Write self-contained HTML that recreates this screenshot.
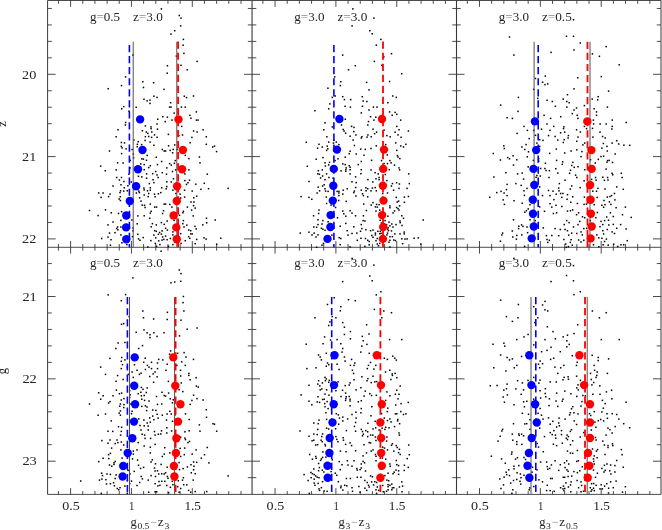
<!DOCTYPE html>
<html><head><meta charset="utf-8"><title>CMD panels</title>
<style>
html,body{margin:0;padding:0;background:#fff;}
svg{display:block;font-family:"Liberation Serif",serif;}
</style></head><body>
<svg width="662" height="530" viewBox="0 0 662 530">
<rect width="662" height="530" fill="#fff"/>
<line x1="47.60" y1="0.50" x2="47.60" y2="494.40" stroke="#383838" stroke-width="1" />
<line x1="252.05" y1="0.50" x2="252.05" y2="494.40" stroke="#383838" stroke-width="1.1" />
<line x1="456.50" y1="0.50" x2="456.50" y2="494.40" stroke="#383838" stroke-width="1.1" />
<line x1="661.00" y1="0.50" x2="661.00" y2="494.40" stroke="#383838" stroke-width="1" />
<line x1="47.60" y1="0.50" x2="661.00" y2="0.50" stroke="#383838" stroke-width="0.9" />
<line x1="47.60" y1="247.30" x2="661.00" y2="247.30" stroke="#383838" stroke-width="0.9" />
<line x1="47.60" y1="494.40" x2="661.00" y2="494.40" stroke="#383838" stroke-width="0.9" />
<line x1="58.43" y1="0.50" x2="58.43" y2="3.80" stroke="#383838" stroke-width="0.9" />
<line x1="58.43" y1="244.00" x2="58.43" y2="250.60" stroke="#383838" stroke-width="0.9" />
<line x1="58.43" y1="491.10" x2="58.43" y2="494.40" stroke="#383838" stroke-width="0.9" />
<line x1="70.60" y1="0.50" x2="70.60" y2="6.80" stroke="#383838" stroke-width="0.9" />
<line x1="70.60" y1="241.00" x2="70.60" y2="253.60" stroke="#383838" stroke-width="0.9" />
<line x1="70.60" y1="488.10" x2="70.60" y2="494.40" stroke="#383838" stroke-width="0.9" />
<line x1="82.77" y1="0.50" x2="82.77" y2="3.80" stroke="#383838" stroke-width="0.9" />
<line x1="82.77" y1="244.00" x2="82.77" y2="250.60" stroke="#383838" stroke-width="0.9" />
<line x1="82.77" y1="491.10" x2="82.77" y2="494.40" stroke="#383838" stroke-width="0.9" />
<line x1="94.94" y1="0.50" x2="94.94" y2="3.80" stroke="#383838" stroke-width="0.9" />
<line x1="94.94" y1="244.00" x2="94.94" y2="250.60" stroke="#383838" stroke-width="0.9" />
<line x1="94.94" y1="491.10" x2="94.94" y2="494.40" stroke="#383838" stroke-width="0.9" />
<line x1="107.11" y1="0.50" x2="107.11" y2="3.80" stroke="#383838" stroke-width="0.9" />
<line x1="107.11" y1="244.00" x2="107.11" y2="250.60" stroke="#383838" stroke-width="0.9" />
<line x1="107.11" y1="491.10" x2="107.11" y2="494.40" stroke="#383838" stroke-width="0.9" />
<line x1="119.28" y1="0.50" x2="119.28" y2="3.80" stroke="#383838" stroke-width="0.9" />
<line x1="119.28" y1="244.00" x2="119.28" y2="250.60" stroke="#383838" stroke-width="0.9" />
<line x1="119.28" y1="491.10" x2="119.28" y2="494.40" stroke="#383838" stroke-width="0.9" />
<line x1="131.45" y1="0.50" x2="131.45" y2="6.80" stroke="#383838" stroke-width="0.9" />
<line x1="131.45" y1="241.00" x2="131.45" y2="253.60" stroke="#383838" stroke-width="0.9" />
<line x1="131.45" y1="488.10" x2="131.45" y2="494.40" stroke="#383838" stroke-width="0.9" />
<line x1="143.62" y1="0.50" x2="143.62" y2="3.80" stroke="#383838" stroke-width="0.9" />
<line x1="143.62" y1="244.00" x2="143.62" y2="250.60" stroke="#383838" stroke-width="0.9" />
<line x1="143.62" y1="491.10" x2="143.62" y2="494.40" stroke="#383838" stroke-width="0.9" />
<line x1="155.79" y1="0.50" x2="155.79" y2="3.80" stroke="#383838" stroke-width="0.9" />
<line x1="155.79" y1="244.00" x2="155.79" y2="250.60" stroke="#383838" stroke-width="0.9" />
<line x1="155.79" y1="491.10" x2="155.79" y2="494.40" stroke="#383838" stroke-width="0.9" />
<line x1="167.96" y1="0.50" x2="167.96" y2="3.80" stroke="#383838" stroke-width="0.9" />
<line x1="167.96" y1="244.00" x2="167.96" y2="250.60" stroke="#383838" stroke-width="0.9" />
<line x1="167.96" y1="491.10" x2="167.96" y2="494.40" stroke="#383838" stroke-width="0.9" />
<line x1="180.13" y1="0.50" x2="180.13" y2="3.80" stroke="#383838" stroke-width="0.9" />
<line x1="180.13" y1="244.00" x2="180.13" y2="250.60" stroke="#383838" stroke-width="0.9" />
<line x1="180.13" y1="491.10" x2="180.13" y2="494.40" stroke="#383838" stroke-width="0.9" />
<line x1="192.30" y1="0.50" x2="192.30" y2="6.80" stroke="#383838" stroke-width="0.9" />
<line x1="192.30" y1="241.00" x2="192.30" y2="253.60" stroke="#383838" stroke-width="0.9" />
<line x1="192.30" y1="488.10" x2="192.30" y2="494.40" stroke="#383838" stroke-width="0.9" />
<line x1="204.47" y1="0.50" x2="204.47" y2="3.80" stroke="#383838" stroke-width="0.9" />
<line x1="204.47" y1="244.00" x2="204.47" y2="250.60" stroke="#383838" stroke-width="0.9" />
<line x1="204.47" y1="491.10" x2="204.47" y2="494.40" stroke="#383838" stroke-width="0.9" />
<line x1="216.64" y1="0.50" x2="216.64" y2="3.80" stroke="#383838" stroke-width="0.9" />
<line x1="216.64" y1="244.00" x2="216.64" y2="250.60" stroke="#383838" stroke-width="0.9" />
<line x1="216.64" y1="491.10" x2="216.64" y2="494.40" stroke="#383838" stroke-width="0.9" />
<line x1="228.81" y1="0.50" x2="228.81" y2="3.80" stroke="#383838" stroke-width="0.9" />
<line x1="228.81" y1="244.00" x2="228.81" y2="250.60" stroke="#383838" stroke-width="0.9" />
<line x1="228.81" y1="491.10" x2="228.81" y2="494.40" stroke="#383838" stroke-width="0.9" />
<line x1="240.98" y1="0.50" x2="240.98" y2="3.80" stroke="#383838" stroke-width="0.9" />
<line x1="240.98" y1="244.00" x2="240.98" y2="250.60" stroke="#383838" stroke-width="0.9" />
<line x1="240.98" y1="491.10" x2="240.98" y2="494.40" stroke="#383838" stroke-width="0.9" />
<line x1="262.88" y1="0.50" x2="262.88" y2="3.80" stroke="#383838" stroke-width="0.9" />
<line x1="262.88" y1="244.00" x2="262.88" y2="250.60" stroke="#383838" stroke-width="0.9" />
<line x1="262.88" y1="491.10" x2="262.88" y2="494.40" stroke="#383838" stroke-width="0.9" />
<line x1="275.05" y1="0.50" x2="275.05" y2="6.80" stroke="#383838" stroke-width="0.9" />
<line x1="275.05" y1="241.00" x2="275.05" y2="253.60" stroke="#383838" stroke-width="0.9" />
<line x1="275.05" y1="488.10" x2="275.05" y2="494.40" stroke="#383838" stroke-width="0.9" />
<line x1="287.22" y1="0.50" x2="287.22" y2="3.80" stroke="#383838" stroke-width="0.9" />
<line x1="287.22" y1="244.00" x2="287.22" y2="250.60" stroke="#383838" stroke-width="0.9" />
<line x1="287.22" y1="491.10" x2="287.22" y2="494.40" stroke="#383838" stroke-width="0.9" />
<line x1="299.39" y1="0.50" x2="299.39" y2="3.80" stroke="#383838" stroke-width="0.9" />
<line x1="299.39" y1="244.00" x2="299.39" y2="250.60" stroke="#383838" stroke-width="0.9" />
<line x1="299.39" y1="491.10" x2="299.39" y2="494.40" stroke="#383838" stroke-width="0.9" />
<line x1="311.56" y1="0.50" x2="311.56" y2="3.80" stroke="#383838" stroke-width="0.9" />
<line x1="311.56" y1="244.00" x2="311.56" y2="250.60" stroke="#383838" stroke-width="0.9" />
<line x1="311.56" y1="491.10" x2="311.56" y2="494.40" stroke="#383838" stroke-width="0.9" />
<line x1="323.73" y1="0.50" x2="323.73" y2="3.80" stroke="#383838" stroke-width="0.9" />
<line x1="323.73" y1="244.00" x2="323.73" y2="250.60" stroke="#383838" stroke-width="0.9" />
<line x1="323.73" y1="491.10" x2="323.73" y2="494.40" stroke="#383838" stroke-width="0.9" />
<line x1="335.90" y1="0.50" x2="335.90" y2="6.80" stroke="#383838" stroke-width="0.9" />
<line x1="335.90" y1="241.00" x2="335.90" y2="253.60" stroke="#383838" stroke-width="0.9" />
<line x1="335.90" y1="488.10" x2="335.90" y2="494.40" stroke="#383838" stroke-width="0.9" />
<line x1="348.07" y1="0.50" x2="348.07" y2="3.80" stroke="#383838" stroke-width="0.9" />
<line x1="348.07" y1="244.00" x2="348.07" y2="250.60" stroke="#383838" stroke-width="0.9" />
<line x1="348.07" y1="491.10" x2="348.07" y2="494.40" stroke="#383838" stroke-width="0.9" />
<line x1="360.24" y1="0.50" x2="360.24" y2="3.80" stroke="#383838" stroke-width="0.9" />
<line x1="360.24" y1="244.00" x2="360.24" y2="250.60" stroke="#383838" stroke-width="0.9" />
<line x1="360.24" y1="491.10" x2="360.24" y2="494.40" stroke="#383838" stroke-width="0.9" />
<line x1="372.41" y1="0.50" x2="372.41" y2="3.80" stroke="#383838" stroke-width="0.9" />
<line x1="372.41" y1="244.00" x2="372.41" y2="250.60" stroke="#383838" stroke-width="0.9" />
<line x1="372.41" y1="491.10" x2="372.41" y2="494.40" stroke="#383838" stroke-width="0.9" />
<line x1="384.58" y1="0.50" x2="384.58" y2="3.80" stroke="#383838" stroke-width="0.9" />
<line x1="384.58" y1="244.00" x2="384.58" y2="250.60" stroke="#383838" stroke-width="0.9" />
<line x1="384.58" y1="491.10" x2="384.58" y2="494.40" stroke="#383838" stroke-width="0.9" />
<line x1="396.75" y1="0.50" x2="396.75" y2="6.80" stroke="#383838" stroke-width="0.9" />
<line x1="396.75" y1="241.00" x2="396.75" y2="253.60" stroke="#383838" stroke-width="0.9" />
<line x1="396.75" y1="488.10" x2="396.75" y2="494.40" stroke="#383838" stroke-width="0.9" />
<line x1="408.92" y1="0.50" x2="408.92" y2="3.80" stroke="#383838" stroke-width="0.9" />
<line x1="408.92" y1="244.00" x2="408.92" y2="250.60" stroke="#383838" stroke-width="0.9" />
<line x1="408.92" y1="491.10" x2="408.92" y2="494.40" stroke="#383838" stroke-width="0.9" />
<line x1="421.09" y1="0.50" x2="421.09" y2="3.80" stroke="#383838" stroke-width="0.9" />
<line x1="421.09" y1="244.00" x2="421.09" y2="250.60" stroke="#383838" stroke-width="0.9" />
<line x1="421.09" y1="491.10" x2="421.09" y2="494.40" stroke="#383838" stroke-width="0.9" />
<line x1="433.26" y1="0.50" x2="433.26" y2="3.80" stroke="#383838" stroke-width="0.9" />
<line x1="433.26" y1="244.00" x2="433.26" y2="250.60" stroke="#383838" stroke-width="0.9" />
<line x1="433.26" y1="491.10" x2="433.26" y2="494.40" stroke="#383838" stroke-width="0.9" />
<line x1="445.43" y1="0.50" x2="445.43" y2="3.80" stroke="#383838" stroke-width="0.9" />
<line x1="445.43" y1="244.00" x2="445.43" y2="250.60" stroke="#383838" stroke-width="0.9" />
<line x1="445.43" y1="491.10" x2="445.43" y2="494.40" stroke="#383838" stroke-width="0.9" />
<line x1="467.33" y1="0.50" x2="467.33" y2="3.80" stroke="#383838" stroke-width="0.9" />
<line x1="467.33" y1="244.00" x2="467.33" y2="250.60" stroke="#383838" stroke-width="0.9" />
<line x1="467.33" y1="491.10" x2="467.33" y2="494.40" stroke="#383838" stroke-width="0.9" />
<line x1="479.50" y1="0.50" x2="479.50" y2="6.80" stroke="#383838" stroke-width="0.9" />
<line x1="479.50" y1="241.00" x2="479.50" y2="253.60" stroke="#383838" stroke-width="0.9" />
<line x1="479.50" y1="488.10" x2="479.50" y2="494.40" stroke="#383838" stroke-width="0.9" />
<line x1="491.67" y1="0.50" x2="491.67" y2="3.80" stroke="#383838" stroke-width="0.9" />
<line x1="491.67" y1="244.00" x2="491.67" y2="250.60" stroke="#383838" stroke-width="0.9" />
<line x1="491.67" y1="491.10" x2="491.67" y2="494.40" stroke="#383838" stroke-width="0.9" />
<line x1="503.84" y1="0.50" x2="503.84" y2="3.80" stroke="#383838" stroke-width="0.9" />
<line x1="503.84" y1="244.00" x2="503.84" y2="250.60" stroke="#383838" stroke-width="0.9" />
<line x1="503.84" y1="491.10" x2="503.84" y2="494.40" stroke="#383838" stroke-width="0.9" />
<line x1="516.01" y1="0.50" x2="516.01" y2="3.80" stroke="#383838" stroke-width="0.9" />
<line x1="516.01" y1="244.00" x2="516.01" y2="250.60" stroke="#383838" stroke-width="0.9" />
<line x1="516.01" y1="491.10" x2="516.01" y2="494.40" stroke="#383838" stroke-width="0.9" />
<line x1="528.18" y1="0.50" x2="528.18" y2="3.80" stroke="#383838" stroke-width="0.9" />
<line x1="528.18" y1="244.00" x2="528.18" y2="250.60" stroke="#383838" stroke-width="0.9" />
<line x1="528.18" y1="491.10" x2="528.18" y2="494.40" stroke="#383838" stroke-width="0.9" />
<line x1="540.35" y1="0.50" x2="540.35" y2="6.80" stroke="#383838" stroke-width="0.9" />
<line x1="540.35" y1="241.00" x2="540.35" y2="253.60" stroke="#383838" stroke-width="0.9" />
<line x1="540.35" y1="488.10" x2="540.35" y2="494.40" stroke="#383838" stroke-width="0.9" />
<line x1="552.52" y1="0.50" x2="552.52" y2="3.80" stroke="#383838" stroke-width="0.9" />
<line x1="552.52" y1="244.00" x2="552.52" y2="250.60" stroke="#383838" stroke-width="0.9" />
<line x1="552.52" y1="491.10" x2="552.52" y2="494.40" stroke="#383838" stroke-width="0.9" />
<line x1="564.69" y1="0.50" x2="564.69" y2="3.80" stroke="#383838" stroke-width="0.9" />
<line x1="564.69" y1="244.00" x2="564.69" y2="250.60" stroke="#383838" stroke-width="0.9" />
<line x1="564.69" y1="491.10" x2="564.69" y2="494.40" stroke="#383838" stroke-width="0.9" />
<line x1="576.86" y1="0.50" x2="576.86" y2="3.80" stroke="#383838" stroke-width="0.9" />
<line x1="576.86" y1="244.00" x2="576.86" y2="250.60" stroke="#383838" stroke-width="0.9" />
<line x1="576.86" y1="491.10" x2="576.86" y2="494.40" stroke="#383838" stroke-width="0.9" />
<line x1="589.03" y1="0.50" x2="589.03" y2="3.80" stroke="#383838" stroke-width="0.9" />
<line x1="589.03" y1="244.00" x2="589.03" y2="250.60" stroke="#383838" stroke-width="0.9" />
<line x1="589.03" y1="491.10" x2="589.03" y2="494.40" stroke="#383838" stroke-width="0.9" />
<line x1="601.20" y1="0.50" x2="601.20" y2="6.80" stroke="#383838" stroke-width="0.9" />
<line x1="601.20" y1="241.00" x2="601.20" y2="253.60" stroke="#383838" stroke-width="0.9" />
<line x1="601.20" y1="488.10" x2="601.20" y2="494.40" stroke="#383838" stroke-width="0.9" />
<line x1="613.37" y1="0.50" x2="613.37" y2="3.80" stroke="#383838" stroke-width="0.9" />
<line x1="613.37" y1="244.00" x2="613.37" y2="250.60" stroke="#383838" stroke-width="0.9" />
<line x1="613.37" y1="491.10" x2="613.37" y2="494.40" stroke="#383838" stroke-width="0.9" />
<line x1="625.54" y1="0.50" x2="625.54" y2="3.80" stroke="#383838" stroke-width="0.9" />
<line x1="625.54" y1="244.00" x2="625.54" y2="250.60" stroke="#383838" stroke-width="0.9" />
<line x1="625.54" y1="491.10" x2="625.54" y2="494.40" stroke="#383838" stroke-width="0.9" />
<line x1="637.71" y1="0.50" x2="637.71" y2="3.80" stroke="#383838" stroke-width="0.9" />
<line x1="637.71" y1="244.00" x2="637.71" y2="250.60" stroke="#383838" stroke-width="0.9" />
<line x1="637.71" y1="491.10" x2="637.71" y2="494.40" stroke="#383838" stroke-width="0.9" />
<line x1="649.88" y1="0.50" x2="649.88" y2="3.80" stroke="#383838" stroke-width="0.9" />
<line x1="649.88" y1="244.00" x2="649.88" y2="250.60" stroke="#383838" stroke-width="0.9" />
<line x1="649.88" y1="491.10" x2="649.88" y2="494.40" stroke="#383838" stroke-width="0.9" />
<line x1="47.60" y1="8.46" x2="51.80" y2="8.46" stroke="#383838" stroke-width="0.9" />
<line x1="247.85" y1="8.46" x2="256.25" y2="8.46" stroke="#383838" stroke-width="0.9" />
<line x1="452.30" y1="8.46" x2="460.70" y2="8.46" stroke="#383838" stroke-width="0.9" />
<line x1="656.80" y1="8.46" x2="661.00" y2="8.46" stroke="#383838" stroke-width="0.9" />
<line x1="47.60" y1="24.92" x2="51.80" y2="24.92" stroke="#383838" stroke-width="0.9" />
<line x1="247.85" y1="24.92" x2="256.25" y2="24.92" stroke="#383838" stroke-width="0.9" />
<line x1="452.30" y1="24.92" x2="460.70" y2="24.92" stroke="#383838" stroke-width="0.9" />
<line x1="656.80" y1="24.92" x2="661.00" y2="24.92" stroke="#383838" stroke-width="0.9" />
<line x1="47.60" y1="41.38" x2="51.80" y2="41.38" stroke="#383838" stroke-width="0.9" />
<line x1="247.85" y1="41.38" x2="256.25" y2="41.38" stroke="#383838" stroke-width="0.9" />
<line x1="452.30" y1="41.38" x2="460.70" y2="41.38" stroke="#383838" stroke-width="0.9" />
<line x1="656.80" y1="41.38" x2="661.00" y2="41.38" stroke="#383838" stroke-width="0.9" />
<line x1="47.60" y1="57.84" x2="51.80" y2="57.84" stroke="#383838" stroke-width="0.9" />
<line x1="247.85" y1="57.84" x2="256.25" y2="57.84" stroke="#383838" stroke-width="0.9" />
<line x1="452.30" y1="57.84" x2="460.70" y2="57.84" stroke="#383838" stroke-width="0.9" />
<line x1="656.80" y1="57.84" x2="661.00" y2="57.84" stroke="#383838" stroke-width="0.9" />
<line x1="47.60" y1="74.30" x2="55.60" y2="74.30" stroke="#383838" stroke-width="0.9" />
<line x1="244.05" y1="74.30" x2="260.05" y2="74.30" stroke="#383838" stroke-width="0.9" />
<line x1="448.50" y1="74.30" x2="464.50" y2="74.30" stroke="#383838" stroke-width="0.9" />
<line x1="653.00" y1="74.30" x2="661.00" y2="74.30" stroke="#383838" stroke-width="0.9" />
<line x1="47.60" y1="90.76" x2="51.80" y2="90.76" stroke="#383838" stroke-width="0.9" />
<line x1="247.85" y1="90.76" x2="256.25" y2="90.76" stroke="#383838" stroke-width="0.9" />
<line x1="452.30" y1="90.76" x2="460.70" y2="90.76" stroke="#383838" stroke-width="0.9" />
<line x1="656.80" y1="90.76" x2="661.00" y2="90.76" stroke="#383838" stroke-width="0.9" />
<line x1="47.60" y1="107.22" x2="51.80" y2="107.22" stroke="#383838" stroke-width="0.9" />
<line x1="247.85" y1="107.22" x2="256.25" y2="107.22" stroke="#383838" stroke-width="0.9" />
<line x1="452.30" y1="107.22" x2="460.70" y2="107.22" stroke="#383838" stroke-width="0.9" />
<line x1="656.80" y1="107.22" x2="661.00" y2="107.22" stroke="#383838" stroke-width="0.9" />
<line x1="47.60" y1="123.68" x2="51.80" y2="123.68" stroke="#383838" stroke-width="0.9" />
<line x1="247.85" y1="123.68" x2="256.25" y2="123.68" stroke="#383838" stroke-width="0.9" />
<line x1="452.30" y1="123.68" x2="460.70" y2="123.68" stroke="#383838" stroke-width="0.9" />
<line x1="656.80" y1="123.68" x2="661.00" y2="123.68" stroke="#383838" stroke-width="0.9" />
<line x1="47.60" y1="140.14" x2="51.80" y2="140.14" stroke="#383838" stroke-width="0.9" />
<line x1="247.85" y1="140.14" x2="256.25" y2="140.14" stroke="#383838" stroke-width="0.9" />
<line x1="452.30" y1="140.14" x2="460.70" y2="140.14" stroke="#383838" stroke-width="0.9" />
<line x1="656.80" y1="140.14" x2="661.00" y2="140.14" stroke="#383838" stroke-width="0.9" />
<line x1="47.60" y1="156.60" x2="55.60" y2="156.60" stroke="#383838" stroke-width="0.9" />
<line x1="244.05" y1="156.60" x2="260.05" y2="156.60" stroke="#383838" stroke-width="0.9" />
<line x1="448.50" y1="156.60" x2="464.50" y2="156.60" stroke="#383838" stroke-width="0.9" />
<line x1="653.00" y1="156.60" x2="661.00" y2="156.60" stroke="#383838" stroke-width="0.9" />
<line x1="47.60" y1="173.06" x2="51.80" y2="173.06" stroke="#383838" stroke-width="0.9" />
<line x1="247.85" y1="173.06" x2="256.25" y2="173.06" stroke="#383838" stroke-width="0.9" />
<line x1="452.30" y1="173.06" x2="460.70" y2="173.06" stroke="#383838" stroke-width="0.9" />
<line x1="656.80" y1="173.06" x2="661.00" y2="173.06" stroke="#383838" stroke-width="0.9" />
<line x1="47.60" y1="189.52" x2="51.80" y2="189.52" stroke="#383838" stroke-width="0.9" />
<line x1="247.85" y1="189.52" x2="256.25" y2="189.52" stroke="#383838" stroke-width="0.9" />
<line x1="452.30" y1="189.52" x2="460.70" y2="189.52" stroke="#383838" stroke-width="0.9" />
<line x1="656.80" y1="189.52" x2="661.00" y2="189.52" stroke="#383838" stroke-width="0.9" />
<line x1="47.60" y1="205.98" x2="51.80" y2="205.98" stroke="#383838" stroke-width="0.9" />
<line x1="247.85" y1="205.98" x2="256.25" y2="205.98" stroke="#383838" stroke-width="0.9" />
<line x1="452.30" y1="205.98" x2="460.70" y2="205.98" stroke="#383838" stroke-width="0.9" />
<line x1="656.80" y1="205.98" x2="661.00" y2="205.98" stroke="#383838" stroke-width="0.9" />
<line x1="47.60" y1="222.44" x2="51.80" y2="222.44" stroke="#383838" stroke-width="0.9" />
<line x1="247.85" y1="222.44" x2="256.25" y2="222.44" stroke="#383838" stroke-width="0.9" />
<line x1="452.30" y1="222.44" x2="460.70" y2="222.44" stroke="#383838" stroke-width="0.9" />
<line x1="656.80" y1="222.44" x2="661.00" y2="222.44" stroke="#383838" stroke-width="0.9" />
<line x1="47.60" y1="238.90" x2="55.60" y2="238.90" stroke="#383838" stroke-width="0.9" />
<line x1="244.05" y1="238.90" x2="260.05" y2="238.90" stroke="#383838" stroke-width="0.9" />
<line x1="448.50" y1="238.90" x2="464.50" y2="238.90" stroke="#383838" stroke-width="0.9" />
<line x1="653.00" y1="238.90" x2="661.00" y2="238.90" stroke="#383838" stroke-width="0.9" />
<line x1="47.60" y1="263.56" x2="51.80" y2="263.56" stroke="#383838" stroke-width="0.9" />
<line x1="247.85" y1="263.56" x2="256.25" y2="263.56" stroke="#383838" stroke-width="0.9" />
<line x1="452.30" y1="263.56" x2="460.70" y2="263.56" stroke="#383838" stroke-width="0.9" />
<line x1="656.80" y1="263.56" x2="661.00" y2="263.56" stroke="#383838" stroke-width="0.9" />
<line x1="47.60" y1="280.03" x2="51.80" y2="280.03" stroke="#383838" stroke-width="0.9" />
<line x1="247.85" y1="280.03" x2="256.25" y2="280.03" stroke="#383838" stroke-width="0.9" />
<line x1="452.30" y1="280.03" x2="460.70" y2="280.03" stroke="#383838" stroke-width="0.9" />
<line x1="656.80" y1="280.03" x2="661.00" y2="280.03" stroke="#383838" stroke-width="0.9" />
<line x1="47.60" y1="296.50" x2="55.60" y2="296.50" stroke="#383838" stroke-width="0.9" />
<line x1="244.05" y1="296.50" x2="260.05" y2="296.50" stroke="#383838" stroke-width="0.9" />
<line x1="448.50" y1="296.50" x2="464.50" y2="296.50" stroke="#383838" stroke-width="0.9" />
<line x1="653.00" y1="296.50" x2="661.00" y2="296.50" stroke="#383838" stroke-width="0.9" />
<line x1="47.60" y1="312.97" x2="51.80" y2="312.97" stroke="#383838" stroke-width="0.9" />
<line x1="247.85" y1="312.97" x2="256.25" y2="312.97" stroke="#383838" stroke-width="0.9" />
<line x1="452.30" y1="312.97" x2="460.70" y2="312.97" stroke="#383838" stroke-width="0.9" />
<line x1="656.80" y1="312.97" x2="661.00" y2="312.97" stroke="#383838" stroke-width="0.9" />
<line x1="47.60" y1="329.44" x2="51.80" y2="329.44" stroke="#383838" stroke-width="0.9" />
<line x1="247.85" y1="329.44" x2="256.25" y2="329.44" stroke="#383838" stroke-width="0.9" />
<line x1="452.30" y1="329.44" x2="460.70" y2="329.44" stroke="#383838" stroke-width="0.9" />
<line x1="656.80" y1="329.44" x2="661.00" y2="329.44" stroke="#383838" stroke-width="0.9" />
<line x1="47.60" y1="345.91" x2="51.80" y2="345.91" stroke="#383838" stroke-width="0.9" />
<line x1="247.85" y1="345.91" x2="256.25" y2="345.91" stroke="#383838" stroke-width="0.9" />
<line x1="452.30" y1="345.91" x2="460.70" y2="345.91" stroke="#383838" stroke-width="0.9" />
<line x1="656.80" y1="345.91" x2="661.00" y2="345.91" stroke="#383838" stroke-width="0.9" />
<line x1="47.60" y1="362.38" x2="51.80" y2="362.38" stroke="#383838" stroke-width="0.9" />
<line x1="247.85" y1="362.38" x2="256.25" y2="362.38" stroke="#383838" stroke-width="0.9" />
<line x1="452.30" y1="362.38" x2="460.70" y2="362.38" stroke="#383838" stroke-width="0.9" />
<line x1="656.80" y1="362.38" x2="661.00" y2="362.38" stroke="#383838" stroke-width="0.9" />
<line x1="47.60" y1="378.85" x2="55.60" y2="378.85" stroke="#383838" stroke-width="0.9" />
<line x1="244.05" y1="378.85" x2="260.05" y2="378.85" stroke="#383838" stroke-width="0.9" />
<line x1="448.50" y1="378.85" x2="464.50" y2="378.85" stroke="#383838" stroke-width="0.9" />
<line x1="653.00" y1="378.85" x2="661.00" y2="378.85" stroke="#383838" stroke-width="0.9" />
<line x1="47.60" y1="395.32" x2="51.80" y2="395.32" stroke="#383838" stroke-width="0.9" />
<line x1="247.85" y1="395.32" x2="256.25" y2="395.32" stroke="#383838" stroke-width="0.9" />
<line x1="452.30" y1="395.32" x2="460.70" y2="395.32" stroke="#383838" stroke-width="0.9" />
<line x1="656.80" y1="395.32" x2="661.00" y2="395.32" stroke="#383838" stroke-width="0.9" />
<line x1="47.60" y1="411.79" x2="51.80" y2="411.79" stroke="#383838" stroke-width="0.9" />
<line x1="247.85" y1="411.79" x2="256.25" y2="411.79" stroke="#383838" stroke-width="0.9" />
<line x1="452.30" y1="411.79" x2="460.70" y2="411.79" stroke="#383838" stroke-width="0.9" />
<line x1="656.80" y1="411.79" x2="661.00" y2="411.79" stroke="#383838" stroke-width="0.9" />
<line x1="47.60" y1="428.26" x2="51.80" y2="428.26" stroke="#383838" stroke-width="0.9" />
<line x1="247.85" y1="428.26" x2="256.25" y2="428.26" stroke="#383838" stroke-width="0.9" />
<line x1="452.30" y1="428.26" x2="460.70" y2="428.26" stroke="#383838" stroke-width="0.9" />
<line x1="656.80" y1="428.26" x2="661.00" y2="428.26" stroke="#383838" stroke-width="0.9" />
<line x1="47.60" y1="444.73" x2="51.80" y2="444.73" stroke="#383838" stroke-width="0.9" />
<line x1="247.85" y1="444.73" x2="256.25" y2="444.73" stroke="#383838" stroke-width="0.9" />
<line x1="452.30" y1="444.73" x2="460.70" y2="444.73" stroke="#383838" stroke-width="0.9" />
<line x1="656.80" y1="444.73" x2="661.00" y2="444.73" stroke="#383838" stroke-width="0.9" />
<line x1="47.60" y1="461.20" x2="55.60" y2="461.20" stroke="#383838" stroke-width="0.9" />
<line x1="244.05" y1="461.20" x2="260.05" y2="461.20" stroke="#383838" stroke-width="0.9" />
<line x1="448.50" y1="461.20" x2="464.50" y2="461.20" stroke="#383838" stroke-width="0.9" />
<line x1="653.00" y1="461.20" x2="661.00" y2="461.20" stroke="#383838" stroke-width="0.9" />
<line x1="47.60" y1="477.67" x2="51.80" y2="477.67" stroke="#383838" stroke-width="0.9" />
<line x1="247.85" y1="477.67" x2="256.25" y2="477.67" stroke="#383838" stroke-width="0.9" />
<line x1="452.30" y1="477.67" x2="460.70" y2="477.67" stroke="#383838" stroke-width="0.9" />
<line x1="656.80" y1="477.67" x2="661.00" y2="477.67" stroke="#383838" stroke-width="0.9" />
<g opacity="0.99">
<text x="36.3" y="78.5" font-size="13.3" text-anchor="end" textLength="14.2" lengthAdjust="spacingAndGlyphs" fill="#222" >20</text>
<text x="36.3" y="160.8" font-size="13.3" text-anchor="end" textLength="14.2" lengthAdjust="spacingAndGlyphs" fill="#222" >21</text>
<text x="36.3" y="243.1" font-size="13.3" text-anchor="end" textLength="14.2" lengthAdjust="spacingAndGlyphs" fill="#222" >22</text>
<text x="36.8" y="300.6" font-size="13.3" text-anchor="end" textLength="14.4" lengthAdjust="spacingAndGlyphs" fill="#222" >21</text>
<text x="36.8" y="383.0" font-size="13.3" text-anchor="end" textLength="14.4" lengthAdjust="spacingAndGlyphs" fill="#222" >22</text>
<text x="36.8" y="465.3" font-size="13.3" text-anchor="end" textLength="14.4" lengthAdjust="spacingAndGlyphs" fill="#222" >23</text>
<text x="71.0" y="510.1" font-size="13.3" text-anchor="middle" textLength="17.6" lengthAdjust="spacingAndGlyphs" fill="#222" >0.5</text>
<text x="131.8" y="510.1" font-size="13.3" text-anchor="middle" textLength="5.4" lengthAdjust="spacingAndGlyphs" fill="#222" >1</text>
<text x="192.7" y="510.1" font-size="13.3" text-anchor="middle" textLength="16.6" lengthAdjust="spacingAndGlyphs" fill="#222" >1.5</text>
<text x="275.4" y="510.1" font-size="13.3" text-anchor="middle" textLength="17.6" lengthAdjust="spacingAndGlyphs" fill="#222" >0.5</text>
<text x="336.3" y="510.1" font-size="13.3" text-anchor="middle" textLength="5.4" lengthAdjust="spacingAndGlyphs" fill="#222" >1</text>
<text x="397.1" y="510.1" font-size="13.3" text-anchor="middle" textLength="16.6" lengthAdjust="spacingAndGlyphs" fill="#222" >1.5</text>
<text x="479.9" y="510.1" font-size="13.3" text-anchor="middle" textLength="17.6" lengthAdjust="spacingAndGlyphs" fill="#222" >0.5</text>
<text x="540.8" y="510.1" font-size="13.3" text-anchor="middle" textLength="5.4" lengthAdjust="spacingAndGlyphs" fill="#222" >1</text>
<text x="601.6" y="510.1" font-size="13.3" text-anchor="middle" textLength="16.6" lengthAdjust="spacingAndGlyphs" fill="#222" >1.5</text>
<text x="89.9" y="21.0" font-size="12" text-anchor="start" textLength="30.2" lengthAdjust="spacingAndGlyphs" fill="#222" >g<tspan fill="#8a8a8a">=</tspan>0.5</text>
<text x="133.0" y="21.0" font-size="12" text-anchor="start" textLength="29.9" lengthAdjust="spacingAndGlyphs" fill="#222" >z<tspan fill="#8a8a8a">=</tspan>3.0</text>
<text x="89.9" y="267.0" font-size="12" text-anchor="start" textLength="30.2" lengthAdjust="spacingAndGlyphs" fill="#222" >g<tspan fill="#8a8a8a">=</tspan>0.5</text>
<text x="133.0" y="267.0" font-size="12" text-anchor="start" textLength="29.9" lengthAdjust="spacingAndGlyphs" fill="#222" >z<tspan fill="#8a8a8a">=</tspan>3.0</text>
<text x="294.3" y="21.0" font-size="12" text-anchor="start" textLength="30.2" lengthAdjust="spacingAndGlyphs" fill="#222" >g<tspan fill="#8a8a8a">=</tspan>3.0</text>
<text x="337.4" y="21.0" font-size="12" text-anchor="start" textLength="29.9" lengthAdjust="spacingAndGlyphs" fill="#222" >z<tspan fill="#8a8a8a">=</tspan>3.0</text>
<text x="294.3" y="267.0" font-size="12" text-anchor="start" textLength="30.2" lengthAdjust="spacingAndGlyphs" fill="#222" >g<tspan fill="#8a8a8a">=</tspan>3.0</text>
<text x="337.4" y="267.0" font-size="12" text-anchor="start" textLength="29.9" lengthAdjust="spacingAndGlyphs" fill="#222" >z<tspan fill="#8a8a8a">=</tspan>3.0</text>
<text x="498.8" y="21.0" font-size="12" text-anchor="start" textLength="30.2" lengthAdjust="spacingAndGlyphs" fill="#222" >g<tspan fill="#8a8a8a">=</tspan>3.0</text>
<text x="541.9" y="21.0" font-size="12" text-anchor="start" textLength="29.9" lengthAdjust="spacingAndGlyphs" fill="#222" >z<tspan fill="#8a8a8a">=</tspan>0.5</text>
<text x="498.8" y="267.0" font-size="12" text-anchor="start" textLength="30.2" lengthAdjust="spacingAndGlyphs" fill="#222" >g<tspan fill="#8a8a8a">=</tspan>3.0</text>
<text x="541.9" y="267.0" font-size="12" text-anchor="start" textLength="29.9" lengthAdjust="spacingAndGlyphs" fill="#222" >z<tspan fill="#8a8a8a">=</tspan>0.5</text>
<text x="130.5" y="525.8" font-size="12" text-anchor="start" textLength="6.3" lengthAdjust="spacingAndGlyphs" fill="#222" >g</text>
<text x="137.4" y="528.7" font-size="7.5" text-anchor="start" textLength="12.0" lengthAdjust="spacingAndGlyphs" fill="#222" >0.5</text>
<text x="150.2" y="525.8" font-size="12" text-anchor="start" textLength="7.0" lengthAdjust="spacingAndGlyphs" fill="#222" ><tspan fill="#8a8a8a">−</tspan></text>
<text x="157.8" y="525.8" font-size="12" text-anchor="start" textLength="6.0" lengthAdjust="spacingAndGlyphs" fill="#222" >z</text>
<text x="164.4" y="528.7" font-size="7.5" text-anchor="start" textLength="4.8" lengthAdjust="spacingAndGlyphs" fill="#222" >3</text>
<text x="338.5" y="525.8" font-size="12" text-anchor="start" textLength="6.3" lengthAdjust="spacingAndGlyphs" fill="#222" >g</text>
<text x="345.4" y="528.7" font-size="7.5" text-anchor="start" textLength="4.8" lengthAdjust="spacingAndGlyphs" fill="#222" >3</text>
<text x="351.0" y="525.8" font-size="12" text-anchor="start" textLength="7.0" lengthAdjust="spacingAndGlyphs" fill="#222" ><tspan fill="#8a8a8a">−</tspan></text>
<text x="358.6" y="525.8" font-size="12" text-anchor="start" textLength="6.0" lengthAdjust="spacingAndGlyphs" fill="#222" >z</text>
<text x="365.2" y="528.7" font-size="7.5" text-anchor="start" textLength="4.8" lengthAdjust="spacingAndGlyphs" fill="#222" >3</text>
<text x="539.2" y="525.8" font-size="12" text-anchor="start" textLength="6.3" lengthAdjust="spacingAndGlyphs" fill="#222" >g</text>
<text x="546.1" y="528.7" font-size="7.5" text-anchor="start" textLength="4.8" lengthAdjust="spacingAndGlyphs" fill="#222" >3</text>
<text x="551.7" y="525.8" font-size="12" text-anchor="start" textLength="7.0" lengthAdjust="spacingAndGlyphs" fill="#222" ><tspan fill="#8a8a8a">−</tspan></text>
<text x="559.3" y="525.8" font-size="12" text-anchor="start" textLength="6.0" lengthAdjust="spacingAndGlyphs" fill="#222" >z</text>
<text x="565.9" y="528.7" font-size="7.5" text-anchor="start" textLength="12.0" lengthAdjust="spacingAndGlyphs" fill="#222" >0.5</text>
<text transform="translate(5.7,124) rotate(-90)" font-size="12.5" text-anchor="middle" fill="#222">z</text>
<text transform="translate(6.0,371) rotate(-90)" font-size="12.5" text-anchor="middle" fill="#222">g</text>
</g>
<g fill="#000">
<rect x="160.65" y="8.15" width="1.5" height="1.5"/>
<rect x="178.55" y="14.75" width="1.5" height="1.5"/>
<rect x="180.25" y="17.35" width="1.5" height="1.5"/>
<rect x="179.95" y="25.15" width="1.5" height="1.5"/>
<rect x="173.95" y="29.95" width="1.5" height="1.5"/>
<rect x="170.25" y="33.35" width="1.5" height="1.5"/>
<rect x="182.65" y="38.65" width="1.5" height="1.5"/>
<rect x="182.35" y="44.45" width="1.5" height="1.5"/>
<rect x="183.15" y="52.65" width="1.5" height="1.5"/>
<rect x="132.15" y="54.35" width="1.5" height="1.5"/>
<rect x="175.65" y="55.35" width="1.5" height="1.5"/>
<rect x="196.35" y="60.65" width="1.5" height="1.5"/>
<rect x="180.25" y="64.55" width="1.5" height="1.5"/>
<rect x="166.65" y="64.95" width="1.5" height="1.5"/>
<rect x="186.45" y="69.05" width="1.5" height="1.5"/>
<rect x="166.45" y="72.45" width="1.5" height="1.5"/>
<rect x="124.85" y="76.15" width="1.5" height="1.5"/>
<rect x="142.05" y="80.95" width="1.5" height="1.5"/>
<rect x="152.85" y="81.95" width="1.5" height="1.5"/>
<rect x="120.75" y="84.85" width="1.5" height="1.5"/>
<rect x="142.75" y="86.75" width="1.5" height="1.5"/>
<rect x="107.45" y="87.95" width="1.5" height="1.5"/>
<rect x="163.25" y="88.65" width="1.5" height="1.5"/>
<rect x="153.15" y="95.45" width="1.5" height="1.5"/>
<rect x="156.25" y="96.65" width="1.5" height="1.5"/>
<rect x="192.75" y="95.25" width="1.5" height="1.5"/>
<rect x="183.55" y="95.45" width="1.5" height="1.5"/>
<rect x="185.75" y="96.85" width="1.5" height="1.5"/>
<rect x="143.25" y="98.55" width="1.5" height="1.5"/>
<rect x="146.35" y="100.05" width="1.5" height="1.5"/>
<rect x="149.25" y="99.35" width="1.5" height="1.5"/>
<rect x="149.25" y="102.65" width="1.5" height="1.5"/>
<rect x="169.85" y="101.95" width="1.5" height="1.5"/>
<rect x="122.95" y="105.85" width="1.5" height="1.5"/>
<rect x="120.95" y="108.05" width="1.5" height="1.5"/>
<rect x="135.45" y="106.55" width="1.5" height="1.5"/>
<rect x="168.85" y="106.35" width="1.5" height="1.5"/>
<rect x="170.25" y="106.35" width="1.5" height="1.5"/>
<rect x="184.55" y="106.35" width="1.5" height="1.5"/>
<rect x="180.65" y="106.35" width="1.5" height="1.5"/>
<rect x="195.65" y="111.15" width="1.5" height="1.5"/>
<rect x="128.25" y="110.45" width="1.5" height="1.5"/>
<rect x="173.45" y="112.35" width="1.5" height="1.5"/>
<rect x="162.05" y="115.95" width="1.5" height="1.5"/>
<rect x="166.65" y="116.45" width="1.5" height="1.5"/>
<rect x="156.95" y="118.45" width="1.5" height="1.5"/>
<rect x="171.25" y="119.35" width="1.5" height="1.5"/>
<rect x="189.15" y="114.55" width="1.5" height="1.5"/>
<rect x="190.15" y="117.45" width="1.5" height="1.5"/>
<rect x="195.65" y="119.35" width="1.5" height="1.5"/>
<rect x="197.35" y="119.35" width="1.5" height="1.5"/>
<rect x="124.85" y="121.75" width="1.5" height="1.5"/>
<rect x="124.65" y="124.25" width="1.5" height="1.5"/>
<rect x="144.65" y="125.15" width="1.5" height="1.5"/>
<rect x="150.25" y="126.15" width="1.5" height="1.5"/>
<rect x="156.25" y="123.25" width="1.5" height="1.5"/>
<rect x="180.95" y="125.65" width="1.5" height="1.5"/>
<rect x="164.45" y="120.85" width="1.5" height="1.5"/>
<rect x="117.25" y="129.05" width="1.5" height="1.5"/>
<rect x="141.65" y="129.95" width="1.5" height="1.5"/>
<rect x="150.35" y="127.85" width="1.5" height="1.5"/>
<rect x="156.75" y="128.45" width="1.5" height="1.5"/>
<rect x="145.55" y="131.25" width="1.5" height="1.5"/>
<rect x="147.05" y="132.65" width="1.5" height="1.5"/>
<rect x="151.05" y="131.25" width="1.5" height="1.5"/>
<rect x="153.75" y="134.15" width="1.5" height="1.5"/>
<rect x="115.35" y="136.05" width="1.5" height="1.5"/>
<rect x="144.65" y="135.95" width="1.5" height="1.5"/>
<rect x="147.95" y="135.75" width="1.5" height="1.5"/>
<rect x="150.85" y="136.65" width="1.5" height="1.5"/>
<rect x="156.35" y="136.55" width="1.5" height="1.5"/>
<rect x="133.15" y="139.35" width="1.5" height="1.5"/>
<rect x="144.35" y="139.65" width="1.5" height="1.5"/>
<rect x="137.45" y="140.95" width="1.5" height="1.5"/>
<rect x="149.35" y="141.35" width="1.5" height="1.5"/>
<rect x="120.65" y="141.75" width="1.5" height="1.5"/>
<rect x="123.75" y="142.15" width="1.5" height="1.5"/>
<rect x="136.65" y="143.55" width="1.5" height="1.5"/>
<rect x="140.85" y="143.85" width="1.5" height="1.5"/>
<rect x="153.15" y="144.55" width="1.5" height="1.5"/>
<rect x="120.55" y="145.65" width="1.5" height="1.5"/>
<rect x="121.35" y="147.15" width="1.5" height="1.5"/>
<rect x="125.35" y="148.15" width="1.5" height="1.5"/>
<rect x="136.45" y="145.95" width="1.5" height="1.5"/>
<rect x="131.35" y="148.75" width="1.5" height="1.5"/>
<rect x="161.55" y="148.75" width="1.5" height="1.5"/>
<rect x="163.45" y="150.25" width="1.5" height="1.5"/>
<rect x="108.75" y="150.25" width="1.5" height="1.5"/>
<rect x="120.85" y="152.85" width="1.5" height="1.5"/>
<rect x="132.55" y="153.25" width="1.5" height="1.5"/>
<rect x="146.45" y="154.65" width="1.5" height="1.5"/>
<rect x="155.55" y="156.45" width="1.5" height="1.5"/>
<rect x="132.85" y="157.05" width="1.5" height="1.5"/>
<rect x="141.05" y="158.05" width="1.5" height="1.5"/>
<rect x="142.65" y="158.35" width="1.5" height="1.5"/>
<rect x="145.75" y="159.55" width="1.5" height="1.5"/>
<rect x="129.55" y="159.65" width="1.5" height="1.5"/>
<rect x="160.85" y="160.75" width="1.5" height="1.5"/>
<rect x="116.85" y="162.05" width="1.5" height="1.5"/>
<rect x="122.35" y="162.25" width="1.5" height="1.5"/>
<rect x="140.05" y="163.15" width="1.5" height="1.5"/>
<rect x="143.45" y="163.85" width="1.5" height="1.5"/>
<rect x="149.55" y="164.95" width="1.5" height="1.5"/>
<rect x="156.75" y="163.85" width="1.5" height="1.5"/>
<rect x="99.95" y="165.35" width="1.5" height="1.5"/>
<rect x="147.95" y="166.85" width="1.5" height="1.5"/>
<rect x="129.25" y="167.15" width="1.5" height="1.5"/>
<rect x="115.45" y="169.15" width="1.5" height="1.5"/>
<rect x="104.55" y="169.95" width="1.5" height="1.5"/>
<rect x="143.45" y="168.95" width="1.5" height="1.5"/>
<rect x="154.95" y="170.75" width="1.5" height="1.5"/>
<rect x="161.55" y="171.95" width="1.5" height="1.5"/>
<rect x="128.15" y="173.45" width="1.5" height="1.5"/>
<rect x="145.85" y="173.15" width="1.5" height="1.5"/>
<rect x="151.95" y="172.95" width="1.5" height="1.5"/>
<rect x="156.25" y="174.15" width="1.5" height="1.5"/>
<rect x="137.75" y="175.55" width="1.5" height="1.5"/>
<rect x="141.05" y="176.15" width="1.5" height="1.5"/>
<rect x="157.35" y="176.75" width="1.5" height="1.5"/>
<rect x="115.95" y="176.75" width="1.5" height="1.5"/>
<rect x="120.75" y="176.75" width="1.5" height="1.5"/>
<rect x="145.85" y="177.45" width="1.5" height="1.5"/>
<rect x="118.65" y="179.25" width="1.5" height="1.5"/>
<rect x="152.25" y="178.95" width="1.5" height="1.5"/>
<rect x="123.15" y="180.75" width="1.5" height="1.5"/>
<rect x="130.55" y="181.25" width="1.5" height="1.5"/>
<rect x="148.65" y="182.85" width="1.5" height="1.5"/>
<rect x="153.15" y="181.85" width="1.5" height="1.5"/>
<rect x="112.25" y="185.25" width="1.5" height="1.5"/>
<rect x="120.25" y="184.05" width="1.5" height="1.5"/>
<rect x="127.15" y="185.05" width="1.5" height="1.5"/>
<rect x="123.55" y="187.05" width="1.5" height="1.5"/>
<rect x="143.15" y="187.35" width="1.5" height="1.5"/>
<rect x="143.45" y="189.15" width="1.5" height="1.5"/>
<rect x="149.55" y="187.05" width="1.5" height="1.5"/>
<rect x="160.95" y="187.05" width="1.5" height="1.5"/>
<rect x="119.85" y="190.05" width="1.5" height="1.5"/>
<rect x="122.95" y="190.35" width="1.5" height="1.5"/>
<rect x="126.55" y="190.05" width="1.5" height="1.5"/>
<rect x="138.05" y="190.35" width="1.5" height="1.5"/>
<rect x="146.75" y="190.05" width="1.5" height="1.5"/>
<rect x="149.55" y="189.45" width="1.5" height="1.5"/>
<rect x="202.35" y="129.05" width="1.5" height="1.5"/>
<rect x="192.85" y="130.25" width="1.5" height="1.5"/>
<rect x="196.35" y="131.25" width="1.5" height="1.5"/>
<rect x="167.65" y="133.65" width="1.5" height="1.5"/>
<rect x="181.75" y="134.25" width="1.5" height="1.5"/>
<rect x="178.15" y="134.85" width="1.5" height="1.5"/>
<rect x="205.55" y="136.05" width="1.5" height="1.5"/>
<rect x="191.15" y="136.65" width="1.5" height="1.5"/>
<rect x="189.35" y="141.95" width="1.5" height="1.5"/>
<rect x="205.55" y="143.55" width="1.5" height="1.5"/>
<rect x="167.85" y="145.15" width="1.5" height="1.5"/>
<rect x="173.95" y="144.15" width="1.5" height="1.5"/>
<rect x="213.75" y="145.35" width="1.5" height="1.5"/>
<rect x="211.95" y="146.25" width="1.5" height="1.5"/>
<rect x="172.45" y="148.65" width="1.5" height="1.5"/>
<rect x="176.35" y="148.65" width="1.5" height="1.5"/>
<rect x="169.45" y="149.65" width="1.5" height="1.5"/>
<rect x="164.85" y="150.25" width="1.5" height="1.5"/>
<rect x="215.85" y="150.85" width="1.5" height="1.5"/>
<rect x="171.85" y="152.05" width="1.5" height="1.5"/>
<rect x="184.55" y="154.65" width="1.5" height="1.5"/>
<rect x="198.65" y="156.25" width="1.5" height="1.5"/>
<rect x="188.15" y="157.85" width="1.5" height="1.5"/>
<rect x="174.55" y="159.85" width="1.5" height="1.5"/>
<rect x="173.65" y="162.55" width="1.5" height="1.5"/>
<rect x="199.25" y="162.05" width="1.5" height="1.5"/>
<rect x="168.85" y="162.85" width="1.5" height="1.5"/>
<rect x="170.55" y="164.35" width="1.5" height="1.5"/>
<rect x="166.05" y="167.15" width="1.5" height="1.5"/>
<rect x="188.15" y="169.15" width="1.5" height="1.5"/>
<rect x="174.85" y="169.15" width="1.5" height="1.5"/>
<rect x="171.75" y="170.75" width="1.5" height="1.5"/>
<rect x="165.75" y="173.45" width="1.5" height="1.5"/>
<rect x="184.15" y="173.15" width="1.5" height="1.5"/>
<rect x="206.55" y="173.45" width="1.5" height="1.5"/>
<rect x="172.75" y="178.05" width="1.5" height="1.5"/>
<rect x="188.75" y="179.45" width="1.5" height="1.5"/>
<rect x="184.15" y="179.85" width="1.5" height="1.5"/>
<rect x="166.05" y="181.05" width="1.5" height="1.5"/>
<rect x="170.55" y="181.25" width="1.5" height="1.5"/>
<rect x="187.25" y="181.95" width="1.5" height="1.5"/>
<rect x="185.75" y="183.65" width="1.5" height="1.5"/>
<rect x="195.05" y="183.45" width="1.5" height="1.5"/>
<rect x="203.55" y="182.55" width="1.5" height="1.5"/>
<rect x="166.05" y="185.85" width="1.5" height="1.5"/>
<rect x="165.45" y="188.05" width="1.5" height="1.5"/>
<rect x="200.15" y="188.55" width="1.5" height="1.5"/>
<rect x="207.75" y="187.95" width="1.5" height="1.5"/>
<rect x="227.35" y="187.65" width="1.5" height="1.5"/>
<rect x="183.85" y="189.45" width="1.5" height="1.5"/>
<rect x="172.15" y="189.45" width="1.5" height="1.5"/>
<rect x="191.45" y="190.35" width="1.5" height="1.5"/>
<rect x="97.95" y="192.25" width="1.5" height="1.5"/>
<rect x="102.35" y="192.25" width="1.5" height="1.5"/>
<rect x="109.35" y="193.35" width="1.5" height="1.5"/>
<rect x="119.25" y="191.85" width="1.5" height="1.5"/>
<rect x="135.65" y="192.25" width="1.5" height="1.5"/>
<rect x="138.65" y="191.85" width="1.5" height="1.5"/>
<rect x="143.45" y="194.25" width="1.5" height="1.5"/>
<rect x="147.95" y="192.75" width="1.5" height="1.5"/>
<rect x="147.45" y="195.85" width="1.5" height="1.5"/>
<rect x="153.75" y="193.45" width="1.5" height="1.5"/>
<rect x="154.35" y="196.05" width="1.5" height="1.5"/>
<rect x="157.65" y="193.05" width="1.5" height="1.5"/>
<rect x="160.05" y="191.85" width="1.5" height="1.5"/>
<rect x="100.35" y="196.65" width="1.5" height="1.5"/>
<rect x="107.85" y="195.85" width="1.5" height="1.5"/>
<rect x="119.55" y="196.05" width="1.5" height="1.5"/>
<rect x="118.45" y="198.25" width="1.5" height="1.5"/>
<rect x="119.65" y="199.75" width="1.5" height="1.5"/>
<rect x="138.85" y="197.05" width="1.5" height="1.5"/>
<rect x="140.25" y="200.35" width="1.5" height="1.5"/>
<rect x="149.55" y="203.35" width="1.5" height="1.5"/>
<rect x="141.45" y="204.35" width="1.5" height="1.5"/>
<rect x="143.75" y="204.55" width="1.5" height="1.5"/>
<rect x="144.35" y="206.75" width="1.5" height="1.5"/>
<rect x="153.95" y="206.35" width="1.5" height="1.5"/>
<rect x="155.75" y="206.35" width="1.5" height="1.5"/>
<rect x="163.45" y="203.35" width="1.5" height="1.5"/>
<rect x="88.75" y="209.75" width="1.5" height="1.5"/>
<rect x="104.75" y="209.05" width="1.5" height="1.5"/>
<rect x="162.75" y="209.95" width="1.5" height="1.5"/>
<rect x="150.45" y="210.55" width="1.5" height="1.5"/>
<rect x="149.55" y="212.35" width="1.5" height="1.5"/>
<rect x="161.85" y="212.75" width="1.5" height="1.5"/>
<rect x="110.55" y="212.05" width="1.5" height="1.5"/>
<rect x="117.75" y="212.65" width="1.5" height="1.5"/>
<rect x="120.85" y="210.95" width="1.5" height="1.5"/>
<rect x="97.35" y="214.85" width="1.5" height="1.5"/>
<rect x="137.05" y="215.15" width="1.5" height="1.5"/>
<rect x="143.45" y="215.05" width="1.5" height="1.5"/>
<rect x="148.95" y="217.55" width="1.5" height="1.5"/>
<rect x="120.15" y="219.65" width="1.5" height="1.5"/>
<rect x="131.15" y="219.25" width="1.5" height="1.5"/>
<rect x="112.25" y="221.25" width="1.5" height="1.5"/>
<rect x="136.45" y="223.05" width="1.5" height="1.5"/>
<rect x="151.65" y="222.95" width="1.5" height="1.5"/>
<rect x="160.65" y="221.85" width="1.5" height="1.5"/>
<rect x="107.25" y="224.15" width="1.5" height="1.5"/>
<rect x="155.55" y="224.15" width="1.5" height="1.5"/>
<rect x="150.45" y="226.05" width="1.5" height="1.5"/>
<rect x="163.45" y="223.65" width="1.5" height="1.5"/>
<rect x="116.85" y="226.25" width="1.5" height="1.5"/>
<rect x="115.95" y="227.75" width="1.5" height="1.5"/>
<rect x="117.15" y="229.05" width="1.5" height="1.5"/>
<rect x="120.15" y="226.25" width="1.5" height="1.5"/>
<rect x="132.25" y="227.25" width="1.5" height="1.5"/>
<rect x="132.25" y="230.15" width="1.5" height="1.5"/>
<rect x="153.95" y="229.95" width="1.5" height="1.5"/>
<rect x="155.55" y="230.55" width="1.5" height="1.5"/>
<rect x="161.35" y="230.15" width="1.5" height="1.5"/>
<rect x="158.85" y="231.75" width="1.5" height="1.5"/>
<rect x="108.75" y="232.35" width="1.5" height="1.5"/>
<rect x="137.05" y="233.55" width="1.5" height="1.5"/>
<rect x="157.65" y="233.55" width="1.5" height="1.5"/>
<rect x="160.65" y="233.35" width="1.5" height="1.5"/>
<rect x="120.15" y="234.15" width="1.5" height="1.5"/>
<rect x="114.25" y="231.95" width="1.5" height="1.5"/>
<rect x="153.15" y="234.35" width="1.5" height="1.5"/>
<rect x="107.25" y="236.35" width="1.5" height="1.5"/>
<rect x="131.75" y="235.95" width="1.5" height="1.5"/>
<rect x="142.45" y="236.85" width="1.5" height="1.5"/>
<rect x="154.95" y="237.15" width="1.5" height="1.5"/>
<rect x="161.85" y="236.25" width="1.5" height="1.5"/>
<rect x="100.95" y="237.75" width="1.5" height="1.5"/>
<rect x="137.75" y="238.15" width="1.5" height="1.5"/>
<rect x="110.25" y="238.95" width="1.5" height="1.5"/>
<rect x="139.25" y="239.55" width="1.5" height="1.5"/>
<rect x="150.15" y="239.85" width="1.5" height="1.5"/>
<rect x="157.95" y="240.15" width="1.5" height="1.5"/>
<rect x="161.25" y="239.35" width="1.5" height="1.5"/>
<rect x="163.05" y="238.65" width="1.5" height="1.5"/>
<rect x="121.15" y="242.05" width="1.5" height="1.5"/>
<rect x="126.15" y="243.85" width="1.5" height="1.5"/>
<rect x="109.65" y="244.45" width="1.5" height="1.5"/>
<rect x="154.55" y="242.65" width="1.5" height="1.5"/>
<rect x="159.15" y="243.85" width="1.5" height="1.5"/>
<rect x="155.75" y="245.65" width="1.5" height="1.5"/>
<rect x="147.05" y="246.25" width="1.5" height="1.5"/>
<rect x="160.35" y="250.45" width="1.5" height="1.5"/>
<rect x="175.15" y="192.75" width="1.5" height="1.5"/>
<rect x="179.35" y="193.35" width="1.5" height="1.5"/>
<rect x="183.85" y="196.35" width="1.5" height="1.5"/>
<rect x="195.95" y="195.45" width="1.5" height="1.5"/>
<rect x="193.05" y="197.05" width="1.5" height="1.5"/>
<rect x="179.95" y="197.25" width="1.5" height="1.5"/>
<rect x="190.25" y="201.25" width="1.5" height="1.5"/>
<rect x="193.25" y="201.25" width="1.5" height="1.5"/>
<rect x="164.85" y="203.35" width="1.5" height="1.5"/>
<rect x="169.05" y="203.65" width="1.5" height="1.5"/>
<rect x="171.15" y="206.35" width="1.5" height="1.5"/>
<rect x="186.65" y="206.35" width="1.5" height="1.5"/>
<rect x="192.85" y="204.95" width="1.5" height="1.5"/>
<rect x="194.45" y="207.35" width="1.5" height="1.5"/>
<rect x="190.85" y="209.35" width="1.5" height="1.5"/>
<rect x="182.65" y="210.55" width="1.5" height="1.5"/>
<rect x="182.15" y="212.05" width="1.5" height="1.5"/>
<rect x="178.75" y="214.55" width="1.5" height="1.5"/>
<rect x="192.45" y="215.15" width="1.5" height="1.5"/>
<rect x="205.75" y="217.55" width="1.5" height="1.5"/>
<rect x="214.45" y="219.25" width="1.5" height="1.5"/>
<rect x="166.45" y="220.25" width="1.5" height="1.5"/>
<rect x="173.35" y="219.65" width="1.5" height="1.5"/>
<rect x="182.65" y="219.85" width="1.5" height="1.5"/>
<rect x="182.05" y="222.95" width="1.5" height="1.5"/>
<rect x="205.95" y="222.05" width="1.5" height="1.5"/>
<rect x="186.05" y="224.45" width="1.5" height="1.5"/>
<rect x="202.05" y="224.15" width="1.5" height="1.5"/>
<rect x="194.25" y="225.65" width="1.5" height="1.5"/>
<rect x="183.25" y="226.25" width="1.5" height="1.5"/>
<rect x="164.85" y="227.55" width="1.5" height="1.5"/>
<rect x="166.65" y="229.35" width="1.5" height="1.5"/>
<rect x="195.45" y="228.15" width="1.5" height="1.5"/>
<rect x="188.05" y="229.35" width="1.5" height="1.5"/>
<rect x="189.95" y="229.95" width="1.5" height="1.5"/>
<rect x="172.15" y="231.15" width="1.5" height="1.5"/>
<rect x="179.95" y="232.95" width="1.5" height="1.5"/>
<rect x="189.95" y="233.15" width="1.5" height="1.5"/>
<rect x="191.45" y="233.15" width="1.5" height="1.5"/>
<rect x="172.15" y="234.15" width="1.5" height="1.5"/>
<rect x="164.85" y="235.35" width="1.5" height="1.5"/>
<rect x="187.85" y="235.95" width="1.5" height="1.5"/>
<rect x="189.05" y="237.55" width="1.5" height="1.5"/>
<rect x="169.65" y="237.75" width="1.5" height="1.5"/>
<rect x="166.35" y="238.95" width="1.5" height="1.5"/>
<rect x="195.95" y="238.65" width="1.5" height="1.5"/>
<rect x="203.25" y="237.15" width="1.5" height="1.5"/>
<rect x="205.35" y="238.35" width="1.5" height="1.5"/>
<rect x="220.05" y="237.45" width="1.5" height="1.5"/>
<rect x="184.55" y="239.95" width="1.5" height="1.5"/>
<rect x="194.45" y="242.95" width="1.5" height="1.5"/>
<rect x="180.35" y="242.65" width="1.5" height="1.5"/>
<rect x="172.15" y="243.85" width="1.5" height="1.5"/>
<rect x="167.65" y="245.65" width="1.5" height="1.5"/>
<rect x="215.95" y="243.45" width="1.5" height="1.5"/>
<rect x="352.05" y="8.15" width="1.5" height="1.5"/>
<rect x="373.15" y="17.35" width="1.5" height="1.5"/>
<rect x="351.35" y="25.15" width="1.5" height="1.5"/>
<rect x="369.05" y="29.95" width="1.5" height="1.5"/>
<rect x="371.45" y="33.05" width="1.5" height="1.5"/>
<rect x="380.15" y="38.65" width="1.5" height="1.5"/>
<rect x="375.55" y="44.45" width="1.5" height="1.5"/>
<rect x="390.75" y="52.95" width="1.5" height="1.5"/>
<rect x="341.95" y="54.35" width="1.5" height="1.5"/>
<rect x="383.05" y="56.05" width="1.5" height="1.5"/>
<rect x="373.65" y="60.65" width="1.5" height="1.5"/>
<rect x="354.55" y="64.95" width="1.5" height="1.5"/>
<rect x="381.05" y="64.55" width="1.5" height="1.5"/>
<rect x="347.75" y="69.05" width="1.5" height="1.5"/>
<rect x="400.95" y="72.95" width="1.5" height="1.5"/>
<rect x="333.95" y="76.15" width="1.5" height="1.5"/>
<rect x="340.05" y="80.95" width="1.5" height="1.5"/>
<rect x="388.85" y="80.75" width="1.5" height="1.5"/>
<rect x="365.85" y="81.65" width="1.5" height="1.5"/>
<rect x="339.55" y="84.85" width="1.5" height="1.5"/>
<rect x="327.15" y="87.45" width="1.5" height="1.5"/>
<rect x="368.25" y="89.15" width="1.5" height="1.5"/>
<rect x="334.45" y="95.25" width="1.5" height="1.5"/>
<rect x="331.55" y="96.65" width="1.5" height="1.5"/>
<rect x="341.95" y="95.95" width="1.5" height="1.5"/>
<rect x="361.55" y="95.95" width="1.5" height="1.5"/>
<rect x="391.95" y="95.25" width="1.5" height="1.5"/>
<rect x="395.55" y="96.65" width="1.5" height="1.5"/>
<rect x="343.65" y="98.85" width="1.5" height="1.5"/>
<rect x="349.95" y="98.85" width="1.5" height="1.5"/>
<rect x="362.45" y="100.25" width="1.5" height="1.5"/>
<rect x="366.15" y="100.75" width="1.5" height="1.5"/>
<rect x="387.15" y="101.95" width="1.5" height="1.5"/>
<rect x="329.15" y="103.15" width="1.5" height="1.5"/>
<rect x="344.35" y="105.55" width="1.5" height="1.5"/>
<rect x="349.65" y="106.35" width="1.5" height="1.5"/>
<rect x="361.75" y="105.55" width="1.5" height="1.5"/>
<rect x="372.65" y="106.35" width="1.5" height="1.5"/>
<rect x="376.25" y="106.35" width="1.5" height="1.5"/>
<rect x="327.95" y="108.05" width="1.5" height="1.5"/>
<rect x="314.15" y="109.95" width="1.5" height="1.5"/>
<rect x="368.25" y="109.25" width="1.5" height="1.5"/>
<rect x="360.55" y="112.15" width="1.5" height="1.5"/>
<rect x="388.85" y="111.15" width="1.5" height="1.5"/>
<rect x="394.35" y="111.65" width="1.5" height="1.5"/>
<rect x="396.05" y="113.55" width="1.5" height="1.5"/>
<rect x="391.45" y="114.55" width="1.5" height="1.5"/>
<rect x="369.75" y="115.95" width="1.5" height="1.5"/>
<rect x="375.05" y="116.45" width="1.5" height="1.5"/>
<rect x="344.55" y="118.45" width="1.5" height="1.5"/>
<rect x="373.15" y="119.35" width="1.5" height="1.5"/>
<rect x="324.25" y="122.05" width="1.5" height="1.5"/>
<rect x="399.95" y="119.35" width="1.5" height="1.5"/>
<rect x="367.75" y="120.85" width="1.5" height="1.5"/>
<rect x="367.05" y="124.25" width="1.5" height="1.5"/>
<rect x="340.75" y="124.25" width="1.5" height="1.5"/>
<rect x="350.85" y="125.65" width="1.5" height="1.5"/>
<rect x="353.25" y="126.65" width="1.5" height="1.5"/>
<rect x="396.05" y="125.65" width="1.5" height="1.5"/>
<rect x="331.55" y="126.15" width="1.5" height="1.5"/>
<rect x="323.05" y="129.05" width="1.5" height="1.5"/>
<rect x="342.45" y="128.75" width="1.5" height="1.5"/>
<rect x="343.35" y="130.25" width="1.5" height="1.5"/>
<rect x="353.05" y="130.85" width="1.5" height="1.5"/>
<rect x="344.85" y="132.45" width="1.5" height="1.5"/>
<rect x="355.15" y="134.25" width="1.5" height="1.5"/>
<rect x="349.35" y="135.45" width="1.5" height="1.5"/>
<rect x="361.15" y="135.95" width="1.5" height="1.5"/>
<rect x="360.55" y="137.25" width="1.5" height="1.5"/>
<rect x="367.15" y="134.25" width="1.5" height="1.5"/>
<rect x="366.35" y="136.35" width="1.5" height="1.5"/>
<rect x="326.15" y="136.05" width="1.5" height="1.5"/>
<rect x="352.35" y="139.35" width="1.5" height="1.5"/>
<rect x="327.95" y="141.35" width="1.5" height="1.5"/>
<rect x="333.15" y="139.65" width="1.5" height="1.5"/>
<rect x="335.55" y="141.35" width="1.5" height="1.5"/>
<rect x="332.75" y="142.35" width="1.5" height="1.5"/>
<rect x="305.55" y="141.55" width="1.5" height="1.5"/>
<rect x="318.25" y="143.55" width="1.5" height="1.5"/>
<rect x="338.15" y="143.85" width="1.5" height="1.5"/>
<rect x="353.65" y="144.75" width="1.5" height="1.5"/>
<rect x="326.45" y="145.35" width="1.5" height="1.5"/>
<rect x="321.55" y="146.35" width="1.5" height="1.5"/>
<rect x="316.85" y="147.45" width="1.5" height="1.5"/>
<rect x="327.05" y="148.05" width="1.5" height="1.5"/>
<rect x="325.85" y="149.65" width="1.5" height="1.5"/>
<rect x="359.95" y="148.35" width="1.5" height="1.5"/>
<rect x="364.55" y="148.65" width="1.5" height="1.5"/>
<rect x="349.35" y="150.45" width="1.5" height="1.5"/>
<rect x="348.45" y="152.95" width="1.5" height="1.5"/>
<rect x="355.45" y="153.25" width="1.5" height="1.5"/>
<rect x="363.25" y="154.45" width="1.5" height="1.5"/>
<rect x="322.25" y="156.85" width="1.5" height="1.5"/>
<rect x="344.45" y="156.45" width="1.5" height="1.5"/>
<rect x="315.45" y="158.45" width="1.5" height="1.5"/>
<rect x="337.25" y="158.05" width="1.5" height="1.5"/>
<rect x="334.35" y="159.85" width="1.5" height="1.5"/>
<rect x="360.55" y="160.75" width="1.5" height="1.5"/>
<rect x="324.25" y="162.05" width="1.5" height="1.5"/>
<rect x="328.75" y="161.65" width="1.5" height="1.5"/>
<rect x="327.95" y="164.15" width="1.5" height="1.5"/>
<rect x="342.05" y="163.15" width="1.5" height="1.5"/>
<rect x="344.45" y="163.85" width="1.5" height="1.5"/>
<rect x="348.45" y="164.95" width="1.5" height="1.5"/>
<rect x="357.55" y="163.85" width="1.5" height="1.5"/>
<rect x="324.65" y="165.35" width="1.5" height="1.5"/>
<rect x="306.55" y="165.55" width="1.5" height="1.5"/>
<rect x="349.35" y="166.55" width="1.5" height="1.5"/>
<rect x="345.45" y="167.15" width="1.5" height="1.5"/>
<rect x="345.05" y="168.95" width="1.5" height="1.5"/>
<rect x="349.35" y="168.95" width="1.5" height="1.5"/>
<rect x="360.55" y="168.95" width="1.5" height="1.5"/>
<rect x="321.55" y="169.15" width="1.5" height="1.5"/>
<rect x="317.65" y="169.95" width="1.5" height="1.5"/>
<rect x="340.35" y="170.15" width="1.5" height="1.5"/>
<rect x="345.05" y="170.55" width="1.5" height="1.5"/>
<rect x="317.05" y="173.15" width="1.5" height="1.5"/>
<rect x="318.65" y="173.55" width="1.5" height="1.5"/>
<rect x="325.85" y="173.15" width="1.5" height="1.5"/>
<rect x="349.35" y="173.15" width="1.5" height="1.5"/>
<rect x="360.15" y="172.95" width="1.5" height="1.5"/>
<rect x="321.85" y="175.25" width="1.5" height="1.5"/>
<rect x="319.85" y="177.15" width="1.5" height="1.5"/>
<rect x="328.15" y="176.75" width="1.5" height="1.5"/>
<rect x="332.35" y="177.45" width="1.5" height="1.5"/>
<rect x="354.85" y="176.15" width="1.5" height="1.5"/>
<rect x="324.25" y="178.95" width="1.5" height="1.5"/>
<rect x="367.15" y="178.85" width="1.5" height="1.5"/>
<rect x="308.25" y="180.75" width="1.5" height="1.5"/>
<rect x="351.25" y="181.05" width="1.5" height="1.5"/>
<rect x="355.45" y="181.85" width="1.5" height="1.5"/>
<rect x="323.45" y="184.05" width="1.5" height="1.5"/>
<rect x="321.85" y="185.25" width="1.5" height="1.5"/>
<rect x="317.45" y="186.45" width="1.5" height="1.5"/>
<rect x="324.25" y="188.05" width="1.5" height="1.5"/>
<rect x="346.45" y="188.05" width="1.5" height="1.5"/>
<rect x="354.85" y="186.75" width="1.5" height="1.5"/>
<rect x="365.15" y="187.05" width="1.5" height="1.5"/>
<rect x="366.95" y="188.05" width="1.5" height="1.5"/>
<rect x="342.45" y="189.45" width="1.5" height="1.5"/>
<rect x="318.85" y="190.05" width="1.5" height="1.5"/>
<rect x="324.85" y="190.35" width="1.5" height="1.5"/>
<rect x="327.35" y="190.65" width="1.5" height="1.5"/>
<rect x="336.35" y="190.65" width="1.5" height="1.5"/>
<rect x="338.15" y="190.65" width="1.5" height="1.5"/>
<rect x="353.65" y="190.35" width="1.5" height="1.5"/>
<rect x="360.55" y="189.45" width="1.5" height="1.5"/>
<rect x="365.35" y="190.05" width="1.5" height="1.5"/>
<rect x="372.25" y="128.45" width="1.5" height="1.5"/>
<rect x="383.35" y="129.35" width="1.5" height="1.5"/>
<rect x="398.25" y="129.05" width="1.5" height="1.5"/>
<rect x="407.65" y="130.25" width="1.5" height="1.5"/>
<rect x="394.35" y="131.45" width="1.5" height="1.5"/>
<rect x="375.85" y="131.45" width="1.5" height="1.5"/>
<rect x="373.85" y="132.95" width="1.5" height="1.5"/>
<rect x="397.25" y="134.15" width="1.5" height="1.5"/>
<rect x="386.15" y="134.85" width="1.5" height="1.5"/>
<rect x="389.45" y="136.05" width="1.5" height="1.5"/>
<rect x="370.45" y="135.95" width="1.5" height="1.5"/>
<rect x="400.35" y="136.55" width="1.5" height="1.5"/>
<rect x="394.95" y="142.15" width="1.5" height="1.5"/>
<rect x="405.15" y="143.55" width="1.5" height="1.5"/>
<rect x="384.95" y="143.85" width="1.5" height="1.5"/>
<rect x="375.55" y="145.15" width="1.5" height="1.5"/>
<rect x="400.05" y="145.15" width="1.5" height="1.5"/>
<rect x="402.75" y="146.25" width="1.5" height="1.5"/>
<rect x="370.25" y="147.75" width="1.5" height="1.5"/>
<rect x="396.05" y="149.65" width="1.5" height="1.5"/>
<rect x="386.55" y="154.15" width="1.5" height="1.5"/>
<rect x="396.65" y="154.85" width="1.5" height="1.5"/>
<rect x="397.25" y="156.25" width="1.5" height="1.5"/>
<rect x="399.05" y="157.85" width="1.5" height="1.5"/>
<rect x="370.85" y="159.55" width="1.5" height="1.5"/>
<rect x="380.75" y="159.85" width="1.5" height="1.5"/>
<rect x="389.15" y="159.85" width="1.5" height="1.5"/>
<rect x="390.35" y="162.05" width="1.5" height="1.5"/>
<rect x="383.35" y="162.85" width="1.5" height="1.5"/>
<rect x="386.75" y="162.85" width="1.5" height="1.5"/>
<rect x="393.75" y="164.35" width="1.5" height="1.5"/>
<rect x="398.25" y="167.15" width="1.5" height="1.5"/>
<rect x="398.85" y="169.15" width="1.5" height="1.5"/>
<rect x="370.25" y="169.15" width="1.5" height="1.5"/>
<rect x="388.55" y="168.95" width="1.5" height="1.5"/>
<rect x="374.35" y="171.95" width="1.5" height="1.5"/>
<rect x="377.45" y="173.15" width="1.5" height="1.5"/>
<rect x="407.95" y="173.15" width="1.5" height="1.5"/>
<rect x="384.55" y="173.75" width="1.5" height="1.5"/>
<rect x="378.35" y="176.75" width="1.5" height="1.5"/>
<rect x="375.25" y="178.05" width="1.5" height="1.5"/>
<rect x="378.35" y="178.95" width="1.5" height="1.5"/>
<rect x="386.15" y="179.85" width="1.5" height="1.5"/>
<rect x="372.05" y="181.25" width="1.5" height="1.5"/>
<rect x="395.85" y="181.95" width="1.5" height="1.5"/>
<rect x="398.65" y="183.25" width="1.5" height="1.5"/>
<rect x="391.65" y="182.85" width="1.5" height="1.5"/>
<rect x="408.55" y="182.85" width="1.5" height="1.5"/>
<rect x="390.65" y="185.25" width="1.5" height="1.5"/>
<rect x="371.65" y="187.35" width="1.5" height="1.5"/>
<rect x="374.45" y="186.85" width="1.5" height="1.5"/>
<rect x="398.25" y="187.65" width="1.5" height="1.5"/>
<rect x="406.35" y="187.65" width="1.5" height="1.5"/>
<rect x="392.85" y="189.45" width="1.5" height="1.5"/>
<rect x="375.55" y="190.05" width="1.5" height="1.5"/>
<rect x="370.25" y="190.05" width="1.5" height="1.5"/>
<rect x="316.45" y="192.25" width="1.5" height="1.5"/>
<rect x="338.15" y="192.25" width="1.5" height="1.5"/>
<rect x="342.05" y="193.35" width="1.5" height="1.5"/>
<rect x="353.05" y="191.85" width="1.5" height="1.5"/>
<rect x="361.75" y="193.05" width="1.5" height="1.5"/>
<rect x="362.65" y="194.85" width="1.5" height="1.5"/>
<rect x="355.15" y="195.25" width="1.5" height="1.5"/>
<rect x="366.95" y="196.05" width="1.5" height="1.5"/>
<rect x="300.35" y="195.85" width="1.5" height="1.5"/>
<rect x="308.25" y="196.65" width="1.5" height="1.5"/>
<rect x="311.05" y="198.55" width="1.5" height="1.5"/>
<rect x="325.55" y="196.35" width="1.5" height="1.5"/>
<rect x="338.15" y="194.85" width="1.5" height="1.5"/>
<rect x="337.95" y="199.75" width="1.5" height="1.5"/>
<rect x="345.45" y="200.65" width="1.5" height="1.5"/>
<rect x="325.85" y="202.75" width="1.5" height="1.5"/>
<rect x="330.35" y="204.35" width="1.5" height="1.5"/>
<rect x="362.95" y="203.35" width="1.5" height="1.5"/>
<rect x="334.85" y="206.75" width="1.5" height="1.5"/>
<rect x="318.25" y="209.35" width="1.5" height="1.5"/>
<rect x="342.05" y="210.35" width="1.5" height="1.5"/>
<rect x="349.35" y="209.95" width="1.5" height="1.5"/>
<rect x="351.25" y="212.35" width="1.5" height="1.5"/>
<rect x="365.65" y="209.75" width="1.5" height="1.5"/>
<rect x="317.85" y="212.75" width="1.5" height="1.5"/>
<rect x="343.05" y="213.05" width="1.5" height="1.5"/>
<rect x="312.85" y="215.05" width="1.5" height="1.5"/>
<rect x="345.05" y="215.45" width="1.5" height="1.5"/>
<rect x="354.85" y="215.05" width="1.5" height="1.5"/>
<rect x="362.65" y="215.05" width="1.5" height="1.5"/>
<rect x="336.75" y="216.95" width="1.5" height="1.5"/>
<rect x="317.25" y="219.05" width="1.5" height="1.5"/>
<rect x="322.15" y="219.85" width="1.5" height="1.5"/>
<rect x="362.35" y="219.85" width="1.5" height="1.5"/>
<rect x="364.15" y="220.25" width="1.5" height="1.5"/>
<rect x="327.35" y="221.05" width="1.5" height="1.5"/>
<rect x="345.05" y="222.65" width="1.5" height="1.5"/>
<rect x="321.25" y="223.25" width="1.5" height="1.5"/>
<rect x="317.25" y="223.85" width="1.5" height="1.5"/>
<rect x="339.45" y="225.45" width="1.5" height="1.5"/>
<rect x="360.55" y="223.85" width="1.5" height="1.5"/>
<rect x="353.05" y="226.05" width="1.5" height="1.5"/>
<rect x="313.05" y="226.25" width="1.5" height="1.5"/>
<rect x="315.85" y="226.55" width="1.5" height="1.5"/>
<rect x="320.65" y="227.55" width="1.5" height="1.5"/>
<rect x="322.15" y="228.45" width="1.5" height="1.5"/>
<rect x="324.25" y="229.55" width="1.5" height="1.5"/>
<rect x="361.15" y="227.85" width="1.5" height="1.5"/>
<rect x="365.15" y="228.95" width="1.5" height="1.5"/>
<rect x="346.45" y="229.95" width="1.5" height="1.5"/>
<rect x="359.75" y="230.55" width="1.5" height="1.5"/>
<rect x="308.25" y="231.45" width="1.5" height="1.5"/>
<rect x="299.55" y="232.35" width="1.5" height="1.5"/>
<rect x="313.45" y="232.35" width="1.5" height="1.5"/>
<rect x="351.25" y="232.75" width="1.5" height="1.5"/>
<rect x="356.05" y="232.35" width="1.5" height="1.5"/>
<rect x="311.25" y="234.15" width="1.5" height="1.5"/>
<rect x="317.25" y="234.15" width="1.5" height="1.5"/>
<rect x="331.15" y="234.35" width="1.5" height="1.5"/>
<rect x="347.25" y="234.35" width="1.5" height="1.5"/>
<rect x="315.25" y="236.25" width="1.5" height="1.5"/>
<rect x="338.45" y="236.95" width="1.5" height="1.5"/>
<rect x="340.05" y="237.75" width="1.5" height="1.5"/>
<rect x="360.15" y="237.55" width="1.5" height="1.5"/>
<rect x="364.75" y="237.75" width="1.5" height="1.5"/>
<rect x="356.55" y="239.55" width="1.5" height="1.5"/>
<rect x="366.95" y="239.55" width="1.5" height="1.5"/>
<rect x="368.45" y="240.75" width="1.5" height="1.5"/>
<rect x="322.75" y="242.65" width="1.5" height="1.5"/>
<rect x="321.25" y="244.45" width="1.5" height="1.5"/>
<rect x="339.45" y="243.85" width="1.5" height="1.5"/>
<rect x="368.45" y="244.05" width="1.5" height="1.5"/>
<rect x="364.15" y="245.65" width="1.5" height="1.5"/>
<rect x="349.35" y="246.25" width="1.5" height="1.5"/>
<rect x="315.85" y="246.55" width="1.5" height="1.5"/>
<rect x="381.95" y="192.75" width="1.5" height="1.5"/>
<rect x="386.75" y="192.25" width="1.5" height="1.5"/>
<rect x="407.65" y="195.75" width="1.5" height="1.5"/>
<rect x="403.65" y="196.35" width="1.5" height="1.5"/>
<rect x="395.55" y="196.65" width="1.5" height="1.5"/>
<rect x="397.85" y="200.35" width="1.5" height="1.5"/>
<rect x="396.45" y="201.25" width="1.5" height="1.5"/>
<rect x="403.65" y="201.55" width="1.5" height="1.5"/>
<rect x="372.25" y="201.85" width="1.5" height="1.5"/>
<rect x="375.85" y="203.65" width="1.5" height="1.5"/>
<rect x="378.35" y="203.95" width="1.5" height="1.5"/>
<rect x="370.45" y="204.35" width="1.5" height="1.5"/>
<rect x="389.15" y="205.15" width="1.5" height="1.5"/>
<rect x="398.85" y="205.15" width="1.5" height="1.5"/>
<rect x="374.65" y="206.15" width="1.5" height="1.5"/>
<rect x="376.55" y="206.35" width="1.5" height="1.5"/>
<rect x="389.15" y="206.95" width="1.5" height="1.5"/>
<rect x="395.85" y="206.75" width="1.5" height="1.5"/>
<rect x="397.25" y="207.85" width="1.5" height="1.5"/>
<rect x="398.25" y="209.35" width="1.5" height="1.5"/>
<rect x="393.75" y="210.25" width="1.5" height="1.5"/>
<rect x="375.25" y="210.35" width="1.5" height="1.5"/>
<rect x="378.95" y="209.35" width="1.5" height="1.5"/>
<rect x="392.25" y="212.15" width="1.5" height="1.5"/>
<rect x="401.05" y="215.05" width="1.5" height="1.5"/>
<rect x="387.15" y="215.45" width="1.5" height="1.5"/>
<rect x="402.75" y="217.55" width="1.5" height="1.5"/>
<rect x="422.45" y="219.25" width="1.5" height="1.5"/>
<rect x="399.25" y="220.25" width="1.5" height="1.5"/>
<rect x="399.45" y="221.85" width="1.5" height="1.5"/>
<rect x="388.25" y="221.45" width="1.5" height="1.5"/>
<rect x="384.35" y="219.85" width="1.5" height="1.5"/>
<rect x="391.05" y="223.25" width="1.5" height="1.5"/>
<rect x="395.25" y="223.85" width="1.5" height="1.5"/>
<rect x="401.25" y="224.75" width="1.5" height="1.5"/>
<rect x="389.15" y="225.05" width="1.5" height="1.5"/>
<rect x="392.25" y="226.25" width="1.5" height="1.5"/>
<rect x="385.85" y="223.85" width="1.5" height="1.5"/>
<rect x="369.85" y="229.95" width="1.5" height="1.5"/>
<rect x="372.25" y="229.35" width="1.5" height="1.5"/>
<rect x="377.15" y="230.55" width="1.5" height="1.5"/>
<rect x="379.55" y="230.55" width="1.5" height="1.5"/>
<rect x="387.65" y="229.95" width="1.5" height="1.5"/>
<rect x="390.75" y="230.15" width="1.5" height="1.5"/>
<rect x="403.45" y="231.35" width="1.5" height="1.5"/>
<rect x="374.65" y="232.35" width="1.5" height="1.5"/>
<rect x="378.95" y="232.95" width="1.5" height="1.5"/>
<rect x="386.75" y="232.35" width="1.5" height="1.5"/>
<rect x="394.05" y="233.15" width="1.5" height="1.5"/>
<rect x="399.25" y="233.15" width="1.5" height="1.5"/>
<rect x="403.45" y="233.15" width="1.5" height="1.5"/>
<rect x="371.05" y="234.75" width="1.5" height="1.5"/>
<rect x="374.65" y="234.15" width="1.5" height="1.5"/>
<rect x="386.15" y="234.15" width="1.5" height="1.5"/>
<rect x="372.25" y="236.55" width="1.5" height="1.5"/>
<rect x="389.15" y="235.95" width="1.5" height="1.5"/>
<rect x="391.65" y="235.95" width="1.5" height="1.5"/>
<rect x="376.55" y="237.75" width="1.5" height="1.5"/>
<rect x="401.05" y="238.05" width="1.5" height="1.5"/>
<rect x="404.25" y="238.35" width="1.5" height="1.5"/>
<rect x="406.35" y="238.15" width="1.5" height="1.5"/>
<rect x="413.35" y="237.45" width="1.5" height="1.5"/>
<rect x="417.55" y="237.15" width="1.5" height="1.5"/>
<rect x="375.25" y="239.95" width="1.5" height="1.5"/>
<rect x="389.15" y="239.55" width="1.5" height="1.5"/>
<rect x="393.05" y="239.25" width="1.5" height="1.5"/>
<rect x="394.65" y="239.85" width="1.5" height="1.5"/>
<rect x="388.25" y="241.45" width="1.5" height="1.5"/>
<rect x="378.95" y="242.65" width="1.5" height="1.5"/>
<rect x="376.55" y="243.25" width="1.5" height="1.5"/>
<rect x="401.85" y="242.95" width="1.5" height="1.5"/>
<rect x="420.05" y="243.25" width="1.5" height="1.5"/>
<rect x="377.75" y="245.05" width="1.5" height="1.5"/>
<rect x="389.15" y="246.25" width="1.5" height="1.5"/>
<rect x="572.75" y="19.05" width="1.5" height="1.5"/>
<rect x="508.75" y="36.25" width="1.5" height="1.5"/>
<rect x="565.75" y="35.55" width="1.5" height="1.5"/>
<rect x="572.75" y="35.55" width="1.5" height="1.5"/>
<rect x="579.55" y="42.25" width="1.5" height="1.5"/>
<rect x="605.45" y="45.85" width="1.5" height="1.5"/>
<rect x="573.25" y="49.25" width="1.5" height="1.5"/>
<rect x="550.35" y="51.65" width="1.5" height="1.5"/>
<rect x="513.15" y="54.35" width="1.5" height="1.5"/>
<rect x="591.65" y="53.15" width="1.5" height="1.5"/>
<rect x="598.65" y="55.55" width="1.5" height="1.5"/>
<rect x="618.45" y="64.05" width="1.5" height="1.5"/>
<rect x="544.55" y="75.35" width="1.5" height="1.5"/>
<rect x="576.95" y="77.05" width="1.5" height="1.5"/>
<rect x="600.55" y="75.85" width="1.5" height="1.5"/>
<rect x="534.65" y="77.75" width="1.5" height="1.5"/>
<rect x="541.85" y="81.45" width="1.5" height="1.5"/>
<rect x="544.25" y="83.85" width="1.5" height="1.5"/>
<rect x="546.95" y="83.15" width="1.5" height="1.5"/>
<rect x="532.95" y="88.65" width="1.5" height="1.5"/>
<rect x="573.25" y="88.15" width="1.5" height="1.5"/>
<rect x="607.85" y="90.35" width="1.5" height="1.5"/>
<rect x="566.75" y="93.95" width="1.5" height="1.5"/>
<rect x="517.65" y="96.65" width="1.5" height="1.5"/>
<rect x="562.45" y="98.35" width="1.5" height="1.5"/>
<rect x="537.05" y="97.65" width="1.5" height="1.5"/>
<rect x="597.45" y="95.95" width="1.5" height="1.5"/>
<rect x="591.45" y="98.35" width="1.5" height="1.5"/>
<rect x="596.95" y="99.05" width="1.5" height="1.5"/>
<rect x="546.25" y="99.55" width="1.5" height="1.5"/>
<rect x="551.55" y="100.75" width="1.5" height="1.5"/>
<rect x="566.05" y="100.75" width="1.5" height="1.5"/>
<rect x="568.45" y="101.95" width="1.5" height="1.5"/>
<rect x="499.85" y="104.35" width="1.5" height="1.5"/>
<rect x="554.65" y="105.55" width="1.5" height="1.5"/>
<rect x="583.65" y="104.85" width="1.5" height="1.5"/>
<rect x="566.05" y="106.35" width="1.5" height="1.5"/>
<rect x="575.75" y="107.25" width="1.5" height="1.5"/>
<rect x="606.65" y="106.35" width="1.5" height="1.5"/>
<rect x="573.25" y="109.25" width="1.5" height="1.5"/>
<rect x="593.35" y="108.05" width="1.5" height="1.5"/>
<rect x="517.25" y="110.65" width="1.5" height="1.5"/>
<rect x="571.55" y="112.85" width="1.5" height="1.5"/>
<rect x="595.75" y="111.15" width="1.5" height="1.5"/>
<rect x="576.45" y="114.55" width="1.5" height="1.5"/>
<rect x="543.35" y="114.55" width="1.5" height="1.5"/>
<rect x="559.95" y="115.95" width="1.5" height="1.5"/>
<rect x="506.35" y="116.95" width="1.5" height="1.5"/>
<rect x="511.65" y="117.65" width="1.5" height="1.5"/>
<rect x="549.85" y="117.65" width="1.5" height="1.5"/>
<rect x="577.15" y="117.65" width="1.5" height="1.5"/>
<rect x="595.75" y="114.55" width="1.5" height="1.5"/>
<rect x="611.45" y="119.35" width="1.5" height="1.5"/>
<rect x="592.65" y="119.35" width="1.5" height="1.5"/>
<rect x="625.45" y="121.75" width="1.5" height="1.5"/>
<rect x="546.25" y="123.25" width="1.5" height="1.5"/>
<rect x="592.85" y="123.25" width="1.5" height="1.5"/>
<rect x="599.35" y="123.25" width="1.5" height="1.5"/>
<rect x="605.45" y="123.25" width="1.5" height="1.5"/>
<rect x="523.25" y="125.65" width="1.5" height="1.5"/>
<rect x="552.95" y="125.65" width="1.5" height="1.5"/>
<rect x="563.15" y="126.15" width="1.5" height="1.5"/>
<rect x="583.65" y="125.65" width="1.5" height="1.5"/>
<rect x="611.45" y="125.65" width="1.5" height="1.5"/>
<rect x="526.65" y="129.65" width="1.5" height="1.5"/>
<rect x="532.95" y="129.65" width="1.5" height="1.5"/>
<rect x="540.75" y="128.45" width="1.5" height="1.5"/>
<rect x="549.25" y="129.65" width="1.5" height="1.5"/>
<rect x="562.75" y="127.85" width="1.5" height="1.5"/>
<rect x="516.35" y="132.65" width="1.5" height="1.5"/>
<rect x="559.85" y="132.05" width="1.5" height="1.5"/>
<rect x="563.95" y="131.45" width="1.5" height="1.5"/>
<rect x="547.75" y="134.85" width="1.5" height="1.5"/>
<rect x="554.35" y="135.75" width="1.5" height="1.5"/>
<rect x="567.65" y="134.85" width="1.5" height="1.5"/>
<rect x="534.75" y="134.55" width="1.5" height="1.5"/>
<rect x="528.45" y="137.85" width="1.5" height="1.5"/>
<rect x="538.95" y="138.95" width="1.5" height="1.5"/>
<rect x="542.25" y="139.65" width="1.5" height="1.5"/>
<rect x="557.05" y="139.35" width="1.5" height="1.5"/>
<rect x="563.45" y="138.95" width="1.5" height="1.5"/>
<rect x="567.35" y="137.25" width="1.5" height="1.5"/>
<rect x="562.55" y="141.75" width="1.5" height="1.5"/>
<rect x="536.15" y="142.35" width="1.5" height="1.5"/>
<rect x="525.35" y="143.85" width="1.5" height="1.5"/>
<rect x="503.05" y="145.15" width="1.5" height="1.5"/>
<rect x="538.95" y="145.65" width="1.5" height="1.5"/>
<rect x="521.15" y="146.25" width="1.5" height="1.5"/>
<rect x="503.55" y="147.75" width="1.5" height="1.5"/>
<rect x="524.05" y="148.75" width="1.5" height="1.5"/>
<rect x="555.55" y="148.35" width="1.5" height="1.5"/>
<rect x="570.35" y="150.25" width="1.5" height="1.5"/>
<rect x="527.75" y="151.05" width="1.5" height="1.5"/>
<rect x="548.95" y="152.65" width="1.5" height="1.5"/>
<rect x="563.95" y="152.25" width="1.5" height="1.5"/>
<rect x="512.35" y="155.05" width="1.5" height="1.5"/>
<rect x="526.55" y="156.05" width="1.5" height="1.5"/>
<rect x="506.95" y="156.85" width="1.5" height="1.5"/>
<rect x="508.75" y="158.05" width="1.5" height="1.5"/>
<rect x="499.65" y="159.25" width="1.5" height="1.5"/>
<rect x="516.05" y="159.05" width="1.5" height="1.5"/>
<rect x="537.95" y="158.05" width="1.5" height="1.5"/>
<rect x="532.65" y="159.65" width="1.5" height="1.5"/>
<rect x="555.85" y="159.65" width="1.5" height="1.5"/>
<rect x="537.95" y="160.45" width="1.5" height="1.5"/>
<rect x="561.95" y="161.05" width="1.5" height="1.5"/>
<rect x="572.15" y="161.65" width="1.5" height="1.5"/>
<rect x="561.55" y="163.55" width="1.5" height="1.5"/>
<rect x="544.65" y="162.55" width="1.5" height="1.5"/>
<rect x="512.75" y="164.35" width="1.5" height="1.5"/>
<rect x="527.45" y="166.15" width="1.5" height="1.5"/>
<rect x="539.85" y="167.75" width="1.5" height="1.5"/>
<rect x="544.15" y="167.75" width="1.5" height="1.5"/>
<rect x="555.05" y="167.95" width="1.5" height="1.5"/>
<rect x="570.95" y="164.75" width="1.5" height="1.5"/>
<rect x="573.45" y="166.55" width="1.5" height="1.5"/>
<rect x="545.35" y="169.75" width="1.5" height="1.5"/>
<rect x="548.65" y="169.95" width="1.5" height="1.5"/>
<rect x="569.75" y="169.55" width="1.5" height="1.5"/>
<rect x="505.15" y="171.95" width="1.5" height="1.5"/>
<rect x="516.85" y="173.15" width="1.5" height="1.5"/>
<rect x="521.45" y="172.35" width="1.5" height="1.5"/>
<rect x="557.05" y="172.35" width="1.5" height="1.5"/>
<rect x="568.85" y="172.55" width="1.5" height="1.5"/>
<rect x="536.15" y="174.75" width="1.5" height="1.5"/>
<rect x="539.55" y="175.25" width="1.5" height="1.5"/>
<rect x="535.35" y="176.55" width="1.5" height="1.5"/>
<rect x="548.25" y="176.75" width="1.5" height="1.5"/>
<rect x="522.85" y="178.35" width="1.5" height="1.5"/>
<rect x="564.35" y="179.45" width="1.5" height="1.5"/>
<rect x="506.35" y="183.65" width="1.5" height="1.5"/>
<rect x="515.15" y="182.85" width="1.5" height="1.5"/>
<rect x="520.45" y="184.65" width="1.5" height="1.5"/>
<rect x="558.65" y="182.85" width="1.5" height="1.5"/>
<rect x="570.95" y="185.25" width="1.5" height="1.5"/>
<rect x="538.95" y="186.15" width="1.5" height="1.5"/>
<rect x="526.25" y="187.65" width="1.5" height="1.5"/>
<rect x="505.75" y="188.85" width="1.5" height="1.5"/>
<rect x="557.95" y="187.35" width="1.5" height="1.5"/>
<rect x="569.55" y="188.25" width="1.5" height="1.5"/>
<rect x="523.25" y="190.05" width="1.5" height="1.5"/>
<rect x="547.75" y="189.75" width="1.5" height="1.5"/>
<rect x="558.25" y="190.05" width="1.5" height="1.5"/>
<rect x="500.25" y="190.65" width="1.5" height="1.5"/>
<rect x="552.25" y="190.45" width="1.5" height="1.5"/>
<rect x="575.85" y="129.05" width="1.5" height="1.5"/>
<rect x="585.75" y="127.85" width="1.5" height="1.5"/>
<rect x="591.75" y="127.65" width="1.5" height="1.5"/>
<rect x="611.15" y="128.25" width="1.5" height="1.5"/>
<rect x="579.65" y="131.25" width="1.5" height="1.5"/>
<rect x="599.25" y="131.45" width="1.5" height="1.5"/>
<rect x="577.25" y="136.35" width="1.5" height="1.5"/>
<rect x="592.15" y="136.35" width="1.5" height="1.5"/>
<rect x="601.85" y="135.75" width="1.5" height="1.5"/>
<rect x="604.45" y="137.25" width="1.5" height="1.5"/>
<rect x="576.05" y="140.55" width="1.5" height="1.5"/>
<rect x="615.95" y="139.95" width="1.5" height="1.5"/>
<rect x="583.95" y="142.35" width="1.5" height="1.5"/>
<rect x="582.15" y="144.15" width="1.5" height="1.5"/>
<rect x="602.65" y="142.75" width="1.5" height="1.5"/>
<rect x="611.35" y="142.35" width="1.5" height="1.5"/>
<rect x="617.95" y="143.25" width="1.5" height="1.5"/>
<rect x="623.15" y="144.45" width="1.5" height="1.5"/>
<rect x="628.95" y="144.55" width="1.5" height="1.5"/>
<rect x="606.25" y="145.65" width="1.5" height="1.5"/>
<rect x="601.15" y="147.45" width="1.5" height="1.5"/>
<rect x="576.05" y="149.05" width="1.5" height="1.5"/>
<rect x="581.15" y="150.85" width="1.5" height="1.5"/>
<rect x="606.55" y="150.25" width="1.5" height="1.5"/>
<rect x="614.45" y="153.25" width="1.5" height="1.5"/>
<rect x="580.25" y="155.85" width="1.5" height="1.5"/>
<rect x="600.25" y="155.85" width="1.5" height="1.5"/>
<rect x="602.85" y="155.45" width="1.5" height="1.5"/>
<rect x="597.55" y="158.65" width="1.5" height="1.5"/>
<rect x="589.75" y="158.95" width="1.5" height="1.5"/>
<rect x="606.85" y="159.85" width="1.5" height="1.5"/>
<rect x="608.45" y="159.65" width="1.5" height="1.5"/>
<rect x="606.25" y="161.45" width="1.5" height="1.5"/>
<rect x="611.75" y="161.65" width="1.5" height="1.5"/>
<rect x="594.55" y="162.25" width="1.5" height="1.5"/>
<rect x="577.25" y="165.95" width="1.5" height="1.5"/>
<rect x="583.95" y="168.95" width="1.5" height="1.5"/>
<rect x="605.35" y="168.35" width="1.5" height="1.5"/>
<rect x="611.35" y="172.55" width="1.5" height="1.5"/>
<rect x="611.95" y="174.05" width="1.5" height="1.5"/>
<rect x="620.55" y="172.55" width="1.5" height="1.5"/>
<rect x="574.85" y="174.35" width="1.5" height="1.5"/>
<rect x="576.05" y="176.75" width="1.5" height="1.5"/>
<rect x="594.75" y="176.75" width="1.5" height="1.5"/>
<rect x="602.05" y="176.45" width="1.5" height="1.5"/>
<rect x="606.85" y="176.75" width="1.5" height="1.5"/>
<rect x="621.35" y="176.75" width="1.5" height="1.5"/>
<rect x="590.85" y="178.65" width="1.5" height="1.5"/>
<rect x="595.35" y="179.45" width="1.5" height="1.5"/>
<rect x="583.35" y="180.05" width="1.5" height="1.5"/>
<rect x="603.65" y="179.55" width="1.5" height="1.5"/>
<rect x="607.25" y="179.25" width="1.5" height="1.5"/>
<rect x="615.95" y="186.15" width="1.5" height="1.5"/>
<rect x="579.45" y="186.85" width="1.5" height="1.5"/>
<rect x="597.25" y="187.65" width="1.5" height="1.5"/>
<rect x="604.25" y="188.25" width="1.5" height="1.5"/>
<rect x="622.55" y="188.55" width="1.5" height="1.5"/>
<rect x="592.05" y="190.45" width="1.5" height="1.5"/>
<rect x="595.75" y="190.45" width="1.5" height="1.5"/>
<rect x="503.35" y="192.25" width="1.5" height="1.5"/>
<rect x="496.05" y="191.85" width="1.5" height="1.5"/>
<rect x="506.35" y="194.85" width="1.5" height="1.5"/>
<rect x="523.65" y="194.65" width="1.5" height="1.5"/>
<rect x="541.75" y="194.85" width="1.5" height="1.5"/>
<rect x="549.25" y="194.85" width="1.5" height="1.5"/>
<rect x="555.55" y="193.45" width="1.5" height="1.5"/>
<rect x="559.85" y="192.75" width="1.5" height="1.5"/>
<rect x="562.15" y="192.75" width="1.5" height="1.5"/>
<rect x="566.75" y="193.95" width="1.5" height="1.5"/>
<rect x="561.05" y="196.65" width="1.5" height="1.5"/>
<rect x="571.95" y="196.05" width="1.5" height="1.5"/>
<rect x="502.45" y="199.15" width="1.5" height="1.5"/>
<rect x="513.25" y="199.95" width="1.5" height="1.5"/>
<rect x="553.15" y="198.85" width="1.5" height="1.5"/>
<rect x="566.35" y="198.55" width="1.5" height="1.5"/>
<rect x="570.05" y="201.55" width="1.5" height="1.5"/>
<rect x="521.45" y="202.45" width="1.5" height="1.5"/>
<rect x="503.65" y="203.65" width="1.5" height="1.5"/>
<rect x="549.25" y="202.95" width="1.5" height="1.5"/>
<rect x="555.25" y="204.55" width="1.5" height="1.5"/>
<rect x="551.05" y="206.35" width="1.5" height="1.5"/>
<rect x="538.95" y="206.15" width="1.5" height="1.5"/>
<rect x="561.05" y="205.75" width="1.5" height="1.5"/>
<rect x="529.25" y="203.95" width="1.5" height="1.5"/>
<rect x="527.45" y="208.15" width="1.5" height="1.5"/>
<rect x="525.65" y="209.95" width="1.5" height="1.5"/>
<rect x="524.05" y="211.45" width="1.5" height="1.5"/>
<rect x="543.75" y="210.55" width="1.5" height="1.5"/>
<rect x="552.65" y="212.75" width="1.5" height="1.5"/>
<rect x="555.85" y="212.05" width="1.5" height="1.5"/>
<rect x="566.75" y="210.35" width="1.5" height="1.5"/>
<rect x="569.75" y="209.95" width="1.5" height="1.5"/>
<rect x="571.95" y="209.15" width="1.5" height="1.5"/>
<rect x="512.75" y="219.05" width="1.5" height="1.5"/>
<rect x="529.25" y="219.05" width="1.5" height="1.5"/>
<rect x="534.45" y="219.85" width="1.5" height="1.5"/>
<rect x="565.95" y="219.85" width="1.5" height="1.5"/>
<rect x="568.35" y="221.85" width="1.5" height="1.5"/>
<rect x="563.45" y="223.85" width="1.5" height="1.5"/>
<rect x="520.85" y="224.15" width="1.5" height="1.5"/>
<rect x="518.05" y="225.45" width="1.5" height="1.5"/>
<rect x="522.25" y="225.65" width="1.5" height="1.5"/>
<rect x="526.25" y="226.25" width="1.5" height="1.5"/>
<rect x="517.85" y="227.85" width="1.5" height="1.5"/>
<rect x="542.55" y="227.15" width="1.5" height="1.5"/>
<rect x="554.35" y="227.85" width="1.5" height="1.5"/>
<rect x="559.55" y="228.75" width="1.5" height="1.5"/>
<rect x="564.35" y="228.75" width="1.5" height="1.5"/>
<rect x="566.75" y="229.95" width="1.5" height="1.5"/>
<rect x="572.75" y="226.25" width="1.5" height="1.5"/>
<rect x="511.55" y="230.25" width="1.5" height="1.5"/>
<rect x="501.85" y="232.35" width="1.5" height="1.5"/>
<rect x="501.15" y="234.15" width="1.5" height="1.5"/>
<rect x="526.85" y="231.95" width="1.5" height="1.5"/>
<rect x="521.05" y="234.15" width="1.5" height="1.5"/>
<rect x="516.05" y="234.75" width="1.5" height="1.5"/>
<rect x="512.05" y="236.25" width="1.5" height="1.5"/>
<rect x="545.65" y="234.95" width="1.5" height="1.5"/>
<rect x="551.05" y="234.75" width="1.5" height="1.5"/>
<rect x="557.95" y="234.95" width="1.5" height="1.5"/>
<rect x="567.95" y="234.35" width="1.5" height="1.5"/>
<rect x="570.95" y="232.35" width="1.5" height="1.5"/>
<rect x="515.65" y="238.35" width="1.5" height="1.5"/>
<rect x="499.65" y="240.45" width="1.5" height="1.5"/>
<rect x="546.25" y="238.75" width="1.5" height="1.5"/>
<rect x="548.65" y="239.55" width="1.5" height="1.5"/>
<rect x="547.05" y="241.65" width="1.5" height="1.5"/>
<rect x="563.15" y="238.75" width="1.5" height="1.5"/>
<rect x="570.35" y="238.95" width="1.5" height="1.5"/>
<rect x="569.55" y="241.65" width="1.5" height="1.5"/>
<rect x="564.95" y="243.25" width="1.5" height="1.5"/>
<rect x="571.55" y="244.45" width="1.5" height="1.5"/>
<rect x="523.85" y="245.65" width="1.5" height="1.5"/>
<rect x="567.65" y="245.85" width="1.5" height="1.5"/>
<rect x="565.55" y="246.55" width="1.5" height="1.5"/>
<rect x="613.75" y="192.75" width="1.5" height="1.5"/>
<rect x="610.85" y="194.85" width="1.5" height="1.5"/>
<rect x="609.25" y="195.75" width="1.5" height="1.5"/>
<rect x="606.55" y="196.35" width="1.5" height="1.5"/>
<rect x="596.35" y="196.65" width="1.5" height="1.5"/>
<rect x="583.65" y="196.35" width="1.5" height="1.5"/>
<rect x="603.25" y="199.75" width="1.5" height="1.5"/>
<rect x="614.15" y="199.15" width="1.5" height="1.5"/>
<rect x="608.65" y="201.15" width="1.5" height="1.5"/>
<rect x="576.65" y="202.75" width="1.5" height="1.5"/>
<rect x="583.35" y="203.65" width="1.5" height="1.5"/>
<rect x="585.75" y="203.35" width="1.5" height="1.5"/>
<rect x="593.55" y="203.95" width="1.5" height="1.5"/>
<rect x="610.15" y="203.65" width="1.5" height="1.5"/>
<rect x="604.25" y="203.95" width="1.5" height="1.5"/>
<rect x="601.05" y="204.55" width="1.5" height="1.5"/>
<rect x="602.85" y="206.55" width="1.5" height="1.5"/>
<rect x="615.35" y="206.95" width="1.5" height="1.5"/>
<rect x="624.65" y="206.35" width="1.5" height="1.5"/>
<rect x="577.85" y="212.05" width="1.5" height="1.5"/>
<rect x="575.85" y="213.95" width="1.5" height="1.5"/>
<rect x="596.65" y="211.75" width="1.5" height="1.5"/>
<rect x="609.65" y="212.05" width="1.5" height="1.5"/>
<rect x="621.75" y="213.95" width="1.5" height="1.5"/>
<rect x="581.75" y="216.05" width="1.5" height="1.5"/>
<rect x="583.95" y="216.95" width="1.5" height="1.5"/>
<rect x="595.15" y="216.95" width="1.5" height="1.5"/>
<rect x="605.95" y="216.25" width="1.5" height="1.5"/>
<rect x="612.55" y="215.75" width="1.5" height="1.5"/>
<rect x="630.45" y="216.65" width="1.5" height="1.5"/>
<rect x="579.05" y="220.65" width="1.5" height="1.5"/>
<rect x="589.55" y="219.85" width="1.5" height="1.5"/>
<rect x="600.25" y="220.65" width="1.5" height="1.5"/>
<rect x="603.85" y="219.85" width="1.5" height="1.5"/>
<rect x="607.75" y="219.45" width="1.5" height="1.5"/>
<rect x="577.25" y="223.85" width="1.5" height="1.5"/>
<rect x="602.05" y="223.85" width="1.5" height="1.5"/>
<rect x="608.05" y="224.25" width="1.5" height="1.5"/>
<rect x="612.55" y="223.65" width="1.5" height="1.5"/>
<rect x="619.85" y="223.85" width="1.5" height="1.5"/>
<rect x="599.25" y="225.95" width="1.5" height="1.5"/>
<rect x="583.05" y="227.85" width="1.5" height="1.5"/>
<rect x="585.95" y="227.55" width="1.5" height="1.5"/>
<rect x="615.95" y="227.55" width="1.5" height="1.5"/>
<rect x="606.55" y="228.75" width="1.5" height="1.5"/>
<rect x="625.35" y="228.15" width="1.5" height="1.5"/>
<rect x="602.05" y="229.95" width="1.5" height="1.5"/>
<rect x="611.35" y="231.15" width="1.5" height="1.5"/>
<rect x="613.75" y="232.75" width="1.5" height="1.5"/>
<rect x="576.05" y="232.75" width="1.5" height="1.5"/>
<rect x="580.25" y="231.15" width="1.5" height="1.5"/>
<rect x="602.85" y="233.15" width="1.5" height="1.5"/>
<rect x="581.55" y="234.15" width="1.5" height="1.5"/>
<rect x="596.05" y="234.15" width="1.5" height="1.5"/>
<rect x="598.05" y="237.15" width="1.5" height="1.5"/>
<rect x="601.15" y="237.55" width="1.5" height="1.5"/>
<rect x="577.85" y="239.25" width="1.5" height="1.5"/>
<rect x="583.05" y="239.55" width="1.5" height="1.5"/>
<rect x="605.65" y="238.35" width="1.5" height="1.5"/>
<rect x="603.85" y="240.75" width="1.5" height="1.5"/>
<rect x="580.25" y="241.15" width="1.5" height="1.5"/>
<rect x="626.55" y="239.95" width="1.5" height="1.5"/>
<rect x="592.75" y="244.05" width="1.5" height="1.5"/>
<rect x="602.45" y="244.05" width="1.5" height="1.5"/>
<rect x="607.45" y="244.45" width="1.5" height="1.5"/>
<rect x="620.15" y="244.05" width="1.5" height="1.5"/>
<rect x="622.95" y="244.05" width="1.5" height="1.5"/>
<rect x="616.95" y="245.65" width="1.5" height="1.5"/>
<rect x="598.05" y="245.95" width="1.5" height="1.5"/>
<rect x="612.95" y="243.45" width="1.5" height="1.5"/>
<rect x="488.95" y="196.55" width="1.5" height="1.5"/>
<rect x="492.55" y="152.75" width="1.5" height="1.5"/>
<rect x="493.15" y="176.25" width="1.5" height="1.5"/>
<rect x="178.55" y="269.25" width="1.5" height="1.5"/>
<rect x="180.25" y="272.85" width="1.5" height="1.5"/>
<rect x="132.15" y="277.15" width="1.5" height="1.5"/>
<rect x="179.95" y="280.55" width="1.5" height="1.5"/>
<rect x="173.95" y="281.25" width="1.5" height="1.5"/>
<rect x="170.25" y="282.05" width="1.5" height="1.5"/>
<rect x="107.45" y="294.15" width="1.5" height="1.5"/>
<rect x="124.85" y="293.85" width="1.5" height="1.5"/>
<rect x="182.65" y="295.75" width="1.5" height="1.5"/>
<rect x="120.55" y="299.95" width="1.5" height="1.5"/>
<rect x="182.35" y="301.85" width="1.5" height="1.5"/>
<rect x="142.05" y="310.25" width="1.5" height="1.5"/>
<rect x="166.65" y="311.55" width="1.5" height="1.5"/>
<rect x="183.15" y="310.25" width="1.5" height="1.5"/>
<rect x="128.45" y="315.85" width="1.5" height="1.5"/>
<rect x="142.75" y="317.05" width="1.5" height="1.5"/>
<rect x="152.85" y="318.25" width="1.5" height="1.5"/>
<rect x="166.45" y="318.75" width="1.5" height="1.5"/>
<rect x="180.25" y="319.45" width="1.5" height="1.5"/>
<rect x="120.75" y="323.55" width="1.5" height="1.5"/>
<rect x="122.95" y="322.85" width="1.5" height="1.5"/>
<rect x="196.35" y="327.25" width="1.5" height="1.5"/>
<rect x="186.45" y="328.45" width="1.5" height="1.5"/>
<rect x="135.45" y="331.55" width="1.5" height="1.5"/>
<rect x="143.25" y="329.15" width="1.5" height="1.5"/>
<rect x="163.25" y="332.05" width="1.5" height="1.5"/>
<rect x="146.35" y="332.05" width="1.5" height="1.5"/>
<rect x="153.15" y="332.05" width="1.5" height="1.5"/>
<rect x="149.25" y="333.95" width="1.5" height="1.5"/>
<rect x="149.25" y="336.85" width="1.5" height="1.5"/>
<rect x="156.25" y="335.65" width="1.5" height="1.5"/>
<rect x="178.75" y="335.15" width="1.5" height="1.5"/>
<rect x="117.35" y="342.25" width="1.5" height="1.5"/>
<rect x="124.15" y="341.75" width="1.5" height="1.5"/>
<rect x="141.75" y="344.85" width="1.5" height="1.5"/>
<rect x="115.15" y="347.75" width="1.5" height="1.5"/>
<rect x="137.95" y="347.75" width="1.5" height="1.5"/>
<rect x="169.85" y="350.15" width="1.5" height="1.5"/>
<rect x="183.35" y="351.85" width="1.5" height="1.5"/>
<rect x="168.85" y="353.35" width="1.5" height="1.5"/>
<rect x="176.85" y="352.55" width="1.5" height="1.5"/>
<rect x="185.25" y="356.25" width="1.5" height="1.5"/>
<rect x="120.95" y="356.75" width="1.5" height="1.5"/>
<rect x="144.45" y="357.45" width="1.5" height="1.5"/>
<rect x="109.15" y="357.65" width="1.5" height="1.5"/>
<rect x="192.75" y="358.65" width="1.5" height="1.5"/>
<rect x="124.15" y="359.15" width="1.5" height="1.5"/>
<rect x="120.55" y="360.55" width="1.5" height="1.5"/>
<rect x="157.95" y="358.65" width="1.5" height="1.5"/>
<rect x="162.05" y="359.15" width="1.5" height="1.5"/>
<rect x="142.95" y="361.55" width="1.5" height="1.5"/>
<rect x="150.75" y="361.55" width="1.5" height="1.5"/>
<rect x="156.75" y="362.25" width="1.5" height="1.5"/>
<rect x="180.95" y="361.05" width="1.5" height="1.5"/>
<rect x="166.45" y="363.45" width="1.5" height="1.5"/>
<rect x="176.05" y="364.65" width="1.5" height="1.5"/>
<rect x="146.65" y="364.65" width="1.5" height="1.5"/>
<rect x="148.25" y="366.35" width="1.5" height="1.5"/>
<rect x="133.75" y="363.95" width="1.5" height="1.5"/>
<rect x="121.75" y="363.95" width="1.5" height="1.5"/>
<rect x="99.95" y="366.35" width="1.5" height="1.5"/>
<rect x="126.55" y="366.35" width="1.5" height="1.5"/>
<rect x="120.55" y="367.85" width="1.5" height="1.5"/>
<rect x="150.75" y="367.85" width="1.5" height="1.5"/>
<rect x="156.75" y="367.85" width="1.5" height="1.5"/>
<rect x="144.65" y="368.75" width="1.5" height="1.5"/>
<rect x="165.25" y="369.55" width="1.5" height="1.5"/>
<rect x="136.25" y="369.55" width="1.5" height="1.5"/>
<rect x="131.35" y="371.25" width="1.5" height="1.5"/>
<rect x="154.35" y="371.25" width="1.5" height="1.5"/>
<rect x="140.35" y="372.45" width="1.5" height="1.5"/>
<rect x="104.75" y="373.65" width="1.5" height="1.5"/>
<rect x="138.65" y="373.65" width="1.5" height="1.5"/>
<rect x="152.45" y="373.15" width="1.5" height="1.5"/>
<rect x="127.75" y="373.65" width="1.5" height="1.5"/>
<rect x="179.75" y="369.55" width="1.5" height="1.5"/>
<rect x="188.15" y="372.65" width="1.5" height="1.5"/>
<rect x="184.55" y="364.65" width="1.5" height="1.5"/>
<rect x="116.85" y="374.85" width="1.5" height="1.5"/>
<rect x="132.55" y="376.65" width="1.5" height="1.5"/>
<rect x="148.95" y="375.75" width="1.5" height="1.5"/>
<rect x="156.35" y="376.05" width="1.5" height="1.5"/>
<rect x="122.35" y="378.75" width="1.5" height="1.5"/>
<rect x="115.35" y="380.55" width="1.5" height="1.5"/>
<rect x="152.85" y="381.55" width="1.5" height="1.5"/>
<rect x="140.65" y="386.65" width="1.5" height="1.5"/>
<rect x="146.45" y="387.15" width="1.5" height="1.5"/>
<rect x="142.25" y="388.55" width="1.5" height="1.5"/>
<rect x="115.65" y="389.35" width="1.5" height="1.5"/>
<rect x="97.95" y="392.05" width="1.5" height="1.5"/>
<rect x="118.65" y="392.95" width="1.5" height="1.5"/>
<rect x="120.85" y="392.35" width="1.5" height="1.5"/>
<rect x="145.55" y="391.75" width="1.5" height="1.5"/>
<rect x="140.05" y="391.55" width="1.5" height="1.5"/>
<rect x="137.45" y="392.95" width="1.5" height="1.5"/>
<rect x="161.25" y="391.55" width="1.5" height="1.5"/>
<rect x="163.45" y="394.75" width="1.5" height="1.5"/>
<rect x="102.35" y="395.05" width="1.5" height="1.5"/>
<rect x="112.25" y="395.05" width="1.5" height="1.5"/>
<rect x="140.65" y="395.05" width="1.5" height="1.5"/>
<rect x="143.45" y="394.75" width="1.5" height="1.5"/>
<rect x="155.75" y="395.75" width="1.5" height="1.5"/>
<rect x="128.95" y="396.65" width="1.5" height="1.5"/>
<rect x="99.95" y="398.45" width="1.5" height="1.5"/>
<rect x="120.55" y="399.25" width="1.5" height="1.5"/>
<rect x="123.25" y="397.85" width="1.5" height="1.5"/>
<rect x="141.05" y="398.45" width="1.5" height="1.5"/>
<rect x="143.85" y="399.65" width="1.5" height="1.5"/>
<rect x="148.25" y="400.25" width="1.5" height="1.5"/>
<rect x="109.25" y="400.85" width="1.5" height="1.5"/>
<rect x="107.85" y="402.25" width="1.5" height="1.5"/>
<rect x="88.75" y="403.25" width="1.5" height="1.5"/>
<rect x="119.65" y="403.25" width="1.5" height="1.5"/>
<rect x="123.25" y="403.85" width="1.5" height="1.5"/>
<rect x="118.95" y="405.45" width="1.5" height="1.5"/>
<rect x="122.95" y="406.85" width="1.5" height="1.5"/>
<rect x="144.65" y="405.05" width="1.5" height="1.5"/>
<rect x="146.25" y="406.25" width="1.5" height="1.5"/>
<rect x="141.05" y="405.65" width="1.5" height="1.5"/>
<rect x="156.75" y="403.65" width="1.5" height="1.5"/>
<rect x="160.95" y="403.25" width="1.5" height="1.5"/>
<rect x="119.65" y="410.15" width="1.5" height="1.5"/>
<rect x="118.45" y="412.35" width="1.5" height="1.5"/>
<rect x="119.65" y="414.45" width="1.5" height="1.5"/>
<rect x="131.35" y="410.55" width="1.5" height="1.5"/>
<rect x="145.85" y="409.85" width="1.5" height="1.5"/>
<rect x="151.95" y="409.25" width="1.5" height="1.5"/>
<rect x="155.15" y="409.65" width="1.5" height="1.5"/>
<rect x="104.75" y="413.25" width="1.5" height="1.5"/>
<rect x="97.35" y="414.45" width="1.5" height="1.5"/>
<rect x="156.35" y="413.55" width="1.5" height="1.5"/>
<rect x="161.55" y="414.45" width="1.5" height="1.5"/>
<rect x="151.95" y="415.35" width="1.5" height="1.5"/>
<rect x="148.95" y="417.15" width="1.5" height="1.5"/>
<rect x="157.35" y="417.35" width="1.5" height="1.5"/>
<rect x="138.05" y="418.15" width="1.5" height="1.5"/>
<rect x="143.15" y="419.35" width="1.5" height="1.5"/>
<rect x="153.15" y="418.95" width="1.5" height="1.5"/>
<rect x="110.55" y="420.15" width="1.5" height="1.5"/>
<rect x="149.55" y="421.35" width="1.5" height="1.5"/>
<rect x="146.45" y="422.25" width="1.5" height="1.5"/>
<rect x="117.75" y="425.95" width="1.5" height="1.5"/>
<rect x="120.85" y="426.55" width="1.5" height="1.5"/>
<rect x="139.25" y="424.75" width="1.5" height="1.5"/>
<rect x="143.45" y="425.05" width="1.5" height="1.5"/>
<rect x="147.45" y="425.35" width="1.5" height="1.5"/>
<rect x="107.25" y="430.45" width="1.5" height="1.5"/>
<rect x="112.05" y="430.65" width="1.5" height="1.5"/>
<rect x="120.55" y="430.65" width="1.5" height="1.5"/>
<rect x="140.25" y="429.25" width="1.5" height="1.5"/>
<rect x="147.45" y="429.25" width="1.5" height="1.5"/>
<rect x="153.75" y="430.85" width="1.5" height="1.5"/>
<rect x="160.75" y="430.05" width="1.5" height="1.5"/>
<rect x="119.85" y="434.35" width="1.5" height="1.5"/>
<rect x="141.45" y="433.45" width="1.5" height="1.5"/>
<rect x="143.85" y="434.35" width="1.5" height="1.5"/>
<rect x="154.35" y="434.35" width="1.5" height="1.5"/>
<rect x="157.65" y="433.45" width="1.5" height="1.5"/>
<rect x="160.05" y="433.15" width="1.5" height="1.5"/>
<rect x="144.35" y="437.65" width="1.5" height="1.5"/>
<rect x="149.85" y="437.65" width="1.5" height="1.5"/>
<rect x="128.95" y="389.95" width="1.5" height="1.5"/>
<rect x="129.35" y="394.15" width="1.5" height="1.5"/>
<rect x="130.15" y="403.25" width="1.5" height="1.5"/>
<rect x="130.75" y="412.95" width="1.5" height="1.5"/>
<rect x="179.95" y="375.25" width="1.5" height="1.5"/>
<rect x="188.05" y="374.65" width="1.5" height="1.5"/>
<rect x="195.35" y="376.95" width="1.5" height="1.5"/>
<rect x="189.35" y="379.05" width="1.5" height="1.5"/>
<rect x="167.65" y="380.65" width="1.5" height="1.5"/>
<rect x="180.55" y="382.15" width="1.5" height="1.5"/>
<rect x="195.65" y="385.35" width="1.5" height="1.5"/>
<rect x="197.45" y="386.35" width="1.5" height="1.5"/>
<rect x="178.35" y="388.95" width="1.5" height="1.5"/>
<rect x="182.05" y="390.85" width="1.5" height="1.5"/>
<rect x="167.85" y="392.35" width="1.5" height="1.5"/>
<rect x="192.85" y="394.45" width="1.5" height="1.5"/>
<rect x="164.85" y="395.35" width="1.5" height="1.5"/>
<rect x="169.45" y="398.05" width="1.5" height="1.5"/>
<rect x="172.45" y="399.05" width="1.5" height="1.5"/>
<rect x="196.25" y="397.85" width="1.5" height="1.5"/>
<rect x="202.35" y="399.25" width="1.5" height="1.5"/>
<rect x="191.15" y="399.65" width="1.5" height="1.5"/>
<rect x="171.75" y="402.05" width="1.5" height="1.5"/>
<rect x="189.35" y="403.65" width="1.5" height="1.5"/>
<rect x="205.55" y="408.95" width="1.5" height="1.5"/>
<rect x="169.05" y="410.55" width="1.5" height="1.5"/>
<rect x="166.35" y="413.25" width="1.5" height="1.5"/>
<rect x="170.55" y="413.25" width="1.5" height="1.5"/>
<rect x="174.25" y="414.15" width="1.5" height="1.5"/>
<rect x="184.75" y="413.15" width="1.5" height="1.5"/>
<rect x="205.75" y="416.55" width="1.5" height="1.5"/>
<rect x="165.75" y="419.35" width="1.5" height="1.5"/>
<rect x="171.75" y="420.55" width="1.5" height="1.5"/>
<rect x="188.45" y="418.75" width="1.5" height="1.5"/>
<rect x="212.25" y="422.95" width="1.5" height="1.5"/>
<rect x="213.75" y="423.45" width="1.5" height="1.5"/>
<rect x="198.65" y="424.15" width="1.5" height="1.5"/>
<rect x="166.05" y="427.05" width="1.5" height="1.5"/>
<rect x="170.85" y="430.25" width="1.5" height="1.5"/>
<rect x="184.15" y="431.05" width="1.5" height="1.5"/>
<rect x="188.45" y="430.05" width="1.5" height="1.5"/>
<rect x="199.25" y="430.45" width="1.5" height="1.5"/>
<rect x="215.95" y="430.45" width="1.5" height="1.5"/>
<rect x="166.05" y="432.25" width="1.5" height="1.5"/>
<rect x="179.95" y="436.45" width="1.5" height="1.5"/>
<rect x="184.15" y="437.35" width="1.5" height="1.5"/>
<rect x="101.15" y="439.85" width="1.5" height="1.5"/>
<rect x="109.25" y="439.25" width="1.5" height="1.5"/>
<rect x="116.25" y="439.25" width="1.5" height="1.5"/>
<rect x="107.25" y="442.45" width="1.5" height="1.5"/>
<rect x="114.45" y="442.85" width="1.5" height="1.5"/>
<rect x="117.15" y="441.85" width="1.5" height="1.5"/>
<rect x="120.55" y="441.25" width="1.5" height="1.5"/>
<rect x="137.45" y="441.85" width="1.5" height="1.5"/>
<rect x="154.35" y="443.65" width="1.5" height="1.5"/>
<rect x="122.95" y="444.25" width="1.5" height="1.5"/>
<rect x="143.45" y="445.25" width="1.5" height="1.5"/>
<rect x="149.55" y="446.45" width="1.5" height="1.5"/>
<rect x="110.85" y="447.35" width="1.5" height="1.5"/>
<rect x="120.15" y="449.15" width="1.5" height="1.5"/>
<rect x="136.25" y="449.15" width="1.5" height="1.5"/>
<rect x="164.05" y="446.95" width="1.5" height="1.5"/>
<rect x="132.55" y="450.35" width="1.5" height="1.5"/>
<rect x="109.65" y="452.55" width="1.5" height="1.5"/>
<rect x="107.85" y="453.95" width="1.5" height="1.5"/>
<rect x="149.55" y="452.15" width="1.5" height="1.5"/>
<rect x="132.55" y="453.35" width="1.5" height="1.5"/>
<rect x="163.45" y="453.35" width="1.5" height="1.5"/>
<rect x="161.55" y="455.75" width="1.5" height="1.5"/>
<rect x="102.35" y="457.55" width="1.5" height="1.5"/>
<rect x="108.05" y="457.85" width="1.5" height="1.5"/>
<rect x="121.35" y="457.35" width="1.5" height="1.5"/>
<rect x="131.75" y="458.15" width="1.5" height="1.5"/>
<rect x="97.95" y="460.85" width="1.5" height="1.5"/>
<rect x="136.85" y="459.35" width="1.5" height="1.5"/>
<rect x="151.55" y="459.05" width="1.5" height="1.5"/>
<rect x="114.45" y="460.65" width="1.5" height="1.5"/>
<rect x="113.25" y="462.05" width="1.5" height="1.5"/>
<rect x="150.35" y="461.25" width="1.5" height="1.5"/>
<rect x="154.75" y="463.05" width="1.5" height="1.5"/>
<rect x="160.35" y="463.65" width="1.5" height="1.5"/>
<rect x="108.75" y="464.25" width="1.5" height="1.5"/>
<rect x="111.05" y="465.45" width="1.5" height="1.5"/>
<rect x="113.25" y="463.65" width="1.5" height="1.5"/>
<rect x="137.75" y="464.55" width="1.5" height="1.5"/>
<rect x="142.85" y="466.65" width="1.5" height="1.5"/>
<rect x="139.85" y="467.65" width="1.5" height="1.5"/>
<rect x="153.75" y="467.25" width="1.5" height="1.5"/>
<rect x="127.35" y="469.65" width="1.5" height="1.5"/>
<rect x="133.45" y="470.65" width="1.5" height="1.5"/>
<rect x="154.35" y="470.25" width="1.5" height="1.5"/>
<rect x="156.75" y="470.05" width="1.5" height="1.5"/>
<rect x="100.85" y="472.45" width="1.5" height="1.5"/>
<rect x="106.25" y="473.25" width="1.5" height="1.5"/>
<rect x="101.75" y="474.85" width="1.5" height="1.5"/>
<rect x="109.65" y="473.65" width="1.5" height="1.5"/>
<rect x="115.35" y="474.15" width="1.5" height="1.5"/>
<rect x="129.25" y="473.25" width="1.5" height="1.5"/>
<rect x="140.45" y="475.75" width="1.5" height="1.5"/>
<rect x="150.35" y="474.85" width="1.5" height="1.5"/>
<rect x="154.75" y="475.75" width="1.5" height="1.5"/>
<rect x="157.95" y="473.25" width="1.5" height="1.5"/>
<rect x="160.95" y="473.05" width="1.5" height="1.5"/>
<rect x="163.45" y="473.25" width="1.5" height="1.5"/>
<rect x="98.75" y="479.35" width="1.5" height="1.5"/>
<rect x="101.15" y="478.35" width="1.5" height="1.5"/>
<rect x="105.15" y="478.95" width="1.5" height="1.5"/>
<rect x="114.45" y="477.75" width="1.5" height="1.5"/>
<rect x="141.65" y="478.15" width="1.5" height="1.5"/>
<rect x="126.55" y="480.15" width="1.5" height="1.5"/>
<rect x="130.75" y="480.35" width="1.5" height="1.5"/>
<rect x="147.45" y="479.35" width="1.5" height="1.5"/>
<rect x="158.25" y="480.75" width="1.5" height="1.5"/>
<rect x="160.95" y="480.55" width="1.5" height="1.5"/>
<rect x="164.05" y="480.55" width="1.5" height="1.5"/>
<rect x="154.35" y="482.95" width="1.5" height="1.5"/>
<rect x="105.75" y="483.25" width="1.5" height="1.5"/>
<rect x="109.65" y="482.95" width="1.5" height="1.5"/>
<rect x="112.85" y="481.95" width="1.5" height="1.5"/>
<rect x="128.95" y="482.95" width="1.5" height="1.5"/>
<rect x="138.95" y="481.75" width="1.5" height="1.5"/>
<rect x="113.65" y="485.05" width="1.5" height="1.5"/>
<rect x="124.15" y="485.35" width="1.5" height="1.5"/>
<rect x="136.25" y="484.75" width="1.5" height="1.5"/>
<rect x="157.15" y="485.15" width="1.5" height="1.5"/>
<rect x="159.15" y="484.55" width="1.5" height="1.5"/>
<rect x="119.25" y="486.95" width="1.5" height="1.5"/>
<rect x="116.55" y="487.75" width="1.5" height="1.5"/>
<rect x="118.05" y="489.05" width="1.5" height="1.5"/>
<rect x="147.95" y="491.45" width="1.5" height="1.5"/>
<rect x="154.35" y="491.05" width="1.5" height="1.5"/>
<rect x="155.95" y="491.05" width="1.5" height="1.5"/>
<rect x="100.55" y="492.65" width="1.5" height="1.5"/>
<rect x="126.55" y="492.65" width="1.5" height="1.5"/>
<rect x="184.75" y="438.85" width="1.5" height="1.5"/>
<rect x="188.75" y="440.65" width="1.5" height="1.5"/>
<rect x="187.25" y="441.85" width="1.5" height="1.5"/>
<rect x="206.55" y="446.75" width="1.5" height="1.5"/>
<rect x="183.95" y="447.35" width="1.5" height="1.5"/>
<rect x="179.35" y="447.65" width="1.5" height="1.5"/>
<rect x="195.35" y="449.15" width="1.5" height="1.5"/>
<rect x="169.05" y="452.15" width="1.5" height="1.5"/>
<rect x="191.45" y="453.35" width="1.5" height="1.5"/>
<rect x="183.55" y="453.95" width="1.5" height="1.5"/>
<rect x="203.75" y="453.95" width="1.5" height="1.5"/>
<rect x="179.95" y="455.75" width="1.5" height="1.5"/>
<rect x="200.55" y="457.35" width="1.5" height="1.5"/>
<rect x="192.85" y="461.25" width="1.5" height="1.5"/>
<rect x="195.95" y="461.55" width="1.5" height="1.5"/>
<rect x="178.35" y="461.85" width="1.5" height="1.5"/>
<rect x="208.15" y="462.15" width="1.5" height="1.5"/>
<rect x="190.25" y="463.95" width="1.5" height="1.5"/>
<rect x="193.25" y="465.45" width="1.5" height="1.5"/>
<rect x="166.45" y="466.45" width="1.5" height="1.5"/>
<rect x="186.65" y="466.25" width="1.5" height="1.5"/>
<rect x="182.35" y="467.85" width="1.5" height="1.5"/>
<rect x="178.75" y="468.85" width="1.5" height="1.5"/>
<rect x="192.85" y="469.05" width="1.5" height="1.5"/>
<rect x="164.85" y="472.05" width="1.5" height="1.5"/>
<rect x="190.55" y="472.05" width="1.5" height="1.5"/>
<rect x="194.45" y="472.95" width="1.5" height="1.5"/>
<rect x="166.65" y="475.75" width="1.5" height="1.5"/>
<rect x="167.25" y="477.55" width="1.5" height="1.5"/>
<rect x="182.65" y="476.95" width="1.5" height="1.5"/>
<rect x="181.75" y="479.35" width="1.5" height="1.5"/>
<rect x="192.45" y="479.35" width="1.5" height="1.5"/>
<rect x="171.55" y="480.55" width="1.5" height="1.5"/>
<rect x="177.55" y="479.95" width="1.5" height="1.5"/>
<rect x="172.15" y="483.95" width="1.5" height="1.5"/>
<rect x="182.95" y="483.95" width="1.5" height="1.5"/>
<rect x="186.05" y="484.15" width="1.5" height="1.5"/>
<rect x="166.05" y="484.75" width="1.5" height="1.5"/>
<rect x="169.65" y="486.55" width="1.5" height="1.5"/>
<rect x="176.95" y="485.95" width="1.5" height="1.5"/>
<rect x="179.95" y="487.75" width="1.5" height="1.5"/>
<rect x="187.85" y="489.65" width="1.5" height="1.5"/>
<rect x="194.45" y="490.85" width="1.5" height="1.5"/>
<rect x="205.95" y="490.85" width="1.5" height="1.5"/>
<rect x="189.95" y="491.45" width="1.5" height="1.5"/>
<rect x="227.35" y="475.15" width="1.5" height="1.5"/>
<rect x="178.35" y="491.45" width="1.5" height="1.5"/>
<rect x="167.85" y="492.05" width="1.5" height="1.5"/>
<rect x="79.95" y="480.25" width="1.5" height="1.5"/>
<rect x="351.35" y="257.65" width="1.5" height="1.5"/>
<rect x="373.15" y="264.35" width="1.5" height="1.5"/>
<rect x="369.05" y="275.25" width="1.5" height="1.5"/>
<rect x="371.45" y="280.05" width="1.5" height="1.5"/>
<rect x="341.95" y="280.85" width="1.5" height="1.5"/>
<rect x="380.15" y="290.95" width="1.5" height="1.5"/>
<rect x="375.55" y="294.15" width="1.5" height="1.5"/>
<rect x="333.45" y="297.05" width="1.5" height="1.5"/>
<rect x="347.75" y="298.95" width="1.5" height="1.5"/>
<rect x="354.55" y="299.95" width="1.5" height="1.5"/>
<rect x="326.75" y="303.75" width="1.5" height="1.5"/>
<rect x="340.05" y="305.95" width="1.5" height="1.5"/>
<rect x="373.65" y="308.65" width="1.5" height="1.5"/>
<rect x="339.55" y="310.05" width="1.5" height="1.5"/>
<rect x="383.05" y="310.25" width="1.5" height="1.5"/>
<rect x="390.75" y="311.95" width="1.5" height="1.5"/>
<rect x="314.15" y="317.05" width="1.5" height="1.5"/>
<rect x="331.55" y="315.85" width="1.5" height="1.5"/>
<rect x="335.15" y="317.05" width="1.5" height="1.5"/>
<rect x="381.05" y="317.05" width="1.5" height="1.5"/>
<rect x="329.15" y="321.15" width="1.5" height="1.5"/>
<rect x="341.95" y="321.85" width="1.5" height="1.5"/>
<rect x="327.95" y="324.75" width="1.5" height="1.5"/>
<rect x="365.85" y="324.05" width="1.5" height="1.5"/>
<rect x="343.65" y="326.45" width="1.5" height="1.5"/>
<rect x="349.65" y="330.85" width="1.5" height="1.5"/>
<rect x="343.65" y="333.75" width="1.5" height="1.5"/>
<rect x="368.25" y="333.25" width="1.5" height="1.5"/>
<rect x="323.85" y="336.15" width="1.5" height="1.5"/>
<rect x="361.55" y="335.65" width="1.5" height="1.5"/>
<rect x="349.65" y="338.05" width="1.5" height="1.5"/>
<rect x="336.35" y="338.85" width="1.5" height="1.5"/>
<rect x="329.85" y="339.35" width="1.5" height="1.5"/>
<rect x="388.85" y="338.85" width="1.5" height="1.5"/>
<rect x="400.95" y="338.85" width="1.5" height="1.5"/>
<rect x="362.45" y="340.05" width="1.5" height="1.5"/>
<rect x="305.45" y="343.45" width="1.5" height="1.5"/>
<rect x="322.35" y="342.95" width="1.5" height="1.5"/>
<rect x="340.05" y="342.95" width="1.5" height="1.5"/>
<rect x="366.15" y="343.65" width="1.5" height="1.5"/>
<rect x="361.05" y="345.35" width="1.5" height="1.5"/>
<rect x="341.95" y="347.75" width="1.5" height="1.5"/>
<rect x="341.25" y="351.35" width="1.5" height="1.5"/>
<rect x="360.05" y="351.35" width="1.5" height="1.5"/>
<rect x="368.55" y="352.55" width="1.5" height="1.5"/>
<rect x="325.55" y="352.55" width="1.5" height="1.5"/>
<rect x="317.75" y="354.25" width="1.5" height="1.5"/>
<rect x="319.45" y="356.25" width="1.5" height="1.5"/>
<rect x="343.65" y="356.25" width="1.5" height="1.5"/>
<rect x="391.95" y="355.45" width="1.5" height="1.5"/>
<rect x="393.95" y="357.45" width="1.5" height="1.5"/>
<rect x="383.55" y="357.45" width="1.5" height="1.5"/>
<rect x="386.65" y="358.65" width="1.5" height="1.5"/>
<rect x="395.55" y="359.35" width="1.5" height="1.5"/>
<rect x="320.65" y="359.15" width="1.5" height="1.5"/>
<rect x="350.85" y="358.65" width="1.5" height="1.5"/>
<rect x="344.35" y="360.35" width="1.5" height="1.5"/>
<rect x="354.05" y="362.25" width="1.5" height="1.5"/>
<rect x="326.75" y="362.25" width="1.5" height="1.5"/>
<rect x="327.95" y="363.95" width="1.5" height="1.5"/>
<rect x="325.55" y="365.45" width="1.5" height="1.5"/>
<rect x="336.35" y="363.45" width="1.5" height="1.5"/>
<rect x="349.65" y="364.65" width="1.5" height="1.5"/>
<rect x="353.25" y="364.65" width="1.5" height="1.5"/>
<rect x="369.75" y="361.75" width="1.5" height="1.5"/>
<rect x="375.05" y="364.65" width="1.5" height="1.5"/>
<rect x="367.75" y="364.65" width="1.5" height="1.5"/>
<rect x="306.15" y="367.85" width="1.5" height="1.5"/>
<rect x="315.35" y="367.05" width="1.5" height="1.5"/>
<rect x="366.55" y="367.85" width="1.5" height="1.5"/>
<rect x="373.15" y="368.35" width="1.5" height="1.5"/>
<rect x="338.35" y="368.75" width="1.5" height="1.5"/>
<rect x="351.65" y="369.55" width="1.5" height="1.5"/>
<rect x="389.05" y="369.55" width="1.5" height="1.5"/>
<rect x="384.75" y="371.25" width="1.5" height="1.5"/>
<rect x="394.35" y="372.65" width="1.5" height="1.5"/>
<rect x="391.45" y="373.15" width="1.5" height="1.5"/>
<rect x="352.85" y="372.65" width="1.5" height="1.5"/>
<rect x="324.25" y="376.65" width="1.5" height="1.5"/>
<rect x="325.55" y="378.15" width="1.5" height="1.5"/>
<rect x="361.15" y="376.05" width="1.5" height="1.5"/>
<rect x="353.25" y="379.05" width="1.5" height="1.5"/>
<rect x="367.15" y="377.85" width="1.5" height="1.5"/>
<rect x="366.25" y="379.95" width="1.5" height="1.5"/>
<rect x="317.85" y="379.95" width="1.5" height="1.5"/>
<rect x="324.65" y="379.95" width="1.5" height="1.5"/>
<rect x="328.55" y="379.65" width="1.5" height="1.5"/>
<rect x="327.95" y="381.55" width="1.5" height="1.5"/>
<rect x="321.65" y="382.15" width="1.5" height="1.5"/>
<rect x="337.25" y="381.15" width="1.5" height="1.5"/>
<rect x="349.35" y="382.15" width="1.5" height="1.5"/>
<rect x="317.05" y="383.35" width="1.5" height="1.5"/>
<rect x="308.25" y="384.55" width="1.5" height="1.5"/>
<rect x="319.05" y="385.15" width="1.5" height="1.5"/>
<rect x="344.45" y="384.85" width="1.5" height="1.5"/>
<rect x="348.45" y="384.25" width="1.5" height="1.5"/>
<rect x="360.15" y="386.95" width="1.5" height="1.5"/>
<rect x="321.05" y="388.15" width="1.5" height="1.5"/>
<rect x="319.45" y="389.15" width="1.5" height="1.5"/>
<rect x="325.85" y="389.15" width="1.5" height="1.5"/>
<rect x="335.15" y="389.95" width="1.5" height="1.5"/>
<rect x="341.85" y="389.55" width="1.5" height="1.5"/>
<rect x="355.35" y="389.15" width="1.5" height="1.5"/>
<rect x="364.55" y="390.35" width="1.5" height="1.5"/>
<rect x="344.85" y="392.35" width="1.5" height="1.5"/>
<rect x="369.05" y="392.95" width="1.5" height="1.5"/>
<rect x="300.35" y="394.15" width="1.5" height="1.5"/>
<rect x="324.25" y="393.35" width="1.5" height="1.5"/>
<rect x="328.25" y="394.45" width="1.5" height="1.5"/>
<rect x="317.25" y="396.05" width="1.5" height="1.5"/>
<rect x="340.25" y="395.75" width="1.5" height="1.5"/>
<rect x="345.45" y="396.05" width="1.5" height="1.5"/>
<rect x="348.45" y="395.75" width="1.5" height="1.5"/>
<rect x="363.35" y="395.35" width="1.5" height="1.5"/>
<rect x="323.45" y="398.45" width="1.5" height="1.5"/>
<rect x="321.85" y="398.75" width="1.5" height="1.5"/>
<rect x="345.05" y="397.85" width="1.5" height="1.5"/>
<rect x="349.35" y="398.45" width="1.5" height="1.5"/>
<rect x="344.85" y="399.65" width="1.5" height="1.5"/>
<rect x="349.35" y="400.25" width="1.5" height="1.5"/>
<rect x="360.55" y="399.95" width="1.5" height="1.5"/>
<rect x="357.55" y="401.05" width="1.5" height="1.5"/>
<rect x="308.25" y="400.45" width="1.5" height="1.5"/>
<rect x="316.45" y="401.15" width="1.5" height="1.5"/>
<rect x="318.85" y="401.65" width="1.5" height="1.5"/>
<rect x="326.35" y="400.85" width="1.5" height="1.5"/>
<rect x="323.95" y="402.85" width="1.5" height="1.5"/>
<rect x="311.05" y="404.05" width="1.5" height="1.5"/>
<rect x="349.35" y="405.05" width="1.5" height="1.5"/>
<rect x="324.25" y="405.95" width="1.5" height="1.5"/>
<rect x="327.35" y="407.85" width="1.5" height="1.5"/>
<rect x="360.55" y="407.85" width="1.5" height="1.5"/>
<rect x="325.15" y="412.05" width="1.5" height="1.5"/>
<rect x="355.15" y="411.45" width="1.5" height="1.5"/>
<rect x="360.15" y="412.05" width="1.5" height="1.5"/>
<rect x="335.55" y="412.95" width="1.5" height="1.5"/>
<rect x="337.55" y="414.15" width="1.5" height="1.5"/>
<rect x="351.25" y="413.75" width="1.5" height="1.5"/>
<rect x="342.05" y="416.35" width="1.5" height="1.5"/>
<rect x="338.75" y="417.35" width="1.5" height="1.5"/>
<rect x="355.35" y="417.35" width="1.5" height="1.5"/>
<rect x="325.85" y="418.65" width="1.5" height="1.5"/>
<rect x="346.85" y="418.15" width="1.5" height="1.5"/>
<rect x="318.25" y="419.35" width="1.5" height="1.5"/>
<rect x="342.05" y="420.15" width="1.5" height="1.5"/>
<rect x="313.05" y="422.25" width="1.5" height="1.5"/>
<rect x="317.45" y="422.95" width="1.5" height="1.5"/>
<rect x="337.95" y="423.45" width="1.5" height="1.5"/>
<rect x="354.85" y="421.75" width="1.5" height="1.5"/>
<rect x="367.15" y="422.55" width="1.5" height="1.5"/>
<rect x="353.65" y="425.65" width="1.5" height="1.5"/>
<rect x="325.85" y="427.45" width="1.5" height="1.5"/>
<rect x="327.95" y="428.25" width="1.5" height="1.5"/>
<rect x="334.85" y="428.05" width="1.5" height="1.5"/>
<rect x="317.05" y="428.65" width="1.5" height="1.5"/>
<rect x="360.55" y="428.65" width="1.5" height="1.5"/>
<rect x="299.25" y="430.25" width="1.5" height="1.5"/>
<rect x="345.65" y="429.85" width="1.5" height="1.5"/>
<rect x="354.85" y="430.45" width="1.5" height="1.5"/>
<rect x="361.75" y="430.85" width="1.5" height="1.5"/>
<rect x="365.05" y="429.85" width="1.5" height="1.5"/>
<rect x="366.95" y="431.05" width="1.5" height="1.5"/>
<rect x="313.05" y="433.25" width="1.5" height="1.5"/>
<rect x="316.45" y="433.85" width="1.5" height="1.5"/>
<rect x="321.85" y="433.25" width="1.5" height="1.5"/>
<rect x="321.05" y="435.85" width="1.5" height="1.5"/>
<rect x="308.25" y="435.55" width="1.5" height="1.5"/>
<rect x="335.15" y="435.85" width="1.5" height="1.5"/>
<rect x="342.45" y="437.05" width="1.5" height="1.5"/>
<rect x="362.65" y="433.45" width="1.5" height="1.5"/>
<rect x="361.75" y="435.05" width="1.5" height="1.5"/>
<rect x="366.95" y="435.85" width="1.5" height="1.5"/>
<rect x="372.25" y="375.45" width="1.5" height="1.5"/>
<rect x="391.65" y="374.65" width="1.5" height="1.5"/>
<rect x="396.05" y="376.95" width="1.5" height="1.5"/>
<rect x="390.15" y="378.75" width="1.5" height="1.5"/>
<rect x="370.45" y="381.85" width="1.5" height="1.5"/>
<rect x="374.05" y="381.15" width="1.5" height="1.5"/>
<rect x="375.85" y="380.85" width="1.5" height="1.5"/>
<rect x="399.45" y="385.35" width="1.5" height="1.5"/>
<rect x="396.05" y="389.55" width="1.5" height="1.5"/>
<rect x="386.15" y="391.15" width="1.5" height="1.5"/>
<rect x="370.85" y="394.75" width="1.5" height="1.5"/>
<rect x="375.55" y="394.55" width="1.5" height="1.5"/>
<rect x="389.15" y="395.05" width="1.5" height="1.5"/>
<rect x="394.65" y="393.55" width="1.5" height="1.5"/>
<rect x="398.25" y="393.55" width="1.5" height="1.5"/>
<rect x="397.25" y="398.05" width="1.5" height="1.5"/>
<rect x="384.95" y="399.65" width="1.5" height="1.5"/>
<rect x="407.55" y="401.65" width="1.5" height="1.5"/>
<rect x="400.35" y="402.85" width="1.5" height="1.5"/>
<rect x="394.95" y="404.25" width="1.5" height="1.5"/>
<rect x="371.05" y="405.95" width="1.5" height="1.5"/>
<rect x="387.05" y="407.45" width="1.5" height="1.5"/>
<rect x="386.55" y="410.85" width="1.5" height="1.5"/>
<rect x="400.05" y="410.85" width="1.5" height="1.5"/>
<rect x="394.65" y="413.15" width="1.5" height="1.5"/>
<rect x="396.05" y="412.95" width="1.5" height="1.5"/>
<rect x="402.75" y="413.75" width="1.5" height="1.5"/>
<rect x="405.15" y="413.15" width="1.5" height="1.5"/>
<rect x="380.75" y="412.95" width="1.5" height="1.5"/>
<rect x="370.25" y="415.05" width="1.5" height="1.5"/>
<rect x="383.55" y="417.35" width="1.5" height="1.5"/>
<rect x="389.15" y="418.15" width="1.5" height="1.5"/>
<rect x="397.05" y="418.75" width="1.5" height="1.5"/>
<rect x="386.75" y="419.85" width="1.5" height="1.5"/>
<rect x="390.35" y="421.15" width="1.5" height="1.5"/>
<rect x="396.85" y="420.15" width="1.5" height="1.5"/>
<rect x="374.45" y="420.55" width="1.5" height="1.5"/>
<rect x="398.85" y="422.95" width="1.5" height="1.5"/>
<rect x="393.75" y="425.85" width="1.5" height="1.5"/>
<rect x="374.95" y="427.05" width="1.5" height="1.5"/>
<rect x="372.25" y="428.25" width="1.5" height="1.5"/>
<rect x="381.35" y="427.45" width="1.5" height="1.5"/>
<rect x="384.95" y="426.55" width="1.5" height="1.5"/>
<rect x="388.25" y="427.05" width="1.5" height="1.5"/>
<rect x="384.15" y="428.65" width="1.5" height="1.5"/>
<rect x="378.35" y="429.25" width="1.5" height="1.5"/>
<rect x="398.25" y="432.25" width="1.5" height="1.5"/>
<rect x="398.65" y="434.35" width="1.5" height="1.5"/>
<rect x="369.85" y="434.35" width="1.5" height="1.5"/>
<rect x="372.05" y="434.35" width="1.5" height="1.5"/>
<rect x="374.65" y="436.25" width="1.5" height="1.5"/>
<rect x="386.15" y="436.25" width="1.5" height="1.5"/>
<rect x="311.35" y="440.05" width="1.5" height="1.5"/>
<rect x="313.05" y="439.45" width="1.5" height="1.5"/>
<rect x="320.35" y="439.45" width="1.5" height="1.5"/>
<rect x="321.55" y="440.95" width="1.5" height="1.5"/>
<rect x="336.05" y="438.65" width="1.5" height="1.5"/>
<rect x="342.75" y="439.45" width="1.5" height="1.5"/>
<rect x="337.25" y="440.95" width="1.5" height="1.5"/>
<rect x="349.35" y="442.15" width="1.5" height="1.5"/>
<rect x="344.85" y="443.65" width="1.5" height="1.5"/>
<rect x="350.85" y="444.85" width="1.5" height="1.5"/>
<rect x="363.25" y="443.95" width="1.5" height="1.5"/>
<rect x="368.45" y="441.85" width="1.5" height="1.5"/>
<rect x="314.95" y="444.25" width="1.5" height="1.5"/>
<rect x="316.85" y="443.95" width="1.5" height="1.5"/>
<rect x="324.25" y="443.65" width="1.5" height="1.5"/>
<rect x="324.65" y="445.15" width="1.5" height="1.5"/>
<rect x="339.65" y="450.35" width="1.5" height="1.5"/>
<rect x="345.25" y="450.95" width="1.5" height="1.5"/>
<rect x="354.85" y="450.05" width="1.5" height="1.5"/>
<rect x="322.15" y="451.15" width="1.5" height="1.5"/>
<rect x="308.95" y="453.75" width="1.5" height="1.5"/>
<rect x="365.75" y="452.15" width="1.5" height="1.5"/>
<rect x="314.95" y="455.75" width="1.5" height="1.5"/>
<rect x="315.45" y="457.55" width="1.5" height="1.5"/>
<rect x="311.65" y="458.45" width="1.5" height="1.5"/>
<rect x="321.85" y="456.65" width="1.5" height="1.5"/>
<rect x="320.65" y="458.15" width="1.5" height="1.5"/>
<rect x="325.15" y="456.35" width="1.5" height="1.5"/>
<rect x="319.85" y="459.65" width="1.5" height="1.5"/>
<rect x="362.35" y="455.15" width="1.5" height="1.5"/>
<rect x="331.55" y="459.05" width="1.5" height="1.5"/>
<rect x="338.45" y="460.85" width="1.5" height="1.5"/>
<rect x="346.65" y="460.05" width="1.5" height="1.5"/>
<rect x="353.25" y="460.05" width="1.5" height="1.5"/>
<rect x="362.35" y="460.65" width="1.5" height="1.5"/>
<rect x="317.85" y="462.75" width="1.5" height="1.5"/>
<rect x="341.25" y="463.95" width="1.5" height="1.5"/>
<rect x="347.25" y="464.25" width="1.5" height="1.5"/>
<rect x="351.25" y="465.45" width="1.5" height="1.5"/>
<rect x="360.55" y="463.25" width="1.5" height="1.5"/>
<rect x="363.85" y="462.05" width="1.5" height="1.5"/>
<rect x="313.05" y="468.25" width="1.5" height="1.5"/>
<rect x="318.65" y="466.85" width="1.5" height="1.5"/>
<rect x="321.55" y="469.45" width="1.5" height="1.5"/>
<rect x="317.85" y="469.95" width="1.5" height="1.5"/>
<rect x="339.45" y="468.85" width="1.5" height="1.5"/>
<rect x="356.05" y="467.85" width="1.5" height="1.5"/>
<rect x="356.55" y="469.35" width="1.5" height="1.5"/>
<rect x="360.55" y="467.25" width="1.5" height="1.5"/>
<rect x="359.35" y="468.85" width="1.5" height="1.5"/>
<rect x="364.75" y="470.25" width="1.5" height="1.5"/>
<rect x="303.35" y="473.85" width="1.5" height="1.5"/>
<rect x="310.15" y="471.75" width="1.5" height="1.5"/>
<rect x="311.65" y="472.95" width="1.5" height="1.5"/>
<rect x="313.45" y="473.85" width="1.5" height="1.5"/>
<rect x="314.95" y="475.15" width="1.5" height="1.5"/>
<rect x="316.45" y="476.35" width="1.5" height="1.5"/>
<rect x="318.25" y="476.95" width="1.5" height="1.5"/>
<rect x="323.05" y="471.25" width="1.5" height="1.5"/>
<rect x="330.35" y="470.85" width="1.5" height="1.5"/>
<rect x="334.55" y="472.45" width="1.5" height="1.5"/>
<rect x="336.05" y="474.55" width="1.5" height="1.5"/>
<rect x="310.35" y="476.95" width="1.5" height="1.5"/>
<rect x="313.45" y="478.45" width="1.5" height="1.5"/>
<rect x="307.35" y="479.75" width="1.5" height="1.5"/>
<rect x="321.85" y="480.95" width="1.5" height="1.5"/>
<rect x="345.65" y="477.75" width="1.5" height="1.5"/>
<rect x="349.65" y="477.75" width="1.5" height="1.5"/>
<rect x="356.55" y="476.55" width="1.5" height="1.5"/>
<rect x="360.15" y="476.55" width="1.5" height="1.5"/>
<rect x="337.55" y="480.95" width="1.5" height="1.5"/>
<rect x="364.15" y="479.75" width="1.5" height="1.5"/>
<rect x="366.55" y="481.75" width="1.5" height="1.5"/>
<rect x="313.45" y="482.35" width="1.5" height="1.5"/>
<rect x="317.45" y="482.65" width="1.5" height="1.5"/>
<rect x="314.25" y="484.55" width="1.5" height="1.5"/>
<rect x="343.95" y="484.55" width="1.5" height="1.5"/>
<rect x="346.05" y="485.05" width="1.5" height="1.5"/>
<rect x="340.35" y="485.35" width="1.5" height="1.5"/>
<rect x="340.05" y="486.95" width="1.5" height="1.5"/>
<rect x="351.25" y="486.95" width="1.5" height="1.5"/>
<rect x="358.15" y="485.75" width="1.5" height="1.5"/>
<rect x="364.15" y="487.45" width="1.5" height="1.5"/>
<rect x="367.75" y="484.55" width="1.5" height="1.5"/>
<rect x="368.45" y="486.25" width="1.5" height="1.5"/>
<rect x="318.25" y="488.15" width="1.5" height="1.5"/>
<rect x="320.65" y="486.95" width="1.5" height="1.5"/>
<rect x="318.85" y="489.65" width="1.5" height="1.5"/>
<rect x="323.45" y="490.25" width="1.5" height="1.5"/>
<rect x="326.35" y="490.55" width="1.5" height="1.5"/>
<rect x="308.55" y="492.65" width="1.5" height="1.5"/>
<rect x="342.05" y="489.35" width="1.5" height="1.5"/>
<rect x="351.75" y="490.55" width="1.5" height="1.5"/>
<rect x="365.95" y="489.65" width="1.5" height="1.5"/>
<rect x="359.35" y="491.45" width="1.5" height="1.5"/>
<rect x="375.25" y="439.75" width="1.5" height="1.5"/>
<rect x="385.85" y="440.35" width="1.5" height="1.5"/>
<rect x="369.85" y="442.25" width="1.5" height="1.5"/>
<rect x="391.65" y="443.05" width="1.5" height="1.5"/>
<rect x="390.75" y="444.55" width="1.5" height="1.5"/>
<rect x="395.45" y="444.85" width="1.5" height="1.5"/>
<rect x="396.45" y="446.75" width="1.5" height="1.5"/>
<rect x="407.95" y="444.25" width="1.5" height="1.5"/>
<rect x="381.95" y="446.45" width="1.5" height="1.5"/>
<rect x="383.75" y="447.35" width="1.5" height="1.5"/>
<rect x="398.65" y="448.55" width="1.5" height="1.5"/>
<rect x="372.25" y="449.15" width="1.5" height="1.5"/>
<rect x="370.45" y="450.35" width="1.5" height="1.5"/>
<rect x="386.75" y="449.15" width="1.5" height="1.5"/>
<rect x="393.05" y="450.35" width="1.5" height="1.5"/>
<rect x="397.85" y="451.95" width="1.5" height="1.5"/>
<rect x="399.45" y="453.75" width="1.5" height="1.5"/>
<rect x="408.55" y="453.95" width="1.5" height="1.5"/>
<rect x="374.65" y="453.75" width="1.5" height="1.5"/>
<rect x="375.25" y="455.55" width="1.5" height="1.5"/>
<rect x="381.65" y="457.25" width="1.5" height="1.5"/>
<rect x="384.95" y="458.45" width="1.5" height="1.5"/>
<rect x="406.45" y="457.85" width="1.5" height="1.5"/>
<rect x="375.25" y="460.05" width="1.5" height="1.5"/>
<rect x="395.55" y="459.75" width="1.5" height="1.5"/>
<rect x="389.15" y="463.25" width="1.5" height="1.5"/>
<rect x="389.55" y="465.45" width="1.5" height="1.5"/>
<rect x="396.05" y="463.95" width="1.5" height="1.5"/>
<rect x="397.85" y="464.85" width="1.5" height="1.5"/>
<rect x="403.65" y="464.55" width="1.5" height="1.5"/>
<rect x="407.55" y="466.65" width="1.5" height="1.5"/>
<rect x="395.25" y="469.35" width="1.5" height="1.5"/>
<rect x="397.85" y="470.05" width="1.5" height="1.5"/>
<rect x="403.45" y="469.65" width="1.5" height="1.5"/>
<rect x="393.45" y="471.45" width="1.5" height="1.5"/>
<rect x="392.25" y="472.95" width="1.5" height="1.5"/>
<rect x="397.85" y="473.65" width="1.5" height="1.5"/>
<rect x="387.35" y="472.45" width="1.5" height="1.5"/>
<rect x="384.15" y="474.85" width="1.5" height="1.5"/>
<rect x="369.85" y="475.15" width="1.5" height="1.5"/>
<rect x="371.65" y="476.05" width="1.5" height="1.5"/>
<rect x="370.85" y="481.15" width="1.5" height="1.5"/>
<rect x="374.05" y="480.95" width="1.5" height="1.5"/>
<rect x="375.85" y="481.75" width="1.5" height="1.5"/>
<rect x="386.15" y="479.35" width="1.5" height="1.5"/>
<rect x="387.95" y="479.95" width="1.5" height="1.5"/>
<rect x="401.05" y="481.15" width="1.5" height="1.5"/>
<rect x="372.85" y="484.15" width="1.5" height="1.5"/>
<rect x="387.35" y="483.95" width="1.5" height="1.5"/>
<rect x="391.05" y="483.35" width="1.5" height="1.5"/>
<rect x="389.15" y="484.55" width="1.5" height="1.5"/>
<rect x="381.95" y="484.75" width="1.5" height="1.5"/>
<rect x="376.55" y="486.25" width="1.5" height="1.5"/>
<rect x="387.35" y="485.95" width="1.5" height="1.5"/>
<rect x="401.85" y="485.35" width="1.5" height="1.5"/>
<rect x="398.65" y="486.25" width="1.5" height="1.5"/>
<rect x="391.65" y="487.15" width="1.5" height="1.5"/>
<rect x="393.05" y="486.95" width="1.5" height="1.5"/>
<rect x="375.25" y="489.05" width="1.5" height="1.5"/>
<rect x="378.05" y="489.65" width="1.5" height="1.5"/>
<rect x="387.35" y="489.05" width="1.5" height="1.5"/>
<rect x="391.05" y="489.05" width="1.5" height="1.5"/>
<rect x="385.85" y="490.55" width="1.5" height="1.5"/>
<rect x="401.25" y="491.05" width="1.5" height="1.5"/>
<rect x="382.55" y="491.05" width="1.5" height="1.5"/>
<rect x="375.85" y="492.65" width="1.5" height="1.5"/>
<rect x="513.15" y="257.65" width="1.5" height="1.5"/>
<rect x="572.75" y="264.85" width="1.5" height="1.5"/>
<rect x="565.75" y="274.75" width="1.5" height="1.5"/>
<rect x="572.75" y="280.05" width="1.5" height="1.5"/>
<rect x="550.35" y="280.85" width="1.5" height="1.5"/>
<rect x="579.55" y="290.95" width="1.5" height="1.5"/>
<rect x="573.25" y="293.85" width="1.5" height="1.5"/>
<rect x="499.85" y="299.45" width="1.5" height="1.5"/>
<rect x="544.25" y="300.65" width="1.5" height="1.5"/>
<rect x="517.65" y="303.75" width="1.5" height="1.5"/>
<rect x="541.85" y="304.25" width="1.5" height="1.5"/>
<rect x="532.95" y="305.95" width="1.5" height="1.5"/>
<rect x="544.25" y="309.05" width="1.5" height="1.5"/>
<rect x="546.95" y="310.25" width="1.5" height="1.5"/>
<rect x="591.65" y="310.25" width="1.5" height="1.5"/>
<rect x="605.45" y="311.95" width="1.5" height="1.5"/>
<rect x="505.65" y="315.85" width="1.5" height="1.5"/>
<rect x="517.25" y="317.05" width="1.5" height="1.5"/>
<rect x="537.05" y="317.05" width="1.5" height="1.5"/>
<rect x="598.65" y="317.05" width="1.5" height="1.5"/>
<rect x="511.65" y="320.65" width="1.5" height="1.5"/>
<rect x="534.15" y="321.85" width="1.5" height="1.5"/>
<rect x="576.95" y="324.05" width="1.5" height="1.5"/>
<rect x="546.65" y="326.05" width="1.5" height="1.5"/>
<rect x="552.25" y="330.85" width="1.5" height="1.5"/>
<rect x="573.25" y="332.75" width="1.5" height="1.5"/>
<rect x="527.35" y="333.75" width="1.5" height="1.5"/>
<rect x="566.75" y="334.45" width="1.5" height="1.5"/>
<rect x="523.25" y="336.15" width="1.5" height="1.5"/>
<rect x="562.45" y="336.15" width="1.5" height="1.5"/>
<rect x="554.65" y="338.05" width="1.5" height="1.5"/>
<rect x="544.25" y="338.85" width="1.5" height="1.5"/>
<rect x="600.55" y="338.85" width="1.5" height="1.5"/>
<rect x="618.45" y="338.85" width="1.5" height="1.5"/>
<rect x="516.05" y="338.85" width="1.5" height="1.5"/>
<rect x="566.05" y="340.05" width="1.5" height="1.5"/>
<rect x="503.15" y="342.45" width="1.5" height="1.5"/>
<rect x="503.95" y="345.35" width="1.5" height="1.5"/>
<rect x="568.45" y="343.65" width="1.5" height="1.5"/>
<rect x="532.95" y="344.15" width="1.5" height="1.5"/>
<rect x="566.05" y="346.05" width="1.5" height="1.5"/>
<rect x="550.35" y="346.55" width="1.5" height="1.5"/>
<rect x="546.25" y="349.65" width="1.5" height="1.5"/>
<rect x="540.85" y="350.95" width="1.5" height="1.5"/>
<rect x="559.55" y="350.95" width="1.5" height="1.5"/>
<rect x="499.85" y="354.25" width="1.5" height="1.5"/>
<rect x="571.55" y="355.05" width="1.5" height="1.5"/>
<rect x="591.45" y="354.55" width="1.5" height="1.5"/>
<rect x="597.45" y="356.75" width="1.5" height="1.5"/>
<rect x="506.35" y="356.75" width="1.5" height="1.5"/>
<rect x="508.75" y="359.15" width="1.5" height="1.5"/>
<rect x="511.65" y="358.15" width="1.5" height="1.5"/>
<rect x="520.85" y="355.75" width="1.5" height="1.5"/>
<rect x="552.95" y="357.45" width="1.5" height="1.5"/>
<rect x="549.85" y="358.65" width="1.5" height="1.5"/>
<rect x="607.85" y="358.15" width="1.5" height="1.5"/>
<rect x="597.45" y="359.85" width="1.5" height="1.5"/>
<rect x="539.45" y="360.35" width="1.5" height="1.5"/>
<rect x="541.85" y="362.95" width="1.5" height="1.5"/>
<rect x="576.45" y="361.55" width="1.5" height="1.5"/>
<rect x="537.75" y="363.45" width="1.5" height="1.5"/>
<rect x="516.05" y="364.65" width="1.5" height="1.5"/>
<rect x="563.15" y="364.65" width="1.5" height="1.5"/>
<rect x="575.75" y="364.65" width="1.5" height="1.5"/>
<rect x="593.35" y="364.65" width="1.5" height="1.5"/>
<rect x="513.55" y="367.05" width="1.5" height="1.5"/>
<rect x="554.15" y="366.35" width="1.5" height="1.5"/>
<rect x="559.95" y="367.05" width="1.5" height="1.5"/>
<rect x="538.95" y="367.05" width="1.5" height="1.5"/>
<rect x="505.15" y="370.25" width="1.5" height="1.5"/>
<rect x="593.85" y="369.55" width="1.5" height="1.5"/>
<rect x="596.45" y="371.25" width="1.5" height="1.5"/>
<rect x="557.05" y="372.65" width="1.5" height="1.5"/>
<rect x="589.75" y="372.65" width="1.5" height="1.5"/>
<rect x="606.65" y="372.65" width="1.5" height="1.5"/>
<rect x="532.95" y="376.65" width="1.5" height="1.5"/>
<rect x="563.35" y="376.65" width="1.5" height="1.5"/>
<rect x="567.35" y="376.05" width="1.5" height="1.5"/>
<rect x="562.25" y="379.05" width="1.5" height="1.5"/>
<rect x="567.75" y="378.45" width="1.5" height="1.5"/>
<rect x="539.25" y="379.35" width="1.5" height="1.5"/>
<rect x="516.85" y="379.95" width="1.5" height="1.5"/>
<rect x="527.25" y="379.65" width="1.5" height="1.5"/>
<rect x="549.45" y="381.15" width="1.5" height="1.5"/>
<rect x="555.55" y="381.25" width="1.5" height="1.5"/>
<rect x="506.35" y="383.35" width="1.5" height="1.5"/>
<rect x="521.65" y="382.15" width="1.5" height="1.5"/>
<rect x="538.15" y="382.35" width="1.5" height="1.5"/>
<rect x="496.35" y="384.75" width="1.5" height="1.5"/>
<rect x="505.75" y="387.95" width="1.5" height="1.5"/>
<rect x="503.05" y="389.35" width="1.5" height="1.5"/>
<rect x="515.15" y="388.15" width="1.5" height="1.5"/>
<rect x="522.85" y="389.15" width="1.5" height="1.5"/>
<rect x="544.65" y="387.95" width="1.5" height="1.5"/>
<rect x="539.35" y="389.95" width="1.5" height="1.5"/>
<rect x="564.05" y="390.35" width="1.5" height="1.5"/>
<rect x="520.45" y="393.55" width="1.5" height="1.5"/>
<rect x="506.65" y="394.15" width="1.5" height="1.5"/>
<rect x="544.45" y="392.75" width="1.5" height="1.5"/>
<rect x="555.85" y="392.35" width="1.5" height="1.5"/>
<rect x="570.15" y="392.95" width="1.5" height="1.5"/>
<rect x="502.45" y="396.25" width="1.5" height="1.5"/>
<rect x="545.05" y="396.05" width="1.5" height="1.5"/>
<rect x="539.85" y="397.25" width="1.5" height="1.5"/>
<rect x="548.65" y="398.05" width="1.5" height="1.5"/>
<rect x="562.25" y="398.45" width="1.5" height="1.5"/>
<rect x="532.95" y="398.45" width="1.5" height="1.5"/>
<rect x="561.55" y="400.45" width="1.5" height="1.5"/>
<rect x="555.25" y="400.25" width="1.5" height="1.5"/>
<rect x="503.65" y="401.45" width="1.5" height="1.5"/>
<rect x="522.85" y="401.05" width="1.5" height="1.5"/>
<rect x="526.05" y="400.55" width="1.5" height="1.5"/>
<rect x="513.25" y="404.05" width="1.5" height="1.5"/>
<rect x="523.65" y="406.05" width="1.5" height="1.5"/>
<rect x="548.25" y="404.85" width="1.5" height="1.5"/>
<rect x="557.05" y="405.65" width="1.5" height="1.5"/>
<rect x="571.95" y="405.95" width="1.5" height="1.5"/>
<rect x="539.35" y="407.75" width="1.5" height="1.5"/>
<rect x="570.75" y="408.05" width="1.5" height="1.5"/>
<rect x="521.65" y="412.55" width="1.5" height="1.5"/>
<rect x="527.75" y="413.55" width="1.5" height="1.5"/>
<rect x="537.35" y="412.55" width="1.5" height="1.5"/>
<rect x="540.75" y="414.45" width="1.5" height="1.5"/>
<rect x="569.55" y="412.05" width="1.5" height="1.5"/>
<rect x="573.15" y="412.05" width="1.5" height="1.5"/>
<rect x="568.85" y="414.15" width="1.5" height="1.5"/>
<rect x="547.75" y="417.15" width="1.5" height="1.5"/>
<rect x="558.25" y="417.35" width="1.5" height="1.5"/>
<rect x="564.35" y="418.35" width="1.5" height="1.5"/>
<rect x="542.25" y="418.35" width="1.5" height="1.5"/>
<rect x="529.25" y="418.95" width="1.5" height="1.5"/>
<rect x="573.45" y="420.15" width="1.5" height="1.5"/>
<rect x="512.75" y="422.95" width="1.5" height="1.5"/>
<rect x="524.05" y="423.15" width="1.5" height="1.5"/>
<rect x="525.95" y="422.95" width="1.5" height="1.5"/>
<rect x="552.05" y="420.55" width="1.5" height="1.5"/>
<rect x="549.45" y="423.45" width="1.5" height="1.5"/>
<rect x="557.95" y="422.25" width="1.5" height="1.5"/>
<rect x="558.65" y="425.05" width="1.5" height="1.5"/>
<rect x="555.85" y="426.25" width="1.5" height="1.5"/>
<rect x="538.95" y="427.45" width="1.5" height="1.5"/>
<rect x="529.25" y="428.65" width="1.5" height="1.5"/>
<rect x="501.85" y="428.65" width="1.5" height="1.5"/>
<rect x="501.15" y="430.25" width="1.5" height="1.5"/>
<rect x="570.75" y="428.95" width="1.5" height="1.5"/>
<rect x="569.55" y="430.65" width="1.5" height="1.5"/>
<rect x="553.15" y="429.85" width="1.5" height="1.5"/>
<rect x="560.75" y="429.85" width="1.5" height="1.5"/>
<rect x="549.45" y="431.85" width="1.5" height="1.5"/>
<rect x="511.55" y="433.45" width="1.5" height="1.5"/>
<rect x="518.05" y="433.15" width="1.5" height="1.5"/>
<rect x="518.45" y="434.65" width="1.5" height="1.5"/>
<rect x="520.85" y="433.45" width="1.5" height="1.5"/>
<rect x="522.85" y="435.05" width="1.5" height="1.5"/>
<rect x="554.65" y="434.35" width="1.5" height="1.5"/>
<rect x="551.45" y="433.85" width="1.5" height="1.5"/>
<rect x="566.35" y="434.35" width="1.5" height="1.5"/>
<rect x="499.45" y="435.55" width="1.5" height="1.5"/>
<rect x="567.65" y="435.85" width="1.5" height="1.5"/>
<rect x="560.75" y="433.85" width="1.5" height="1.5"/>
<rect x="565.55" y="437.45" width="1.5" height="1.5"/>
<rect x="555.05" y="437.45" width="1.5" height="1.5"/>
<rect x="543.75" y="435.85" width="1.5" height="1.5"/>
<rect x="575.85" y="375.45" width="1.5" height="1.5"/>
<rect x="596.05" y="374.65" width="1.5" height="1.5"/>
<rect x="595.35" y="376.65" width="1.5" height="1.5"/>
<rect x="590.55" y="378.75" width="1.5" height="1.5"/>
<rect x="579.65" y="379.65" width="1.5" height="1.5"/>
<rect x="592.95" y="381.75" width="1.5" height="1.5"/>
<rect x="591.15" y="384.15" width="1.5" height="1.5"/>
<rect x="577.25" y="384.15" width="1.5" height="1.5"/>
<rect x="599.05" y="385.15" width="1.5" height="1.5"/>
<rect x="576.05" y="387.15" width="1.5" height="1.5"/>
<rect x="577.55" y="389.15" width="1.5" height="1.5"/>
<rect x="610.85" y="389.55" width="1.5" height="1.5"/>
<rect x="605.65" y="391.15" width="1.5" height="1.5"/>
<rect x="592.05" y="393.55" width="1.5" height="1.5"/>
<rect x="599.25" y="393.55" width="1.5" height="1.5"/>
<rect x="576.05" y="395.65" width="1.5" height="1.5"/>
<rect x="582.15" y="394.75" width="1.5" height="1.5"/>
<rect x="584.55" y="395.05" width="1.5" height="1.5"/>
<rect x="611.15" y="398.05" width="1.5" height="1.5"/>
<rect x="601.65" y="399.65" width="1.5" height="1.5"/>
<rect x="581.15" y="400.85" width="1.5" height="1.5"/>
<rect x="625.35" y="401.45" width="1.5" height="1.5"/>
<rect x="604.45" y="402.85" width="1.5" height="1.5"/>
<rect x="580.25" y="405.35" width="1.5" height="1.5"/>
<rect x="602.65" y="407.45" width="1.5" height="1.5"/>
<rect x="593.55" y="410.85" width="1.5" height="1.5"/>
<rect x="601.15" y="411.15" width="1.5" height="1.5"/>
<rect x="577.25" y="413.15" width="1.5" height="1.5"/>
<rect x="588.75" y="412.95" width="1.5" height="1.5"/>
<rect x="589.95" y="414.75" width="1.5" height="1.5"/>
<rect x="606.25" y="412.95" width="1.5" height="1.5"/>
<rect x="611.45" y="412.95" width="1.5" height="1.5"/>
<rect x="615.95" y="413.75" width="1.5" height="1.5"/>
<rect x="606.65" y="417.55" width="1.5" height="1.5"/>
<rect x="618.15" y="418.35" width="1.5" height="1.5"/>
<rect x="599.95" y="418.75" width="1.5" height="1.5"/>
<rect x="597.55" y="419.95" width="1.5" height="1.5"/>
<rect x="602.85" y="420.15" width="1.5" height="1.5"/>
<rect x="575.85" y="423.75" width="1.5" height="1.5"/>
<rect x="594.15" y="421.35" width="1.5" height="1.5"/>
<rect x="622.95" y="422.95" width="1.5" height="1.5"/>
<rect x="614.45" y="425.85" width="1.5" height="1.5"/>
<rect x="628.95" y="427.05" width="1.5" height="1.5"/>
<rect x="595.15" y="426.55" width="1.5" height="1.5"/>
<rect x="607.25" y="427.45" width="1.5" height="1.5"/>
<rect x="609.25" y="428.95" width="1.5" height="1.5"/>
<rect x="590.55" y="429.25" width="1.5" height="1.5"/>
<rect x="611.35" y="432.25" width="1.5" height="1.5"/>
<rect x="605.35" y="434.35" width="1.5" height="1.5"/>
<rect x="583.05" y="431.85" width="1.5" height="1.5"/>
<rect x="579.45" y="436.25" width="1.5" height="1.5"/>
<rect x="594.75" y="436.75" width="1.5" height="1.5"/>
<rect x="497.25" y="440.35" width="1.5" height="1.5"/>
<rect x="512.05" y="439.45" width="1.5" height="1.5"/>
<rect x="516.05" y="440.95" width="1.5" height="1.5"/>
<rect x="566.75" y="438.85" width="1.5" height="1.5"/>
<rect x="571.95" y="440.05" width="1.5" height="1.5"/>
<rect x="561.55" y="442.45" width="1.5" height="1.5"/>
<rect x="552.65" y="443.45" width="1.5" height="1.5"/>
<rect x="555.85" y="444.85" width="1.5" height="1.5"/>
<rect x="569.75" y="443.95" width="1.5" height="1.5"/>
<rect x="516.05" y="443.65" width="1.5" height="1.5"/>
<rect x="521.15" y="443.65" width="1.5" height="1.5"/>
<rect x="536.55" y="442.75" width="1.5" height="1.5"/>
<rect x="537.75" y="446.35" width="1.5" height="1.5"/>
<rect x="566.75" y="450.35" width="1.5" height="1.5"/>
<rect x="542.55" y="450.95" width="1.5" height="1.5"/>
<rect x="511.15" y="451.35" width="1.5" height="1.5"/>
<rect x="510.85" y="453.35" width="1.5" height="1.5"/>
<rect x="569.75" y="452.35" width="1.5" height="1.5"/>
<rect x="571.95" y="452.55" width="1.5" height="1.5"/>
<rect x="523.25" y="456.75" width="1.5" height="1.5"/>
<rect x="516.65" y="456.95" width="1.5" height="1.5"/>
<rect x="514.75" y="458.45" width="1.5" height="1.5"/>
<rect x="524.85" y="458.75" width="1.5" height="1.5"/>
<rect x="500.85" y="458.15" width="1.5" height="1.5"/>
<rect x="565.95" y="460.05" width="1.5" height="1.5"/>
<rect x="554.35" y="460.05" width="1.5" height="1.5"/>
<rect x="539.85" y="461.25" width="1.5" height="1.5"/>
<rect x="545.85" y="461.25" width="1.5" height="1.5"/>
<rect x="504.55" y="462.45" width="1.5" height="1.5"/>
<rect x="563.75" y="462.05" width="1.5" height="1.5"/>
<rect x="567.95" y="463.25" width="1.5" height="1.5"/>
<rect x="550.65" y="464.25" width="1.5" height="1.5"/>
<rect x="559.55" y="463.95" width="1.5" height="1.5"/>
<rect x="518.05" y="464.85" width="1.5" height="1.5"/>
<rect x="513.25" y="465.45" width="1.5" height="1.5"/>
<rect x="546.55" y="465.85" width="1.5" height="1.5"/>
<rect x="513.25" y="468.05" width="1.5" height="1.5"/>
<rect x="507.95" y="469.05" width="1.5" height="1.5"/>
<rect x="548.95" y="467.65" width="1.5" height="1.5"/>
<rect x="547.05" y="468.45" width="1.5" height="1.5"/>
<rect x="564.35" y="466.85" width="1.5" height="1.5"/>
<rect x="566.15" y="469.05" width="1.5" height="1.5"/>
<rect x="567.35" y="470.55" width="1.5" height="1.5"/>
<rect x="557.95" y="469.65" width="1.5" height="1.5"/>
<rect x="536.15" y="469.05" width="1.5" height="1.5"/>
<rect x="531.75" y="466.45" width="1.5" height="1.5"/>
<rect x="573.15" y="470.85" width="1.5" height="1.5"/>
<rect x="505.45" y="471.45" width="1.5" height="1.5"/>
<rect x="505.95" y="473.85" width="1.5" height="1.5"/>
<rect x="516.35" y="472.05" width="1.5" height="1.5"/>
<rect x="519.65" y="473.25" width="1.5" height="1.5"/>
<rect x="523.25" y="474.55" width="1.5" height="1.5"/>
<rect x="508.75" y="474.85" width="1.5" height="1.5"/>
<rect x="531.35" y="471.45" width="1.5" height="1.5"/>
<rect x="570.95" y="475.35" width="1.5" height="1.5"/>
<rect x="567.35" y="475.75" width="1.5" height="1.5"/>
<rect x="503.35" y="476.35" width="1.5" height="1.5"/>
<rect x="499.05" y="478.15" width="1.5" height="1.5"/>
<rect x="520.25" y="476.95" width="1.5" height="1.5"/>
<rect x="562.55" y="476.55" width="1.5" height="1.5"/>
<rect x="563.95" y="476.55" width="1.5" height="1.5"/>
<rect x="549.85" y="477.75" width="1.5" height="1.5"/>
<rect x="551.45" y="477.75" width="1.5" height="1.5"/>
<rect x="516.05" y="478.75" width="1.5" height="1.5"/>
<rect x="512.75" y="479.75" width="1.5" height="1.5"/>
<rect x="519.25" y="480.55" width="1.5" height="1.5"/>
<rect x="538.15" y="479.05" width="1.5" height="1.5"/>
<rect x="541.75" y="481.15" width="1.5" height="1.5"/>
<rect x="570.35" y="481.15" width="1.5" height="1.5"/>
<rect x="509.95" y="482.35" width="1.5" height="1.5"/>
<rect x="519.95" y="483.35" width="1.5" height="1.5"/>
<rect x="565.15" y="482.15" width="1.5" height="1.5"/>
<rect x="502.75" y="484.15" width="1.5" height="1.5"/>
<rect x="546.55" y="484.55" width="1.5" height="1.5"/>
<rect x="569.75" y="484.15" width="1.5" height="1.5"/>
<rect x="562.75" y="485.35" width="1.5" height="1.5"/>
<rect x="559.85" y="486.95" width="1.5" height="1.5"/>
<rect x="567.65" y="486.25" width="1.5" height="1.5"/>
<rect x="500.25" y="487.75" width="1.5" height="1.5"/>
<rect x="562.25" y="488.15" width="1.5" height="1.5"/>
<rect x="563.95" y="487.75" width="1.5" height="1.5"/>
<rect x="528.95" y="487.15" width="1.5" height="1.5"/>
<rect x="528.45" y="489.05" width="1.5" height="1.5"/>
<rect x="532.95" y="485.75" width="1.5" height="1.5"/>
<rect x="512.05" y="489.05" width="1.5" height="1.5"/>
<rect x="545.85" y="489.85" width="1.5" height="1.5"/>
<rect x="549.45" y="489.85" width="1.5" height="1.5"/>
<rect x="553.45" y="490.55" width="1.5" height="1.5"/>
<rect x="570.05" y="491.05" width="1.5" height="1.5"/>
<rect x="563.15" y="489.85" width="1.5" height="1.5"/>
<rect x="511.15" y="492.65" width="1.5" height="1.5"/>
<rect x="595.35" y="439.25" width="1.5" height="1.5"/>
<rect x="602.05" y="440.35" width="1.5" height="1.5"/>
<rect x="611.75" y="443.05" width="1.5" height="1.5"/>
<rect x="603.65" y="444.25" width="1.5" height="1.5"/>
<rect x="607.25" y="444.85" width="1.5" height="1.5"/>
<rect x="612.05" y="444.85" width="1.5" height="1.5"/>
<rect x="607.25" y="446.75" width="1.5" height="1.5"/>
<rect x="596.85" y="448.85" width="1.5" height="1.5"/>
<rect x="595.65" y="450.35" width="1.5" height="1.5"/>
<rect x="576.65" y="449.75" width="1.5" height="1.5"/>
<rect x="620.55" y="448.85" width="1.5" height="1.5"/>
<rect x="591.75" y="448.25" width="1.5" height="1.5"/>
<rect x="604.25" y="453.75" width="1.5" height="1.5"/>
<rect x="621.35" y="453.95" width="1.5" height="1.5"/>
<rect x="593.55" y="455.15" width="1.5" height="1.5"/>
<rect x="596.35" y="456.95" width="1.5" height="1.5"/>
<rect x="592.75" y="458.15" width="1.5" height="1.5"/>
<rect x="577.55" y="460.05" width="1.5" height="1.5"/>
<rect x="576.05" y="460.65" width="1.5" height="1.5"/>
<rect x="615.95" y="459.75" width="1.5" height="1.5"/>
<rect x="592.95" y="460.65" width="1.5" height="1.5"/>
<rect x="593.55" y="463.25" width="1.5" height="1.5"/>
<rect x="606.25" y="463.25" width="1.5" height="1.5"/>
<rect x="609.85" y="464.25" width="1.5" height="1.5"/>
<rect x="603.65" y="464.55" width="1.5" height="1.5"/>
<rect x="614.15" y="464.85" width="1.5" height="1.5"/>
<rect x="581.55" y="466.05" width="1.5" height="1.5"/>
<rect x="622.55" y="466.45" width="1.5" height="1.5"/>
<rect x="601.15" y="467.65" width="1.5" height="1.5"/>
<rect x="592.75" y="469.35" width="1.5" height="1.5"/>
<rect x="579.05" y="470.05" width="1.5" height="1.5"/>
<rect x="604.45" y="469.65" width="1.5" height="1.5"/>
<rect x="608.95" y="470.05" width="1.5" height="1.5"/>
<rect x="603.25" y="471.25" width="1.5" height="1.5"/>
<rect x="614.15" y="471.25" width="1.5" height="1.5"/>
<rect x="576.65" y="471.85" width="1.5" height="1.5"/>
<rect x="596.65" y="472.45" width="1.5" height="1.5"/>
<rect x="610.15" y="473.25" width="1.5" height="1.5"/>
<rect x="594.75" y="476.55" width="1.5" height="1.5"/>
<rect x="576.35" y="479.75" width="1.5" height="1.5"/>
<rect x="580.25" y="481.15" width="1.5" height="1.5"/>
<rect x="615.35" y="480.35" width="1.5" height="1.5"/>
<rect x="609.85" y="481.15" width="1.5" height="1.5"/>
<rect x="590.85" y="482.95" width="1.5" height="1.5"/>
<rect x="592.95" y="482.75" width="1.5" height="1.5"/>
<rect x="606.05" y="482.95" width="1.5" height="1.5"/>
<rect x="580.85" y="484.75" width="1.5" height="1.5"/>
<rect x="595.35" y="484.55" width="1.5" height="1.5"/>
<rect x="600.45" y="483.95" width="1.5" height="1.5"/>
<rect x="603.85" y="485.35" width="1.5" height="1.5"/>
<rect x="577.85" y="486.95" width="1.5" height="1.5"/>
<rect x="589.55" y="486.95" width="1.5" height="1.5"/>
<rect x="592.75" y="487.45" width="1.5" height="1.5"/>
<rect x="607.85" y="487.45" width="1.5" height="1.5"/>
<rect x="612.55" y="486.95" width="1.5" height="1.5"/>
<rect x="624.65" y="485.95" width="1.5" height="1.5"/>
<rect x="591.15" y="489.05" width="1.5" height="1.5"/>
<rect x="593.55" y="489.85" width="1.5" height="1.5"/>
<rect x="599.25" y="488.15" width="1.5" height="1.5"/>
<rect x="601.65" y="488.15" width="1.5" height="1.5"/>
<rect x="580.25" y="491.05" width="1.5" height="1.5"/>
<rect x="582.75" y="490.55" width="1.5" height="1.5"/>
<rect x="590.35" y="490.55" width="1.5" height="1.5"/>
<rect x="607.75" y="492.25" width="1.5" height="1.5"/>
<rect x="621.75" y="491.45" width="1.5" height="1.5"/>
<rect x="492.25" y="343.55" width="1.5" height="1.5"/>
<rect x="493.05" y="367.05" width="1.5" height="1.5"/>
<rect x="489.55" y="385.05" width="1.5" height="1.5"/>
<rect x="490.65" y="455.45" width="1.5" height="1.5"/>
<rect x="379.45" y="219.55" width="1.5" height="1.5"/>
<rect x="380.65" y="222.35" width="1.5" height="1.5"/>
<rect x="387.35" y="226.85" width="1.5" height="1.5"/>
<rect x="387.05" y="228.35" width="1.5" height="1.5"/>
<rect x="380.35" y="232.55" width="1.5" height="1.5"/>
</g>
<line x1="133.20" y1="41.80" x2="133.20" y2="247.30" stroke="#505050" stroke-width="1.0" />
<line x1="176.80" y1="41.80" x2="176.80" y2="247.30" stroke="#505050" stroke-width="1.0" />
<line x1="129.40" y1="45.00" x2="129.40" y2="247.30" stroke="#0000ff" stroke-width="1.6" stroke-dasharray="7.2 3.85"/>
<line x1="178.10" y1="41.60" x2="178.10" y2="247.30" stroke="#ff0000" stroke-width="1.8" stroke-dasharray="7.2 3.85"/>
<circle cx="140.1" cy="119.4" r="4.2" fill="#0000ff"/>
<circle cx="142.5" cy="150.0" r="4.2" fill="#0000ff"/>
<circle cx="138.0" cy="169.3" r="4.2" fill="#0000ff"/>
<circle cx="136.1" cy="186.2" r="4.2" fill="#0000ff"/>
<circle cx="129.8" cy="201.0" r="4.2" fill="#0000ff"/>
<circle cx="126.3" cy="215.5" r="4.2" fill="#0000ff"/>
<circle cx="126.1" cy="227.4" r="4.2" fill="#0000ff"/>
<circle cx="126.3" cy="239.3" r="4.2" fill="#0000ff"/>
<circle cx="178.5" cy="119.4" r="4.2" fill="#ff0000"/>
<circle cx="182.9" cy="150.0" r="4.2" fill="#ff0000"/>
<circle cx="182.1" cy="169.3" r="4.2" fill="#ff0000"/>
<circle cx="177.1" cy="186.2" r="4.2" fill="#ff0000"/>
<circle cx="176.8" cy="201.0" r="4.2" fill="#ff0000"/>
<circle cx="173.6" cy="215.5" r="4.2" fill="#ff0000"/>
<circle cx="176.3" cy="227.4" r="4.2" fill="#ff0000"/>
<circle cx="176.8" cy="239.3" r="4.2" fill="#ff0000"/>
<line x1="333.90" y1="45.00" x2="333.90" y2="247.30" stroke="#0000ff" stroke-width="1.6" stroke-dasharray="7.2 3.85"/>
<line x1="383.00" y1="41.60" x2="383.00" y2="247.30" stroke="#ff0000" stroke-width="1.8" stroke-dasharray="7.2 3.85"/>
<circle cx="339.4" cy="119.0" r="4.2" fill="#0000ff"/>
<circle cx="337.0" cy="149.6" r="4.2" fill="#0000ff"/>
<circle cx="333.8" cy="168.9" r="4.2" fill="#0000ff"/>
<circle cx="333.3" cy="185.8" r="4.2" fill="#0000ff"/>
<circle cx="332.8" cy="200.6" r="4.2" fill="#0000ff"/>
<circle cx="330.6" cy="215.1" r="4.2" fill="#0000ff"/>
<circle cx="330.4" cy="227.0" r="4.2" fill="#0000ff"/>
<circle cx="327.5" cy="238.9" r="4.2" fill="#0000ff"/>
<circle cx="382.0" cy="119.0" r="4.2" fill="#ff0000"/>
<circle cx="384.0" cy="149.6" r="4.2" fill="#ff0000"/>
<circle cx="383.2" cy="168.9" r="4.2" fill="#ff0000"/>
<circle cx="382.9" cy="185.8" r="4.2" fill="#ff0000"/>
<circle cx="383.5" cy="200.6" r="4.2" fill="#ff0000"/>
<circle cx="382.1" cy="215.1" r="4.2" fill="#ff0000"/>
<circle cx="383.2" cy="227.0" r="4.2" fill="#ff0000"/>
<circle cx="382.9" cy="238.9" r="4.2" fill="#ff0000"/>
<line x1="534.10" y1="41.80" x2="534.10" y2="247.30" stroke="#505050" stroke-width="1.0" />
<line x1="590.00" y1="41.80" x2="590.00" y2="247.30" stroke="#505050" stroke-width="1.0" />
<line x1="538.20" y1="45.00" x2="538.20" y2="247.30" stroke="#0000ff" stroke-width="1.6" stroke-dasharray="7.2 3.85"/>
<line x1="587.50" y1="41.80" x2="587.50" y2="247.30" stroke="#ff0000" stroke-width="1.8" stroke-dasharray="7.2 3.85"/>
<circle cx="534.9" cy="121.4" r="4.2" fill="#0000ff"/>
<circle cx="536.2" cy="150.1" r="4.2" fill="#0000ff"/>
<circle cx="533.5" cy="168.9" r="4.2" fill="#0000ff"/>
<circle cx="534.3" cy="185.0" r="4.2" fill="#0000ff"/>
<circle cx="532.8" cy="199.8" r="4.2" fill="#0000ff"/>
<circle cx="533.0" cy="213.8" r="4.2" fill="#0000ff"/>
<circle cx="533.8" cy="226.5" r="4.2" fill="#0000ff"/>
<circle cx="531.7" cy="238.4" r="4.2" fill="#0000ff"/>
<circle cx="587.3" cy="121.4" r="4.2" fill="#ff0000"/>
<circle cx="591.4" cy="150.1" r="4.2" fill="#ff0000"/>
<circle cx="591.7" cy="168.9" r="4.2" fill="#ff0000"/>
<circle cx="590.1" cy="185.0" r="4.2" fill="#ff0000"/>
<circle cx="590.6" cy="199.8" r="4.2" fill="#ff0000"/>
<circle cx="590.9" cy="213.8" r="4.2" fill="#ff0000"/>
<circle cx="591.7" cy="226.5" r="4.2" fill="#ff0000"/>
<circle cx="590.6" cy="238.4" r="4.2" fill="#ff0000"/>
<line x1="129.50" y1="297.00" x2="129.50" y2="494.40" stroke="#505050" stroke-width="1.0" />
<line x1="174.60" y1="297.00" x2="174.60" y2="494.40" stroke="#505050" stroke-width="1.0" />
<line x1="127.40" y1="297.10" x2="127.40" y2="494.40" stroke="#0000ff" stroke-width="1.6" stroke-dasharray="7.2 3.85"/>
<line x1="175.60" y1="297.00" x2="175.60" y2="494.40" stroke="#ff0000" stroke-width="1.8" stroke-dasharray="7.2 3.85"/>
<circle cx="134.7" cy="357.4" r="4.2" fill="#0000ff"/>
<circle cx="134.2" cy="385.7" r="4.2" fill="#0000ff"/>
<circle cx="135.1" cy="404.3" r="4.2" fill="#0000ff"/>
<circle cx="134.0" cy="421.6" r="4.2" fill="#0000ff"/>
<circle cx="132.3" cy="438.3" r="4.2" fill="#0000ff"/>
<circle cx="127.7" cy="453.0" r="4.2" fill="#0000ff"/>
<circle cx="123.2" cy="466.0" r="4.2" fill="#0000ff"/>
<circle cx="122.6" cy="476.5" r="4.2" fill="#0000ff"/>
<circle cx="173.3" cy="357.4" r="4.2" fill="#ff0000"/>
<circle cx="175.3" cy="385.7" r="4.2" fill="#ff0000"/>
<circle cx="180.4" cy="404.3" r="4.2" fill="#ff0000"/>
<circle cx="178.1" cy="421.6" r="4.2" fill="#ff0000"/>
<circle cx="176.4" cy="438.3" r="4.2" fill="#ff0000"/>
<circle cx="175.9" cy="453.0" r="4.2" fill="#ff0000"/>
<circle cx="173.9" cy="466.0" r="4.2" fill="#ff0000"/>
<circle cx="174.4" cy="476.5" r="4.2" fill="#ff0000"/>
<line x1="331.70" y1="297.00" x2="331.70" y2="494.40" stroke="#0000ff" stroke-width="1.6" stroke-dasharray="7.2 3.85"/>
<line x1="380.40" y1="297.00" x2="380.40" y2="494.40" stroke="#ff0000" stroke-width="1.8" stroke-dasharray="7.2 3.85"/>
<circle cx="334.5" cy="355.2" r="4.2" fill="#0000ff"/>
<circle cx="334.0" cy="385.1" r="4.2" fill="#0000ff"/>
<circle cx="333.7" cy="404.3" r="4.2" fill="#0000ff"/>
<circle cx="332.5" cy="422.5" r="4.2" fill="#0000ff"/>
<circle cx="329.7" cy="438.0" r="4.2" fill="#0000ff"/>
<circle cx="329.4" cy="453.0" r="4.2" fill="#0000ff"/>
<circle cx="327.5" cy="465.8" r="4.2" fill="#0000ff"/>
<circle cx="327.7" cy="477.7" r="4.2" fill="#0000ff"/>
<circle cx="376.8" cy="355.2" r="4.2" fill="#ff0000"/>
<circle cx="381.0" cy="385.1" r="4.2" fill="#ff0000"/>
<circle cx="381.8" cy="404.3" r="4.2" fill="#ff0000"/>
<circle cx="380.4" cy="422.5" r="4.2" fill="#ff0000"/>
<circle cx="381.2" cy="438.0" r="4.2" fill="#ff0000"/>
<circle cx="381.2" cy="453.0" r="4.2" fill="#ff0000"/>
<circle cx="381.8" cy="465.8" r="4.2" fill="#ff0000"/>
<circle cx="380.4" cy="477.7" r="4.2" fill="#ff0000"/>
<line x1="531.00" y1="297.00" x2="531.00" y2="494.40" stroke="#505050" stroke-width="1.0" />
<line x1="587.20" y1="297.00" x2="587.20" y2="494.40" stroke="#505050" stroke-width="1.0" />
<line x1="535.80" y1="297.00" x2="535.80" y2="494.40" stroke="#0000ff" stroke-width="1.6" stroke-dasharray="7.2 3.85"/>
<line x1="585.00" y1="297.00" x2="585.00" y2="494.40" stroke="#ff0000" stroke-width="1.8" stroke-dasharray="7.2 3.85"/>
<circle cx="529.3" cy="355.2" r="4.2" fill="#0000ff"/>
<circle cx="531.4" cy="385.1" r="4.2" fill="#0000ff"/>
<circle cx="535.1" cy="404.3" r="4.2" fill="#0000ff"/>
<circle cx="536.8" cy="422.5" r="4.2" fill="#0000ff"/>
<circle cx="531.7" cy="438.0" r="4.2" fill="#0000ff"/>
<circle cx="528.9" cy="453.0" r="4.2" fill="#0000ff"/>
<circle cx="527.5" cy="465.8" r="4.2" fill="#0000ff"/>
<circle cx="529.4" cy="477.7" r="4.2" fill="#0000ff"/>
<circle cx="579.4" cy="355.2" r="4.2" fill="#ff0000"/>
<circle cx="584.1" cy="385.1" r="4.2" fill="#ff0000"/>
<circle cx="590.0" cy="404.3" r="4.2" fill="#ff0000"/>
<circle cx="590.0" cy="422.5" r="4.2" fill="#ff0000"/>
<circle cx="590.0" cy="438.0" r="4.2" fill="#ff0000"/>
<circle cx="588.0" cy="453.0" r="4.2" fill="#ff0000"/>
<circle cx="589.4" cy="465.8" r="4.2" fill="#ff0000"/>
<circle cx="587.7" cy="477.7" r="4.2" fill="#ff0000"/>
</svg>
</body></html>
